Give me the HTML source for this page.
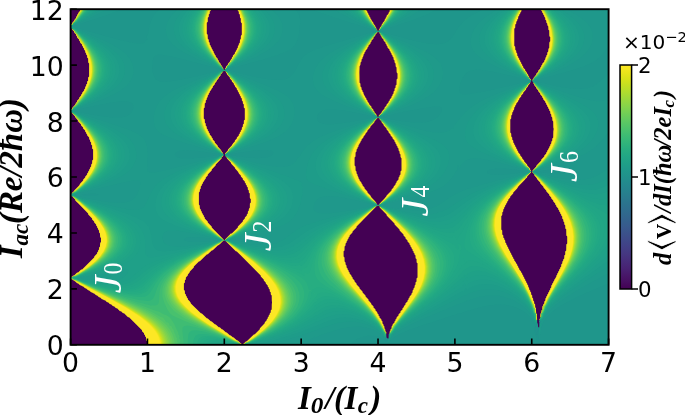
<!DOCTYPE html>
<html lang="en"><head><meta charset="utf-8"><title>Shapiro map</title>
<style>
html,body{margin:0;padding:0;background:#fff}
body{width:685px;height:415px;overflow:hidden}
svg{display:block}
.t{font-family:"DejaVu Sans","Liberation Sans",sans-serif;fill:#000}
.s{font-family:"Liberation Serif","DejaVu Serif",serif;font-weight:bold;font-style:italic;fill:#000}
.j{font-family:"DejaVu Math TeX Gyre","DejaVu Serif","Liberation Serif",serif;fill:#fff}
.m{font-family:"DejaVu Math TeX Gyre","DejaVu Sans",sans-serif;font-weight:normal;font-style:normal}
.n{font-family:"Liberation Serif","DejaVu Serif",serif;fill:#fff}
</style></head><body>
<svg width="685" height="415" viewBox="0 0 685 415">
<defs><clipPath id="c"><rect x="70.6" y="9.2" width="538.0" height="335.6"/></clipPath>
<linearGradient id="g" x1="0" y1="0" x2="0" y2="1"><stop offset="0.0000" stop-color="#fde725"/><stop offset="0.0312" stop-color="#ece51b"/><stop offset="0.0625" stop-color="#d8e219"/><stop offset="0.0938" stop-color="#c2df23"/><stop offset="0.1250" stop-color="#addc30"/><stop offset="0.1562" stop-color="#98d83e"/><stop offset="0.1875" stop-color="#84d44b"/><stop offset="0.2188" stop-color="#70cf57"/><stop offset="0.2500" stop-color="#5ec962"/><stop offset="0.2812" stop-color="#4ec36b"/><stop offset="0.3125" stop-color="#3fbc73"/><stop offset="0.3438" stop-color="#32b67a"/><stop offset="0.3750" stop-color="#28ae80"/><stop offset="0.4062" stop-color="#22a785"/><stop offset="0.4375" stop-color="#1fa088"/><stop offset="0.4688" stop-color="#1f988b"/><stop offset="0.5000" stop-color="#21918c"/><stop offset="0.5312" stop-color="#23898e"/><stop offset="0.5625" stop-color="#26828e"/><stop offset="0.5938" stop-color="#297a8e"/><stop offset="0.6250" stop-color="#2c728e"/><stop offset="0.6562" stop-color="#2f6b8e"/><stop offset="0.6875" stop-color="#33638d"/><stop offset="0.7188" stop-color="#375b8d"/><stop offset="0.7500" stop-color="#3b528b"/><stop offset="0.7812" stop-color="#3e4989"/><stop offset="0.8125" stop-color="#424086"/><stop offset="0.8438" stop-color="#453781"/><stop offset="0.8750" stop-color="#472d7b"/><stop offset="0.9062" stop-color="#482374"/><stop offset="0.9375" stop-color="#48186a"/><stop offset="0.9688" stop-color="#470d60"/><stop offset="1.0000" stop-color="#440154"/></linearGradient></defs>
<rect width="685" height="415" fill="#fff"/>
<g clip-path="url(#c)" shape-rendering="geometricPrecision">
<rect x="69.6" y="8.2" width="540.0" height="337.6" fill="#20938c"/>
<path fill="#1f948c" d="M68.6 346.8l172.8 0 0-2.5 .4 0 .5 0 0 2.5 368.3 0 0-339.6-542 0 0 187.9 2.5 0 .8 .4-.3 1-3 0zM223.8 155.6l-.7-.1 .3-1 1.4 0 .4 1zM378.5 205.5l-.4 0-.3-1 1.4 0 0 1zM385.5 340.6l-.4-1.3 .7-2 .4-3 1.3-.3 1.6 .3-.4 3-1.2 2.5-1 1.3zM531.2 81.7l-.6-.1 .3-1 .6 0 .5 1zM537.2 335.1l-1.5-3.8-.1-4 1.1-3 1.1-2 .2-2 1.6 0 .6 1zM224.8 70.7l-.5-.1 .5-.9 1.3 .9zM378.5 117.6l-.6 0-.4-1 1.7 0 .3 1zM378.5 31.7l-.5 0 .5-.8 1.2 .8z"/>
<path fill="#1f968b" d="M68.6 346.8l172.7 0 0-2.5 .5 0 .6 0 0 2.5 294.6 0-.1-8.5-.6-2-.6-1-.8-3-.3-4 .5-2 .4-1 1.7-1.9 .5-1.1 .2-2 .3 0 1.5 0 .8 1-1.8 8-.3 3-.2 3 1.2 5 .1 6.5 71.1 0 0-339.6-542 0 0 187.8 2.5 0 1 .5-.4 1-3.1 0zM223.8 155.6l-.8-.1 .2-1 1.8 0 .3 1zM378.5 205.5l-.6 0-.3-1 1.7 0 .1 1zM385.5 341.8l-.7-1.5 0-1 1-2 .3-3 1.4-.3 1.6 .3-.4 3-1.2 2.8-1 1.9zM531.2 81.7l-.8-.1 .1-1 1.3 0 .3 1zM224.8 70.7l-.7-.1 .3-1 1.4 .2 .5 .8-.5 .3zM378.5 117.6l-.8 0-.4-1 2.1 0 .4 1zM378.5 31.7l-.7 0 .5-1 1.2 .3 .5 .7-.5 .2z"/>
<path fill="#1f988b" d="M68.6 346.8l172.6 0 0-2.5 .6-.1 .8 .1 0 2.5 108.8 0 0-2.5 .4-1 1.7-2 3.2-2 5.9-2.3 5.9-1.2 6 .1 5 1.2 4 2.2 1-.2 .3-.8 .7-.4 .6-3.6 1.4-.4 1 .2 .7 .2-.2 2-1.5 5 0 .5 1 .5 1.3-1 2.7-3 4.6-3 8.9-4 13.6-5 40-13 2.8-.4 .4-.6 1.6-.4 1-.7 2-.3 11.9-3.4 9-2 10-.9 6 .2 5 .8 6 1.7 5 2.2 5 3.1 3.9 3.6 3 3.7 2 3.9 1 .7 1-.3 1-1.1 .6-2.8 2 0 1 1-.8 2-1.2 7 .4 5.3 1-1.3 2-9.6 .9-2.4 1.1-1.9 2-2.7 3-3.2 6-5 6-4 5.4-3.1 13.9-7 25.6-11 2-.5 2.5 0 0-209.5-2.5 0-1 .5-8.4 7.7-5.6 3.6-5 1.8-6.9 1-10.5-.4-13-2-17.6-4-3.1-1-1-1 5.9-2 31.3-8.6 8.9-2.9 7-2.8 6-3.3 4.5-3.4 2.8-3 4.7-6.6 1-.8 2.5 0 0-34.1-2.5 0-.5-.4 .5-.5 2.5 0 0-5-12.8 0 0 2.5-2.7 .1-2.1-.1 0-2.5-110.5 0 0 2.5-11.6 6-4.3 3-3.4 3-4.3 5-2.7 4-1.8 3.4-2.7 3.6-3.3 3.3-2.6 1.7-2.4 .9-6 .7-8-.6-15.1-3-25.8-7-5.6-2-1-1 4.6-2 26-8.4 12.9-5 8.9-4.6 1.1-1 0-2.5-121.7 0 0 2.5 1.5 1 4.7 2 15.7 5.4 34 10.6 2.8 1 1.6 1-.8 1-2.6 1-46 13.6-9 3.1-5.9 2.6-3 1.9-3.3 2.7-4.7 7.1-4.1 7.9-1.9 2.7-2 2-2 1.4-3 1.3-4 .8-4 .2-10-.8-14.3-2.6-20.7-5-3.1-1-1.1-1 2.1-1 3.3-1 27.8-7.6 16-4.9 9-3.6 3.3-1.8 2.5-2 2.5-3 2.4-5 1.6-6 1-9 .3-5-.1-1-.8-1-.2-1 .4-2-.9-.7-1-1.8-2.2-2.5 0-2.5-136.7 0 0 2.5-2.9 3-2.3 3-2.9 6-1.4 5-1.5 8-.9 1-.4 1 .8 2-.3 1-1.5 1-.5 1.5-.7 .5-2.3 .9-2 .1-8-1-13-3-32.6-9-12-4 .3-1 2.5-1 26.8-8.6 14.7-5.4 1.7-1 0-2.5-51.8 0 0 187.7 2.5 0 1.2 .6-.5 1-3.2 .1 0 81.7 2.5 .1-2.5 0zM84.1 195.5l-2.7-1 8.7-.7 5-.1 4 .8-2.5 1-1.5 .1zM114 117.6l-10.7-1-12.3-2-14-3-1.8-1 2.6-1 8.4-2 24.8-5 11-1.3 6 .3 3 1.1 1 .9 1.1 2 .2 2-.3 2-.8 2-1.2 1.6-3 2.3-3 1.2-5 .8zM160.9 81.7l-3.4-1.1-2.4-2-1.5-3-1.5-6 .6-8 .6-3 .6-1.4 1-1.2 2-1.1 3-.3 3 .3 10 1.9 38.3 9.8 6.8 2 2 1-1 1-6.8 2-16.5 4-13.8 3-13 2-4 .3zM182.9 158.5l-4-.7-2-.8-.9-.5-.8-1-.3-1 .1-1 .8-1 1.1-.6 2-.8 3-.6 6-.3 8 .6 13.1 1.7 5.7 1 3.7 1-2.1 1-12.8 2-11.6 1.1zM223.8 155.6l-.9-.1 .1-1 2.2 0 .2 1zM246.8 157.6l-14.5-2.1-2-1 3.7-1 19.8-2.9 8.9-.7 4 0 4 .6 2.1 1 .6 1 0 1-.6 1-1.1 1-1.9 1-3.4 1-8.6 .7zM322.6 123.8l-3.1-1.2-1.9-2-.6-2 .4-3 1.1-2 2.3-2 2.8-1.3 3.8-.7 7.2-.1 9.4 1.1 16.3 3 12.5 3-.3 1-3.8 1-21.4 4-7.7 1-8 .7-5 0zM378.5 205.5l-.7 0-.3-1 1.9 0 .2 1zM414.5 122.6l-10.3-1-12-2-8.7-2-.1-1 17-4 25-4.9 9-1.3 5 .2 2 1 .5 1 0 2-.8 2-1.2 2-1.8 2-2.4 2-3.8 2-4.5 1.3-6 .7zM461.4 93.9l-1.6-1.3-.6-3 1-6 2.2-5 1.7-3 2.3-2.5 3-1.9 3-1 3.9-.4 5 .1 11 1.7 21.8 5 11.1 3 2.2 1-1 1-7 2-35.1 8-15.9 2.7-4 .2zM491.3 174.6l-3.6-1.1-.8-1 .2-1 1.1-1 2.3-1 5.8-1 7.1 0 10.9 1 6.9 1 4 1-3 1-16.4 2-8.5 .4zM531.2 81.7l-.9-.1-.1-1 1.8 0 .3 1zM551.2 173.5l-9.7-1-3-1 4.3-1 15.5-2 6.9-.4 6 .3 1 .2 1 .9-.5 1-1.5 1-5 1.4-6 .7zM224.8 70.7l-.9-.1 0-1 2.2 0 .4 1-.7 .5zM377.5 117.6l-.4-1 2.8 0 .2 1-.6 .3zM378.5 31.7l-.9 0-.1-1 2.1 0 .7 1-.8 .4z"/>
<path fill="#1f9a8a" d="M68.6 346.8l172.5 0 0-2.5 .7-.1 .9 .1 0 2.5 57 0 0-2.5 .9-1 3.4-2 8.7-3.1 1.9-1.7 1 .7 1-.3 3.9-1.6 19.1-6.2 8.4-1.8 7.6-.7 4 .1 5 .6 3.9 1 4 1.3 3.7 1.7 3.3 2 2 1.6 3 3.4 1-.6 .6-3.4 1.4-.4 1.7 .4-.3 3-.9 3 .5 1 1.3-1 2.7-4.3 4-3.5 6.7-4.2 9.9-5 11.3-5 29-12 8-3.2 2-.3 1-.9 1.8-.5 .2-.7 2-.2 10.9-3.5 9-1.6 9 .2 3 .3 5.9 1.5 8.1 3.2 7 4.3 5 4.2 3.9 4.7 3 5 1.1 3.5 .9 1.5 1 .1 1-1 .5-2.6 2.2 0 1.3 1-.2 1-.9 1-.4 5-.5 2 0 1.9 1-1.3 1.4-5.6 .3-2-.4-2 .7-.2 1-1.3 2-3.6 3-4 4-4.2 4-3.6 11.1-8 16.7-10 22.1-11.8 2-.7 2.5 0 0-104.6-2.5 0-1 .3-10 5.8-6 2.5-6.3 1.6-6.6 .6-10.9-.6-11.7-2-15.9-4-2.8-1-1.6-1 5.3-2 27.6-8.6 10-3.8 6.9-3.3 6-3.5 6.1-4.8 4.9-5 5-6.3 1-.7 2.5 0 0-29.3-2.5 0-.8-.6 3.3-.3 0-2.6-3.2-.1-1.3-1.6-2 1.5-1 .3-3 .5-3-.1-5-.6-8-1.9-16.3-5.1-22.7-8-7.6-3-1.7-1-.9-1 3.9-2 18.4-7.6 10-4.7 9.6-5.7 4-3 3.4-3 2.7-3 2.8-3.9 1.8-4 .9-3 .5-4-.1-3-1.1-4-1.6-3-3.2-4-4.8-4.1-4.9-3.4-9.4-5.5 0-2.5-71.4 0 0 2.5-9.1 6-5.1 4-4.9 5-3.5 5-2.2 5-1 5 .2 5 1.3 4 2.5 3.9 2.9 3 4 3 4.8 3 13 6.4 25.6 10.6 3.7 2-.9 1-1.9 1-29.5 11.4-9 3.9-8 4.1-7.9 5.1-6.3 5.5-4.4 5-7.1 9-.2 1.5-.5 .5-.5 .2-1-.9-.9 1.7-1.1 .7-2.5 1.3-2.5 .7-4 .5-4-.2-7-.9-12.9-3.1-26.9-8-5.6-2-2-1-.5-.6-1-.2-.2 .8-.8 .4-2.3-.4-.3-1 2.6-.4 1 .3 2-.2 3.9-1.7 23.1-8.5 12.9-6.1 7.3-4.4 4.8-4 4.2-5 2.7-5 1.2-4 .4-3 0-3-.5-3-1-3-1.8-3-2.6-3-2.7-2.3-3.7-2.7-5.1-3-13.1-6.4-27-11.5-4-2.2-2 .7-1-.5-1.3 0-.2-1 4.5-.3 2.8-1.7 16.2-7.5 10.6-5.5 7.8-5 1-1 0-2.5-84.4 0 0 2.5 1.1 1 4.6 3 12.4 6.5 17.9 8.3 3.5 2.2-.3 1-4.2 2-19.9 8.5-12 5.8-9 5.3-6 4.6-3.7 3.7-2.3 3-1.8 3-1.7 4-1 4-.2 3 .2 4 .9 3 1.5 3 2.5 3 3.7 3 3.9 2.5 7.2 3.5 8.8 3.7 30.8 11.3 1.8 1 0 1-5 2-34.6 11.5-10 3.9-6 2.8-6.1 3.7-4.9 4-4.3 5-2.1 3-1.5 2.8-2 1.4-2 3.5-3 2.7-2.9 1.6-3.1 1-4 .4-4 0-10.9-1.4-13.8-3-22.1-6-2.6-1-1.5-1 5.2-2 23.8-7.4 10.9-3.9 10-4.4 7-4.5 3-2.7 2.4-3 2.3-4 1.3-4 .8-5 0-4-.8-4-1.3-3-2-3-3-3-4.3-3-5.4-3-15-6.5-30.1-11.5-2.8-1.2-2-1.3-1-.3-.1 .8-.9 .6-1-.5-1.1-.1-.2-1 4.3-.2 3.2-1.8 15.8-6.5 9-4 10.9-6 7.2-5.4 3.8-4 2.1-3 1.5-3 1.1-4 .3-4-.3-3-.9-3-2-4-3.1-4-4-4 0-2.5-95.6 0 0 2.5-3.9 4-3.2 4-2.1 4-1.3 4-.4 4 .4 4 1 3 2.2 4 2.4 3 3.3 3 4 3 4.9 2.9 12.8 6.3 20.8 8.7 3.2 2-.8 1-4.1 2-22.1 8.5-14 6-8.6 4.5-7.1 5-3.1 3-2.4 3-1.7 3-1.7 4-1.1 4-.4 4 0 4 .7 4 1.3 3 2.5 3 3.6 2.6 4.9 2.3 15.1 5.6 33.8 10.4 2.9 1 1.7 1-1 1-2.7 1-28.9 8-26.8 6.7-6 1.2-3.9 .3-1-.1-1-1-1-.1-.4-1-.1-1 .5-1-.8-1-.1-2 .6-2-.4-2 .4-7-.7-8.3-1.6-4.7-1.1-2-1.5-2-1.8-1.6-5-3-7.7-3.3-13.3-4.7-34.8-11.3-5.1-2-1.3-1 4.1-2 18.2-6.6 9.9-4 8-3.7 7-4 5.9-4.7 1.8-2 2.1-3 2.1-5 .6-3 .1-3-.3-3-.9-3-2.5-5-4.3-5-5-3.9-6.4-4-8.2-4.3-32.9-14.7 .6-1 1.8-1 18.6-8.6 10.1-5.4 1.3-1 0-2.5-36.9 0 0 187.6 2.5 0 1.4 .7-.6 1-3.3 .1 0 81.4 2.5 0 .2 .4-2.7 0zM112 202.5l-8.2-1-16-3-11.9-3-.6-1 10.4-3 37.3-9.1 10-2 5-.2 1 .4 .8 .9 .4 1 0 2-.5 3-1.3 4-1.4 3-2 3-2 1.9-3.7 2.1-4.3 1-6 .4zM187.9 241.5l-3.1-1.1-.7-1 .5-1 2.7-1 3.6-.3 9 .2 9.8 1.1 6.1 1 .3 1-7.2 1-10 .7-6 0zM223.8 155.6l-1-.1 .1-1 2.5 0 .1 1zM241.8 241.4l-9.2-1 .5-1 6.4-1 8.9-1 7.4-.4 5.2 .4 1.2 1-.8 1-2.3 1-4.3 .8-6 .4zM321.6 213.5l-4-.7-2.5-1.3-1.3-2-.2-3 1.2-4 2.3-3 2.9-2 3.6-1.1 7-.4 11 1.3 15.4 3.2 15.7 4 .1 1-3.1 1-19.7 4-17.4 2.5-6 .6zM378.5 205.5l-.9 0-.2-1 2.1 0 .3 1zM415.5 210.5l-13-1-11.8-2-7.7-2 .5-1 30-7.5 10.9-3 9-3 7-3.2 3-1.8 3.3-2.5 2.7-2.6 2.8-3.4 2.2-3 1-2.2 1.8-1.8 .1-4 1.1-1.5 1 3.5 1-1 .9-3 .9-1 3.2-2.7 3-1.5 4-.9 3.9-.1 6 .6 5 .9 11.5 2.7 14.4 4 10 3 3 1 1.7 1-1.5 1-2.9 1-39.2 10.5-16.9 5.1-7 2.7-5 2.3-5 3-10.9 7.4-6.1 3-7 2-5 .7zM530.2 81.8l-.6-1.2 2.6 0 .3 1zM607.6 97.6l.5 .7 2.5 0 0-3.2-2.5 0-.5 .5z"/>
<path fill="#1e9c89" d="M68.6 346.8l172.4 0 0-2.5 .8-.1 1 .1 0 2.5 30.9 0 0-2.5 1.8-1 2.7-1 21.5-6.5 12-4 1.9-.9 2-.3 1-.6 10.3-3.7 11.7-3.8 2 .2 3-.8 6-.5 6 .4 5 .9 5.7 1.6 4.8 2 5.4 3 3 2.3 3 3 1.4 2.7 .6 .6 1-.4 .5-3.2 1.5-.4 1.7 .4-.2 3-.8 2 .3 1.4 1-.7 1.3-1.7 1.7-3.3 5-4.8 7-4.8 9-5.1 48.9-23.8 2-1.6 2 .3 2-1.6 8.9-2.9 5-1.1 4-.4 6 .1 7 1.2 7 2.3 7 3.5 8 5.6 4 3.7 2.9 3.4 4 6 2 5.2 .4 2.1 .6 .9 1 .4 1-1 .5-2.3 2.4 0 1.1 .6 1.7-1.6 3.3-6.2 4-5.2 6-6 7-5.8 15-10.6 23.9-15.2 5-2.9 1-.3 2.5 0 0-89.1-2.5 0-2 .6-2 1.9-6 2.4-4 1.3-6 .8-6 .1-10.9-1.6-12-3-15.8-5-5.3-2-3.9-2 29-11.6 8-3.8 7.8-4.6 6.1-4.5 5.6-5.5 3.7-5 2.8-5.9 .8-3 .3-3-.1-3-.8-3-1.5-3-1.4-2-4.3-4-4.2-3-9-5-10.8-5.3-27.6-12.7-3.4-2-1-1 20-10.2 9-5.2 7.9-5.6 6.4-6 2.3-2.9 1.9-3 1.3-3 1-4 .2-6-1.6-5-1.7-3-3-4-4.1-4-12.1-9 0-2.5-59.9 0 0 2.5-10.3 8-5.9 6-2.8 4-2 4-.9 3-.6 4 .2 4 1.2 4 1.5 3 2.2 2.9 2.8 3 3.4 3 9.7 6.6 9 5 15 7.5 3.9 2.5 1 .3 1-.2 2.4 .3 0 1-2.4 .4-1-1.1-4.5 2.7-24.4 11.5-11.6 6.5-5.4 3.6-4.2 3.4-3.2 3-3.5 4-2.8 4-2.1 4-1.5 4-.8 4-.2 3.9 .5 3 1.3 3 2.5 3 3.9 3 6.1 3.5 16 6.9 29.6 11.6 3.3 1.8 3.3 .2-3.3 .3-.9 .7-4.9 2-27.1 9.4-13 5.1-7 3.1-7.9 4-7 4.3-10.7 7.1-5.4 3-6.9 2.6-7 1.3-5 .2-5-.2-12.9-1.9-16.8-4-6.5-2-2-1 .3-1 2.5-1 22.5-7.5 12-4.8 8.9-4.5 4-2.5 3.6-2.7 3.3-3 3.4-4 2.6-4 1.9-4 1.6-5 .5-4-.3-4-1.1-3-2.1-3-3.5-3-3.9-2.4-6.9-3.6-44-17.9-6-2.9-1-.1-1 .6-1-.6-1.5 0-.2-1 1.7-.1 1-.6 1 .4 2-.4 23-10.7 11.6-6.6 4.2-3 3.5-3 2.9-3 2.2-3 1.8-3 1.2-3 .7-4 .2-4-.6-3-1.7-4-2.7-4-3.9-4-4.9-4-5.5-3.7-8-4.6-22-11.6-3-1.9-1 0-1 .5-1-.6-1.7 0-.3-.9-.9 .9-2.1 .7-21.9 11.8-10.7 6.5-5.5 3.9-4.4 4-3.5 4-2.6 4-2 5-.6 4 .4 5 1.4 4 1.8 3 3.4 4 3.4 3 4.2 3 5.7 3.4 8 4.2 22.7 10.4 1.5 1 .2 1-6.5 3-20.9 8.5-11 5.1-9.5 5.3-6.8 5-3.2 3-3.3 4-2.6 4-1.9 4-1.7 5-1.1 5-.5 5 .2 3 .7 2 1.8 1.9 4.9 2.6 15 5.4 42.9 14.1 2.2 1 0 1-5.2 2-48.9 13.2-13.9 4.5-7 3.2-14.9 11-3.6 2-3.5 1.5-5 1.3-3 .5-9.9 .3-8-.6-13-2-8.2-2 .4-1 41.7-10.4 10-3.3 4-1.9 3-1.8 3-2.4 2.7-3.1 1.9-3 2-4 2.1-6 1.4-7 .7-2-.5-2 .9-1-.6-2 .1-1 1.2-1-.9-.8-1.5-2.2 1.4-1-1.9-1.4-5.2-2.6-17.8-6.5-42-14.5-5.1-2-3.6-2 27.8-11.4 7.9-3.8 6.6-3.8 6.4-4.8 4-4.1 2.5-4 1.6-4 .6-3 .1-3-.4-3-1-3-1.5-3-2.1-3-5.1-5-7.7-5.3-10.9-6-22.5-10.7-5.5-2.9-1 0-1 .6-1-.6-1.4-.1-.3-1 2.7-.3 1 .1 1-.3 2.2-1.5 16.8-8.5 7.8-4.5 5.1-3.4 4.6-3.5 4.1-4 3-4 1.6-3 1.4-4 .4-4-.4-4-1.3-4-1.6-3-2.1-3-4.5-5 0-2.5-81 0 0 2.5-4.5 5-2.1 3-2 4-1 3-.5 4 .4 4 1.2 4 1.6 3 2.2 3 2.8 3 3.4 3 4.5 3.3 9.3 5.6 17.6 9.1 4.7 2.9-.7 1-3.5 2-18.4 8.7-11 5.7-7.5 4.6-6.5 5-3 3-2.4 3-2.8 5-.9 3-.6 3 0 3 .5 3 1.4 4 2.7 4 4.1 4 5 3.5 6.1 3.4 6.9 3.3 26.4 10.7 3.7 2-.9 1-4.6 2-23.6 8.5-13 5.1-9 4.1-5.8 3.3-6.4 5-4.3 5-2.9 5-3.3 8-3.2 5.4-2.3 1.6-1.7 .8-5 .7-5-.3-7-1.1-17.8-4.1-24.9-7-5.3-2-.5-1 4.8-2 16.8-5.6 12.9-4.8 9-4.1 6.3-3.5 5.1-4 1.9-2 2.1-3 2.2-5 .7-3 .1-3-.6-5-2.1-5-3.8-5-4.9-4.1-7-4.4-8-4-33.8-14.4-3.3-2 26.1-12.4 8.3-4.6 5.9-4 5.5-5 3.7-5 1-2 1.2-4 .3-4-.3-3-.8-3-2-4-3.8-5-5.4-4.9-5.6-4-7-4.4-27.4-14.6 .5-1.1 17-9.4 8.8-5.5 1.1-1 0-2.5-31.4 0 0 187.5 2.5 0 1 .2 .5 .6-.6 1-3.4 .1 0 81.2 2.5 0 .4 .6-2.9 0zM172.9 246.5l-4-.8-2.8-1.3-2.2-2-1.3-3-.1-3 1-3 2.1-2 3.3-1 7 0 8 1.1 18.8 3.9 16.2 4 .1 1-3.5 1-15.8 3-15.8 2-6 .3zM222.8 155.5l-.4-1 3.2 0 0 1zM377.5 205.5l-.2-1 1.2-.1 1.2 .1 .3 1-.5 .2zM540.1 327.3l.1 .7 1-3.3 0-1.5-1 .4zM374 29.7l1.5 .9 3 0 3-.5 2-1.5 17-9.4 8.4-5.5 4.8-4 0-2.5-71.4 0 0 2.5 4.9 4 8.4 5.4 15.4 8.6z"/>
<path fill="#1f9e89" d="M68.6 346.8l172.3 0 0-2.5 .9-.1 1.1 .1 0 2.5 15.4 0 0-2.5 17.4-4.5 14-4.2 14-4.9 9-3.7 1.9-.2 1-.8 3-1.3 13-4.9 7-1.9 6-.4 6 .2 6 1.1 6 1.8 6.4 2.7 5.5 3.3 5 3.9 3 3.2 2 3.8 1-.2 .5-3 1.5-.4 1.8 .4-.2 3-.7 2 .1 .8 1-.6 .9-1.2 1.1-2.6 1-1.4 4-4.3 6-4.7 9.3-6 49.6-27.5 1-.5 2 .3 .4-2.2 .6-1.2 2 1.6 .8-.4 1.2-1.5 4-1.7 4.9-1.4 5-.7 7 .1 6 1.4 8 2.9 7.2 3.9 5.8 4 4 3.3 4 4 2.9 3.6 3 4.6 2 4 1 3.1 .4 2.3 .6 1.5 1 .5 1-1 .4-2 3.6 .1 1.9-2.1 2.1-4.8 5-7.1 5-5.4 6-5.5 13-10.2 31.9-23 2-1 2.5 0 0-76.4-2.5 0-1 .3-5 2.5-6 1.7-6 .3-7-.6-10.9-2.6-12.3-4-15.7-6-5-2.1-5.6-2.9 25.6-11.6 7-3.8 7.3-4.6 5.2-4 5-5 3-4 3-5.9 1-6-.2-3-.8-3-1.3-3-1.9-3-4.4-4.6-5.4-4.4-6.5-4.3-11-6.3-20-10.6-3-1.8-2.5-2 18.5-10.6 8.3-5.4 7.6-6 5.5-6 2.1-2.9 1.9-4 1-3 .4-3 .1-3-.5-3-.9-3-2-4-2.9-4-3.7-4-10.8-9 0-2.5-53.3 0 0 2.5-9.4 8-3.8 4-2.3 3-1.9 3-1.8 4-1.1 4-.2 3 .4 4 .8 3 1.9 4 2.1 2.9 2.6 3 4.3 4 5.2 4 5.5 3.7 18 10.5 2.9 2.2 1 .4 1-.3 1 .4 1.7 .1-.1 1-1.6 .1-1 .5-1-.7-1 .3-4.6 2.8-21.3 11.5-10.2 6.5-7.4 6-3.9 4-2.4 3-2.4 4-1.3 3-1.2 4-.4 3 .1 3 .7 2.9 1.8 4 3 4 4.6 4 5.8 4 12.2 6.6 22.3 10.4 4.6 2.5 3.9 .5-2.9 .3-1 .4-4.6 2.3-23.3 9.4-14 6.2-9 4.7-6.9 4.2-6.5 4.5-11.5 8.6-2 .8-2 1.5-6 2.4-6 1.3-5 .2-5-.3-6-.8-7.9-1.7-11.3-3-9.6-3-8.2-3-1.7-1 .4-1 2.1-1 19.3-7.6 9-4 6-3.1 5.4-3.3 5.4-4 5.1-5 3.5-5 2.1-5 .7-3 .2-3-.3-3-.9-3-1.5-3-2.2-3-1.9-2-3.7-3.1-7-4.5-6.9-3.9-30-14.3-5-2.9-1-.1-1 .6-1-.6-1.8-.1-.1-1 1.9-.1 1-.8 2 .3 1-.5 22-11.6 9.5-6.3 6.7-6 2.6-3 2-3 1.4-3 1.2-4 .4-4-.4-3-.8-3-1.3-3-1.9-3-3.3-4-3.1-3-5-4-8.7-5.9-18.3-10.9-4-2.8-1-.1-1 .6-1-.8-2 .1-2 .4-19.9 11.9-9.7 6.6-4.9 3.9-4.2 4-3.2 4-2.4 4-1.8 5-.5 4 .4 4 1.2 4 1.6 3 3 4 3 3 4.9 4 11.6 7.3 19.9 10.6 1.7 1.1 .5 1-1.2 .3-5 2.7-15.9 7.5-10 5.1-9 5.3-6.8 5-3.2 3-3.5 4-3.5 6-1.4 4-.6 3-.1 3 .4 3 1.3 4 1.9 3 2.8 3 5.1 4 7.1 4 9.5 4.4 28.6 11.6 1.9 1 0 1-4.3 2-34.2 11.3-16 6.1-6 2.7-5.9 3.2-5 3.2-10.7 7.4-4.3 2.5-6 2.5-6 1.2-5 .3-5-.1-11.9-1.3-15-3.1-7.5-2-2.6-1 .4-1 2.7-1 19-5.6 13.9-4.9 9-4 6-3.5 6-4.9 3.8-5 1.6-3 1.1-3 .7-4 .2-3-.4-3-.8-3-1.5-3-1.5-2-4.1-4-7.1-4.7-12-6-33.8-14.3-5.1-2.8-1-.2-.1 1-3.3 0-.4-1 .8-.2 3 .2 2-.6 21-9.7 8.7-4.7 7.7-4.9 5.8-5 4.1-5 2.4-5 .9-5-.5-5-1-3-1.5-3-3.9-5-5.4-5-5.5-4-6.4-4-21.9-12-4.5-2.8-1 0-1 .7-1-.8-1.7-.1-.3-.7-1 0-.6 .7-3.4 2.1-23.9 13.2-7.1 4.7-5.2 4-5 5-3.5 5-2.1 5-.7 5 .4 4 1 3 1.5 3 3.1 4 4.6 4.2 5.3 3.7 7.7 4.5 10 5 14.2 6.5 3.5 2-2.8 2-24.9 10.6-10 4.6-8 4.3-6.8 4.5-5.5 5-2.5 3-2 3-1.5 3-1.3 4-.8 4-.1 3 .5 5 1.5 4 2.5 3.1 2.4 1.8 2.6 1.6 9 3.9 9 3.1 34.2 10.4 2.6 1 .2 1-10.3 3-22.6 5-15.1 2.4-9 .5-5-.9-2-1.1-1.7-1.9-1.5-3-.9-5-.2-3-.4-2-.6-1-.4-3-1.1-2 .1-1-4.2-4.9-2.8-2.1-6-2.9-9.2-3.7-48-16.3-4.5-2-.6-1 30.1-12.7 8.3-4.3 5.7-3.7 5.1-4.3 3.8-5 1.1-2 1.1-3 .7-5-.8-5-2.2-5-4-5-5.7-4.9-5.9-4-8.2-4.6-29.9-14.9-1-.1-.2-.4 1.2-.2 21-11.3 7.4-4.5 6.8-5 5.2-5 3.5-5 2-5 .6-5-.8-5-2.2-5-2.8-4-4.7-4.9-6.1-5-7.3-5-23.6-14 1-1.3 15-9.3 7.8-5.4 1-1 0-2.5-28.3 0 0 187.4 3.5 .1 .7 .8-.8 1-3.4 .1 0 80.9 2.5 0 .6 .9-3.1 0zM86.1 279.4l-7.7-1 .8-1 13-2 9.8-1 5-.1 2 .3 2 .7 .4 1.1-1 1-2 1-4.4 1-7.9 .4zM224.8 240.5l-.9-.1 1.9-.3 .3 .3-.3 .3zM377.5 205.5l-.2 0-.1-1 1.3-.2 1.3 .2 .3 1-.6 .4zM220.4 68.6l1.4 .9 3 .1 1-.5 1 .2 19-11.1 6.8-4.6 6.3-4.9 4-4 3.1-4 2.2-4 1.1-3 .6-4-.2-4-.7-3-1.7-4-2.6-4-4.1-5 0-2.5-72.6 0 0 2.5-4 5-2 3-1.5 3-1.3 4-.5 4 .2 3 .7 3 1.7 4 1.9 3 3.4 4 6.8 5.9 9.5 6.5 14.9 8.7zM374.4 29.7l1.1 .7 2 .2 3-.3 1-.6 15.7-10 8.4-6 4.4-4 0-2.5-63.8 0 0 2.5 3.1 3 7.3 5.3 14.9 9.5z"/>
<path fill="#1fa088" d="M68.6 346.8l172.2 0 0-2.5 1-.1 1.2 .1 0 2.5 8.1 0 0-2.5 14.6-3.5 17-5.1 10-3.5 8-3.2 14.9-6.6 .5-1.1 .5-.1 1 .3 .7-.2 2.3-1.4 7-2.9 7-2.1 7-.9 6 .3 6 1.2 6 1.9 6.9 3.1 7 4.1 5 4 4 4.4 2 4.2 1-.1 .5-2.8 1.5-.4 1.8 .4-.3 4 .5 .8 1.2-1.8 .7-2 3.1-4 3-3 5-4.1 10-6.7 29.9-18.1 19-12.2 1-.8 2-3.3 1 1.9 1 1.1 2-2.7 2-1.2 5.9-2 5-.7 4 0 5 .8 8 2.6 9 4.5 9 6.2 7 6.4 3 3.4 2.9 4 4 7.4 1.6 6.5 .4 1.1 1 .7 1-1.2 .3-1.6 3.7-.2 1-.9 .7-.9 1.3-3.7 1-1.9 4-6.2 5-5.9 7-6.8 9-7.7 21.1-16.7 14.8-12.3 2-1.1 2.5 0 0-64.5-4.5 .1-.3 .9-.7 .4-1-.2-3 1.1-5 .5-6-.5-8-1.7-11.9-4.1-13.7-5.5-15.7-7-6.6-3.6-3-.4-1 .7-1-.2-1.9 .8-5.1 2.7-22.9 10.3-16 8.3-6 3.7-5.9 4.2-15 12.4-7 4.9-8 2.2-4 .3-4-.2-4-.4-6-1.1-13.3-3.6-17.4-6-9.9-4-1.6-1 .5-1 1.9-1 16.9-7.4 12-6 7.3-4.6 6.3-5 2.9-3 3.1-4 1.1-2 1.7-4 .9-4-.3-4-1-4-2.6-5-3.6-4-4.6-4-7.1-5-11.1-6.4-20-10.5-4-2.6-1-.1-1 .5-1-.7-3 .1-1 .3-25.9 14-8.8 5.4-6.6 5-5.1 5-4.4 6-2.1 5-.8 5 .2 4 1.6 5 3 4.6 5 4.6 5.3 3.8 6.9 4 10.8 5.4 19.1 8.6 1.8 1 0 1-6.4 3-30.5 11.4-14 6.1-7 3.7-6.9 4.3-12 8.9-1.3 .5-1.7 2-6 2.7-4 1.4-4 .7-4 .4-5-.1-7-.7-12.6-2.4-18.7-5-5-2 .2-1 21.2-7.5 11.9-4.8 9-4.7 7.2-4.9 4.8-5.1 3-4.9 1.5-5 .3-3-.2-3-1.6-5-3.3-5-4.7-4.6-6.3-4.4-11.7-6.5-26.4-12.5-6.5-3.5-1 .2 0 .3-2 .2-1.6-.2-.4-.7-4.6 2.7-28.3 13.6-7.7 4.4-6.3 4.3-5.4 4.7-2.6 3-2.1 3-2.3 5-.8 3-.4 3 .5 5 .9 3 1.1 2 3.1 4 4.8 3.9 6.2 3.6 8 3.7 11 4.3 21 7.4 2.2 1 .1 1-5.3 2-10.4 3-31.6 8.1-15 3.1-5 .7-3.9 .1-1-.4-1-1.4-1-.4-.6-.8-.3-2 .2-11-.6-4-1.2-4-2.7-5-2.5-3-2.1-2-6.2-4.2-9-4.6-13-5.5-29.8-11.6-4.2-2-.6-1 26.6-12.3 8.3-4.7 6.9-5 5-5 3.1-5 1.4-4 .2-7-1.7-5-3.2-5-3.7-4-6.1-4.9-12.2-7.7-23.9-13-1-.3-1 .2-.6-.2-.4-.5-2.5 0 0 83.4 3.5 0 .9 1-.9 1-3.5 .1 0 80.8 2.6 0 .7 1-3.3 0zM96.1 281.4l-15.4-2-4.1-1 .5-1 23.6-5 16.3-3 8-.7 2.5 .7 .7 1-.3 2-2.1 3-3.9 3-3.9 1.6-4 1-5 .6-6 .1zM223.8 240.4l2-.5 .5 .5-.5 .5zM377.5 205.5l-.4 0 0-1 1.4-.2 1.5 .2 .3 1-.8 .5zM528 170.5l1.2 .6 3 .4 4-1.2 22-11.3 7-4.2 4.7-3.3 6.9-6 4.9-6 2.6-4.9 1.5-7-.1-2-.8-4-1.8-4-3.5-5-3.9-4-4.8-4-7-5-24.7-14.8-6-4.1-.3 .9-1.7 .1-1 .7-1-.7-1 .3-3.9 2.7-15 8.6-9.8 6.3-7.8 6-6 6-3.7 5-2.8 6-.8 3-.3 3 .2 3 .6 3 1.7 3.9 2.8 4 5.1 5 5.8 4.4 7.4 4.6zM220.3 153.5l1.5 .9 1-.3 2 .4 4-1.2 20-10.4 10.1-6.4 6.2-4.9 2.9-3 2.3-3 1.7-3 1.3-3 .8-5-.1-3-.6-3-2.2-5-3.7-5-5.1-5-5.1-4-5.8-4-19.7-11.9-4-2.7-1-.1-1 .7-1-.9-3-.2-23.9 14.6-6.6 4.5-6.1 5-3.9 4-3.6 5-2.3 5-.8 5 .5 5 1.9 5 3.6 5 4 4 5.2 3.9 7.1 4.6zM374 115.6l1.5 .9 2 0 1 0 1-.9 2 .1 1-.3 18-10.5 9.2-6.3 6.6-6 4-5 2.7-5 .9-3 .4-3-.3-5-.8-3-1.3-3-3.3-5-4.5-5-7.1-5.9-7.5-5.4-13-8.5-5-3.6-1-.2-1 .6-1-.8-3 .4-2 .7-19.9 13.3-9.5 7.4-4.9 5-4.3 6-2.2 5-.9 5 .4 5 1.8 5 3.1 5 3.7 4 4.5 4 6.9 5zM68.6 109.6l0 .7 4.5-.1 19-11.1 8-5.5 6.1-5 4.5-5 2.6-4 1.9-5 .6-5-.3-3-.7-3-2.4-5-4.6-6-5.2-4.9-7.7-6-20.8-13.8-2.4-1.2 1.4-1.6 12-7.9 8.7-6.5 .9-1 0-2.5-26.1 0zM528.2 79.6l1 .6 1-.2 1 .5 2 .1 1-.5 13-8 9-6 5.6-4.5 5.3-5 3.9-5 2.7-4.9 1.3-4 .5-4-.4-4-1.5-5-2.7-5-3.1-4-4.9-5-6.9-6 0-2.5-48.8 0 0 2.5-6.7 6-4.8 5-3.6 5-2.5 5-.9 3-.5 3 0 3 .4 3 .8 3 1.3 3 3.3 4.9 4.6 5 7.2 6 7.1 5zM220.8 68.6l1 .8 2 .2 1 0 1-.6 1 .1 17-10.8 6.4-4.7 5.9-4.9 4.5-5 2.8-4 1.8-4 1-4 .3-3-.4-4-.9-3-1.8-4-1.9-3-3.8-5 0-2.5-66.8 0 0 2.5-3.8 5-1.9 3-1.8 4-.8 3-.4 3 .2 4 .7 3 1.2 3 2.2 4 2.3 3 2.8 3 4.4 3.9 8 6zM374.7 29.7l.8 .5 1-.1 1 .5 1 0 3-1 15.5-10.9 6.4-5 4-4 0-2.5-58.6 0 0 2.5 4.1 4 6.4 5z"/>
<path fill="#1fa187" d="M68.6 346.8l172.1 0 0-2.5 1.1-.1 1.3 .1 0 2.5 5.6 0 0-2.5 17-4.6 17-5.6 10-3.9 8-3.6 11-5.5 2.5-1.8 2.1 0 1.3-2.1 2-.3 6-2.9 5-1.8 4-.9 5-.4 6 .5 7 1.6 6.4 2.3 6.6 3.2 6.9 4.4 6 5 4 4.6 2 4.4 1 0 .4-2.6 1.6-.4 1.8 .4 0 4 .2 .4 1-1.5 .6-1.9 3.4-4.5 3-3.2 5-4.3 10-7.1 21.9-14.2 12.6-8.6 14.4-10.7 3-2.8 2-2.6 .8 .1-.5 3 .7 .9 1.2-2.9 .8-.7 4.9-1.9 5-.7 4 .2 4 .6 9 3.2 10 5.4 5 3.4 5 4 7 6.7 3 3.6 2.9 4.2 4 7.7 1.8 7.2 .5 1 .7 .6 1-1.4 .3-1.2 3.7-.6 1-.8 .5-.6 1.5-4.3 4-6.9 5-6.4 7-7.4 8-7.2 25.1-21.7 13.8-13.3 1-.5 2.5 0 0-52.8-3.5 .1-1 .8-4 .5-4-.1-6-1.1-8-2.7-2-.4-14.9-6.5-15-6.9-12-5.9-6-3.5-2-.6-1 0-1 1-1-.2-1.9 .7-4.5 2.5-21.5 10.5-9 4.8-7 4.2-6.6 4.5-6.4 5-15.9 15-5 3.4-2 .9-3 .9-3 .4-7-.2-9-1.7-11.9-3.6-21.7-8.1-13.2-6 .7-1 18.2-8.7 9-4.8 8.4-5.5 6-5 2.8-3 2.2-3 1.8-3 1.2-3 .7-3 .3-4-1-5-1.8-4-3.7-5-4.1-4-5.8-4.6-9-5.9-20-11.6-5-3.2-1-.2-1 .6-1-.9-1-.1-1 .7-1-.2-2 .7-20.9 12.2-8.6 5.5-6.6 5-5.2 5-4.4 6-1.5 3-1.1 3-.7 5 .7 5 1.5 4 3.5 5 4 4 4.4 3.4 7.2 4.6 9.8 5.3 17.5 8.7 1.7 1 0 1-8.3 4-27.9 11.5-13 6.2-6 3.5-6 3.9-14.9 11.9-2 .9-1 1-3 1.9-5 1.8-4 .8-4 .2-5-.2-6-.8-8.6-1.7-8-2-16.7-5-7.4-3 .2-1 19.6-7.6 11-4.8 9.7-5.6 4.2-2.9 3.3-3 2.8-3 1.9-3 1.5-3 1-3 .3-2-.3-5-1.7-5-3.4-5-5.2-5-6.2-4.6-11.9-7-22-11.3-5-2.9-1-.5-1 .5-2 0-1.8-.2-.2-.4-6 3.4-23.9 12.4-7.6 4.6-6.8 5-5.2 5-3.7 5-2.2 5-.7 3-.3 3 .8 5 2.4 5 3.4 4 4.8 3.9 6.1 3.8 7 3.6 12 5.2 16.5 6.4 2 1 .2 1-7.8 3-41.9 12.7-16 5.5-8.8 3.8-1.1 1.2-2 .7-1 1.5-3 2.2-6.1 5.4-2.6 2-3.4 2-2.9 1.2-4 1-5 .7-5 .2-9-.6-11.7-1.5-10.3-2-3.2-1 .3-.7 .2-.3 3.4-1 21.3-5.4 14-4.1 10-3.8 3.5-1.7 3-2 2.5-2.1 2.4-2.9 1.7-3 1.4-4 .7-4-.2-4-.8-4-1.2-3-3.4-5-4-4-4.6-3.4-9-5.1-13-6.1-24.1-10.3-5.8-2.9-1-.1-.9 1-3.6 .1 0 80.8 2.8 0 .6 1-3.4 0zM223.8 240.4l1-.1 1-.6 .7 .7-.7 .7-1-.6zM377.5 205.5l-.6 0 .1-1 1.5-.2 1.7 .2 .3 1-1 .6-1-.5zM68.6 193.5l0 .8 4.5 .1 1-.4 22-10.9 10.8-6.6 6.2-5 4.4-5 2.8-5 1-3 .4-3-.5-5-2-5-3.4-5-4.9-5-6.3-4.9-6.6-4.5-23.9-14.1-1-.3-1.9 .9-2.6 0zM528.3 170.5l.9 .5 1-.1 1 .6 1 0 1-1 3-.3 20-11.1 5.6-3.6 5.4-4 5.7-5 4.9-6 1.8-3 1.3-2.9 .8-3 .4-3-.4-5-1.8-5-3.1-5-4.4-5-5.7-5-6.7-5-21.8-14.1-3-2.3-2-1.1-.1 .5-1.9 .1-1 .9-1-.7-1 .3-22.9 14.9-6.1 4.5-4.8 4-5.7 6-3.5 5-2.3 5-.8 3-.3 3 .4 5 1.8 4.9 3.2 5 3.7 4 6 5 6.4 4.5 8 4.9zM220.6 153.5l1.2 .8 1-.4 1 .5 1 .1 1-.7 1 0 2-.6 18-10.2 9.6-6.5 6.8-5.9 4.1-5 1.6-3 1.2-3 .9-5-.6-5-1.8-5-3.3-5-5.6-6-4.8-4-5.3-4-21.8-14.5-1-.1-1 .6-1-.9-1 0-2 0-1 .4-5 3.5-15.9 10.4-6.3 4.6-4.7 4-4.7 5-3.5 5-2.1 5-.8 5 .5 5 1.9 5 3.5 5 3.8 4 4.9 3.9 6.5 4.5zM374.3 115.6l1.2 .8 3 .1 1-.9 3-.4 16-10 9-6.6 5.4-5 4.7-6 2.5-5 .9-3 .4-3-.3-5-1.6-5-3.6-6-4.3-5-4.3-4-6.1-4.9-19.7-14.3-1-.2-1 .5-1-.9-1-.1-1 .9-1-.2-2 .7-13.4 9.6-8 6-6.7 5.9-4.5 5-3.2 5-2.1 5-.8 5 .4 5 1.7 5 3.1 5 3.4 4 5.5 5 5.2 4zM71.1 109.6l1 .5 1-.1 1-.6 18-11.4 8.4-6.4 5.1-5 3.2-4 2.6-5 1.2-4 .4-3-.2-3-1.2-5-2.5-5-3.7-5-4.9-4.9-7.2-6-19.2-13.7-2.7-1.3 .7-1.1 4-2.5 7.3-5.4 8.8-7 .9-1 0-2.5-24.5 0 0 102.4zM528.5 79.6l.7 .4 1-.2 1 .7 1 .1 3-1.2 11.7-7.8 8.2-6 5.8-5 4.7-5 3.5-4.9 2.3-5 1-4 .3-4-.8-5-1.4-4-2.9-5-3.1-4-3.8-4-6.3-6 0-2.5-45.6 0 0 2.5-6.3 6-4.5 5-3.4 5-2.3 5-.9 3-.4 3-.1 3 .5 3 1.6 5 3.6 5.9 4.3 5 6.7 6 5.2 4zM221 68.6l.8 .6 1-.1 1 .5 1 0 1-.8 1 .1 16.5-11.3 5.2-4 5.5-4.9 4.3-5 2.6-4 1.4-3 1.2-4 .3-4-.3-4-1.2-4-1.4-3-1.8-3-3.6-5 0-2.5-62.4 0 0 2.5-3.6 5-1.8 3-1.4 3-1.1 4-.4 4 .2 3 .7 3 1.1 3 1.6 3 2.8 4 6.8 6.9 7.4 6zM375 29.7l.5 .3 1-.1 1 .7 1 0 1-.7 1 0 1-.5 14.2-10.7 7.1-6 2.7-3 0-2.5-54.7 0 0 2.5 2.7 3 5.8 5z"/>
<path fill="#20a386" d="M68.6 346.8l159.3 0 0-2.5 2.9-.3 4.8 .3 0 2.5 4.9 0 0-2.5 1.3-.1 1.4 .1 0 2.5 4.5 0 0-2.5 24-7.4 11-4.2 11-4.8 10-5.1 9.9-5.7 1-.8 1-1.4 2 .4 2-1.9 6-3.1 6-1.8 6-.7 6 .8 7 1.8 7.4 2.9 7.6 4 6.9 4.7 6 5.2 4.2 5.1 1.8 4.2 1 .2 .4-2.4 1.6-.4 1.9 .4 .1 4 2-3.9 4-5.3 5-4.8 5-4.1 35.9-25.3 8.2-6.5 12.8-11.1 2 .8 .3-.7-.3-.9-.9-.1 .2-1 .7-.7 1 .7 1 .2 1-1.7 2-1.3 3-1.2 3.9-.7 4 .2 6 1.1 2 1.1 6 2.4 7 3.8 4 2.6 10 7.6 8 8 3 3.7 2.9 4.3 2 3.6 2 4.5 1.9 7.7 1.1 1.4 .9-1.4 .3-1 1.8-.1 2-.8 1.3-1.1 1.7-4.9 4-7.1 4-5.4 5-5.6 8-8 18.6-16.9 7.3-7 7.5-8 8.5-10.1 1-.7 2.5 0 0-38-3.3-.1-2.2-1.4-3-.2-4-1-12-4.7-37.2-18.7-7.7-4.1-6-3.7-3-1.2-1 .1-1 .9-2 .2-.9 .5-4 2.3-22 11.5-9 5.2-7 4.6-6.3 4.7-5.7 5-4.8 5-10.1 11.5-3 2.6-3 1.8-1 0-2.3 1-2.7 .4-7-.4-9-2.1-13.9-5-23.8-9.8-10.2-4.9-1-.7-1-.3-1 .6-1-.6-1.8-.1 .1-1 3.5 0 .2 .5 .4-.5 18.6-9.4 12-7.3 4.5-3.3 3.4-3 2.9-3 2.3-3 1.8-3 1.4-3 1-4 .2-3-.3-3-.8-3-1.9-4-2.7-4-3.7-4-5.8-5-9.8-6.9-22.5-14.2-1-.3-1 .5-1-.9-1-.1-1 1-1-.3-2 .6-17.9 11.1-9 6.1-6.8 5.4-5 5-3.7 5-1.6 3-1.2 3-.8 5 .4 5 1.9 5 3.4 5 3.9 4 4.9 4 5.9 4 9.7 5.6 15.8 8.4 1.6 1 .1 1-5.7 3-29.8 13.2-14 7.4-6 3.9-4.6 3.4-14.7 13-5.6 3.7-4 1.5-4 .7-5 .2-6-.5-12-2.5-11.1-3.1-15.2-5-10-4 .5-1 17.9-7.5 9-4.1 6.9-3.8 6.8-4.6 5.5-4.9 3.7-5 2-5 .6-6-1.2-5-2.7-5-4.3-5-7.3-6-10-6.5-27-15.2-1-.3-1 .4-4-.4-1 .3-26.9 15.1-8 5.2-5.7 4.4-5.1 5-3.5 5-1.5 3-1 3-.5 5 .6 4 1.1 3 1.1 2 4.1 5 4.7 3.9 5.7 3.8 5 2.8 10 4.8 17.9 7.6 2 1 .2 1-10.1 4-37 12.5-15 6-6 3-4.9 3.2-5 3.6-5.3 4.7-4.1 3-3.6 2-4 1.4-4 .8-5 .4-12-.6-7.5-1-10.9-2-8.5-2-2.9-1 .4-1 22.4-6.6 12-4 9-3.8 6-3.3 5.2-4.3 2.5-3 1.2-2 1.9-5 .5-3-.1-3-.5-3-1.1-3-3.1-5-4.8-5-6.9-4.9-5.8-3.5-8-4.1-26.7-12.4-5.2-2.8-1-.1-.8 .9-3.7 .1 0 80.8 3 0 .7 1-3.7 0zM223.8 240.5l1-.2 1-.8 .9 .9-.9 .9-1-.8zM606.1 204.5l1 .4 3.5 0 0-1.7-3.5 .1-.5 .2zM68.6 193.5l0 .6 4.5 .1 3-1.2 19-10.2 9.6-6.3 5.9-5 4.3-5 2.7-5 .9-3 .4-3-.5-5-1.8-5-3.3-5-4.7-5-6-4.9-6.5-4.7-19-11.8-4-2.3-1.5 .8-3 0zM528.7 170.5l.5 .3 1-.1 1 .8 1 0 1-1 3-.4 19-11.3 10-7.3 5.4-5 4.7-6 1.7-3 1.5-3.9 .8-5-.5-5-1.8-5-2.2-4-5-6-5.3-5-7.6-6-18.7-12.9-3-2.4-2-.8-2 .2-1 .9-1-.6-1.9 1-19.8 13.6-9.9 8-5.7 6-3.6 5-2.4 5-.8 3-.5 3 .3 5 1.5 4.9 2.9 5 4.3 5 5.6 5 6.8 5 8.3 5.4zM220.9 153.5l.9 .6 1-.3 1 .6 1 0 1-.9 3-.5 17.3-10.5 8.4-6 6.5-5.9 3.9-5 2.4-5 .8-3 .3-3-.5-5-.9-3-1.4-3-3.4-5-4.6-5-9.6-8-20.2-14.3-1-.2-1 .5-1-.9-1 0-1 .4-1-.2-1 .4-14 9.7-9 6.6-6.9 6-4.5 5-3.3 5-2.1 5-.7 5 .3 4 1.6 5 3.1 5 4.5 5 4.6 3.9 6.9 5zM374.6 115.6l.9 .6 1-.2 1 .5 1 0 1-1 3-.4 15-10 8.3-6.5 6-6 3.7-5 2.4-5 .8-3 .4-3-.4-5-1.5-5-3.4-6-4.2-5-8.5-7.9-18.6-14.4-1-.7-1-.3-1 .4-1-.9-1-.1-1 1-2 .1-1 .5-12.4 9.4-8.7 7-5.2 4.9-4.3 5-3.1 5-1.9 5-.8 5 .4 5 1.7 5 3 5 3.2 4 5.3 5 6.2 5zM71.6 109.6l.5 .3 1-.1 1-.6 14.5-9.6 7.9-6 5.3-5 3.4-4 3.2-5 1.8-5 .5-5-.2-3-.7-3-2.2-5-3.3-5-4.5-4.9-9.1-8-16.6-12.5-1.6-.5-1.4-1-2.5 0 0 82.9zM528.8 79.6l.4 .3 1-.3 1 .9 1 .1 1-.9 2-.5 10.8-7.6 7.8-6 5.5-5 4.5-5 3.3-4.9 2.2-5 1-4 .2-4-.5-4-1.2-4-2-4-3.4-5-3.4-4-6.9-7 0-2.5-43 0 0 2.5-6 6-4.3 5-3.2 5-2.2 5-.9 3-.4 3 0 3 .4 3 2.1 6 3 4.9 4.1 5 6.4 6 7.5 6zM221.3 68.6l.5 .4 1-.1 1 .7 1-.1 1-.8 1 0 15.4-11.1 6-5 4.1-3.9 4.1-5 2.5-4 1.4-3 1.1-4 .4-4-.4-4-1.1-4-1.4-3-1.7-3-3.5-5 0-2.5-58.9 0 0 2.5-3.4 5-1.7 3-1.3 3-1.1 4-.4 3 .2 4 .7 3 1.1 3 3.4 6 6.1 7 8.1 6.9zM375.3 29.7l1.2 0 1 .9 1 0 1-.9 1 .1 1-.5 13.3-10.6 6.6-6 2.6-3 0-2.5-51.7 0 0 2.5 2.6 3 7.8 7zM68.6 25.7l0 .7 2.5 0 1-1.2 4-2.4 6.6-5.1 8.3-7 .8-1 0-2.5-23.2 0z"/>
<path fill="#21a585" d="M68.6 346.8l152 0 0-2.5 .2-.1 1.6-.9 4.4-.4 5.7 .4 4.6 1 0 2.5 3.3 0 0-2.5 1.4-.1 1.5 .1 0 2.5 4 0 0-2.5 22.4-7.6 15-6.1 8-3.8 8.1-4.5 12.8-8.4 2-2 2-.2 3-2.4 2-1.2 5-2.1 6-.9 3 .3 2-.2 8 2 8 3.1 8 4.1 8.9 6 6 5.2 3 3.4 3 4.3 1 2.9 1 .3 .4-2.2 1.6-.4 1.9 .4 .1 3.6 1-1.6 .2-1 3.8-5.3 3-3.4 5-4.6 7-5.6 22.1-16 10.1-8 11.8-11 8.6-9 1.2-2 2.1-1.4 4-2 4-.9 2.9 0 5 1.1 5 1.7 2 1.3 3 1.2 6 3.4 6 3.9 5 3.7 6 4.9 8 8 5.9 7.9 4 7.4 1.9 4.7 1.2 6 .9 1.2 1.1-2.2 1.9-.1 2-1 1.1-.9 1.9-5.3 3-5.7 4-5.8 4-4.9 8-8.5 17.5-16.7 8.8-9 7-8 6.1-9 4.5-7.8 1-1 2.5 0 0-22.1-2.5 0-1-.4-23-13.7-39.9-22-9-5.6-2-.4-1-.9-1 .1-1 .9-2 .3-1.9 1.1-25 14-10 6.2-7.4 5.4-5.8 5-5.8 6-4.7 6-6.2 9-3 3.5-2 1.6-2.1-.2 .1 2.3-2-.5-2 .6-3 .1-6-1.1-11-3.5-9.5-3.9-24.8-10.9-8.4-4-6.2-3.5-1-.3-1 .6-1-.7-2-.1 .2-1 3.8 0 1-.3 15-8.1 10-6 7.6-5.6 5.3-5 3.7-5 1.6-3 1.1-3 .8-5-.5-5-1.9-5-4.1-6-4.8-5-4.6-4-6.7-4.9-21.5-14.4-2-1-1 .4-1-.9-1 0-1 .9-2 0-1 .5-16.9 11.1-7.7 5.3-7.3 6-4.8 5-3.5 5-2.4 5-.7 3-.4 3 .5 5 1.9 5 3.4 5 3.7 4 4.7 4 6.6 4.6 8 4.9 16.7 9.5 .2 1-7.8 4-26.1 12.3-8 4.2-7.3 4.4-5.7 4-5 4-4.3 4-8.6 9-6.3 5-7.7 1.5-4 0-5-.5-10-2.1-13.2-3.9-20-7-8.7-3.8-1-.2-1 1-1-.9-1.6-.1 1.6-.1 1-.9 1 .9 .7-.9 19.3-8.5 10-5.2 8.1-5.3 5.8-4.9 3.9-5 2.4-5 .6-3 .2-3-.9-5-2.4-5-2.2-3-2.7-3-5.7-5-11.6-8-24.5-14.5-1-.4-1 .5-1-.4-3-.1-1 .3-23.9 14.1-8.3 5.5-6.3 5-4.9 5-3.5 5-2.1 5-.7 5 .5 4 2 5 3.6 5 4.3 4 5.5 3.9 5.9 3.5 10 5.1 18.1 8.4 .2 1-9.5 4-33.8 12.3-14 6-6 3.1-6 3.8-5 3.8-6.9 6-4 2.9-4 2.1-3 1-4 .8-5 .4-6-.2-7-.8-17.7-3.2-8.3-2-6.2-2 .1-1 20.2-6.4 11.9-4.4 8-3.5 6.4-3.7 2.6-1.8 3-2.7 3.5-4.5 2.1-5 .6-3-.1-3-.5-3-1.1-3-1-2-2.5-3.5-5.6-5.5-6.4-4.6-12-6.9-23.1-11.4-6.8-3.8-1 0-.7 .8-3.8 .1 0 80.7 3.2 .1 .7 1-3.9 .1zM68.6 193.5l0 .4 4.5 .2 3-1.3 17-9.6 9.9-6.7 5.7-5 4.1-5 2.7-5 .8-3 .4-3-.5-5-1.8-5-2.5-4-4.2-5-5.5-4.9-6.6-5-18.5-12.3-4-2.3-1.1 .6-3.4 0zM529 170.5l1.2 0 1 .9 1 .1 1-1 3-.6 16.7-10.4 5.7-4 5-4 6-6 3.6-5 2.5-5 .9-2.9 .4-3-.3-5-.7-3-1.2-3-2.9-5-4.1-5-6.2-6-8.7-7-17.7-13.1-1-.6-2-.2-1 .1-1 .8-1-.4-1.9 .9-18.6 13.5-6.2 5-4.3 4-4.5 5-3.9 6-2 5-.9 5 .3 5 1.5 4.9 2.8 5 4.1 5 5.4 5 7.8 6zM221.1 153.5l.7 .5 1-.4 1 .8 1 0 1-.9 2-.2 1-.4 16.2-10.4 9.2-7 5.9-5.9 3.4-5 2.1-5 .8-5-.5-5-1.8-5-3-5-5.2-6-5.4-5-4.9-4-17.8-13.1-1-.3-1 .5-1-.9-1-.1-1 .7-1-.4-2 1.1-18.2 13.5-9 8-4.4 5-3.2 5-2 5-.7 5 .4 4 1.6 5 2.9 5 4.3 5 5.6 4.9 5.4 4zM374.8 115.6l.7 .4 1-.2 1 .7 1-.1 1-.9 3-.6 14.7-10.3 7.3-6 5.7-6 3.5-5 2.3-5 .8-3 .4-3-.4-5-1.5-5-2.6-5-4.6-6-8.2-7.9-17.4-14.2-1-.8-1-.3-1 .3-1-.9-1-.1-1 1-2 .2-1 .6-11.6 9.2-7.2 6-6.1 5.9-4 5-3 5-1.9 5-.7 5 .4 5 1.7 5 2.2 4 3.8 5 4.9 5 6 5zM72 109.6l1.1 0 1-.5 13.6-9.5 7.5-6 5.1-5 4-5 2.7-5 1.6-5 .2-5-.9-5-2-5-3.2-5-4.3-4.9-8.6-8-13.7-10.9-2-1.4-2-.6-1-.9-2.5 0 0 82.7zM529.1 79.6l1.1 0 1 .9 1 0 1-.9 2-.5 11.4-8.5 6.1-5 5.3-5 4.3-5 3.2-4.9 2.1-5 1-5 .1-4-.7-4-1.4-4-2-4-2.7-4-3.3-4-6.6-7 0-2.5-40.9 0 0 2.5-6.6 7-3.9 5-2.9 5-1.6 4-1.2 6 .3 5 1.7 6 2.7 4.9 3.7 5 5.8 6 7 6 12.1 9.7zM221.5 68.6l1.3 .1 1 .9 1-.1 1-.9 1 0 14.6-11 5.7-5 3.9-3.9 3.2-4 3.1-5 1.6-4 .8-3 .4-4-.3-3-.9-4-1.6-4-5-8 0-2.5-56.1 0 0 2.5-4.9 8-1.6 4-.7 3-.4 3 .1 3 .8 4 1 3 2 4 2 3 5.2 6 7.7 6.9zM376.5 29.7l1 .9 1 0 1-.9 1-.1 1-.5 11.3-9.4 5.5-5 3.8-4 .7-1 0-2.5-49.2 0 0 2.5 4.4 5 16.5 14.4 1 .6 1-.3zM68.6 25.7l2.5 0 1.1-1 1.9-.7 9.2-7.3 6.7-6 .8-1 0-2.5-22.2 0z"/>
<path fill="#21a685" d="M68.6 346.8l146.5 0 0-2.5 .7-1 2.1-1 4.9-.5 6.4 .5 8.6 2 0 2.5 2.5 0 0-2.5 1.5-.1 1.5 .1 0 2.5 3.5 0 0-2.5 25.9-9.5 9-3.9 10-5 7.6-4.6 5.9-4 8.4-6.5 1.5-1.5 1.4-1 1.1-1.4 1.9-.6 3.1-1.8 3-1.3 3-.8 3-.2 7 .6 7 2.2 8 3.4 9 5 7.9 5.5 7 6.2 3 3.4 3 4.4 1 3 1 .5 .3-2.1 1.7-.4 1.9 .4 .1 3.1 .9-2.1 1.7-2 2.4-3.7 5-5.4 8-7 23.5-17.8 8.3-7 5.4-5 5.5-6 5.6-7 6.2-9 3.2-2 1.4-2 1.8-.7 2-.3 3 .3 2.9 .8 8 3.2 12.5 7.7 4.5 3.2 7 5.3 6 5.2 8 8.3 5.9 8.1 4 7.5 2 5.2 1.3 6.1 .7 .9 1-1.9 2-.1 1-.9 1-.2 1-1 1-3.2 4-8.1 3-4.6 5-6.4 7-7.7 22.4-22.7 6-7 4.5-6 1-2.3 2-2.5 1.8-3.2 3.3-8 .8-3 .6-4-.1-3-.5-3-1.5-4-2.8-3.9-5.2-5-6.4-5-16.9-10.9-29-17-7-4.7-2-.3-1-1-1 0-1 .9-2 .4-1.9 1.1-27 15.9-9.6 6.6-8.4 7-5.7 6-4.6 6-3 4.9-6.3 12-3.3 4.3-.5 1.7 .1 1-.6 1-1-.6-2-3.7-1-.8-.8 1.1-.2 1.1-1 .3-4-.9-6-2.1-11-4.5-22.9-10.9-16.3-7.9-9.7-5.3-1-.4-1 .7-1-.9-1-.1-1 .4-1-.4-32.9 16.6-9 5.1-6.5 4.2-5.4 4-4.6 4-4.8 5-8.6 10.1-5 4.6-2-.2-2 1.1-4 .5-8-.8-8-1.7-17.6-5.6-21.3-8-8-3.8-1-.1-1 .9-1-.9-1.7-.1 1.7-.1 1-.9 .7 0 .3 .4 .3-.4 3.7-1.4 15-7.1 9-4.9 8.3-5.6 5.6-4.9 3.9-5 1.6-3 1-3 .5-5-.9-5-2.4-5-3.8-5-6.4-6-10.4-7.5-24-14.9-1-.4-1 .7-1-.7-3 0-1 .3-23.5 14.5-7.2 5-6 5-4.8 5-3.4 5-2 5-.7 5 .8 5 1.7 4 2.8 4 5.1 5 5.3 3.9 6 3.8 9 4.8 17.4 8.4 .2 1-11.7 5-29.9 11.6-13 5.9-7 3.8-5.5 3.7-5.1 4-8.3 7.6-3 2.1-3 1.6-4 1.4-4 .7-5 .2-6-.4-7-.8-17.1-3.4-11.6-3-6-2-.2-1 2-.3 15-5.2 14.9-5.9 7.5-3.6 5.5-3.4 3.4-2.6 3.1-3 2.9-4 1.9-5 .4-5-.9-4-3-6-5.6-6-6.4-4.9-11.8-7.3-22.6-11.7-6.3-3.7-1 0-.6 .7-3.9 .1 0 80.7 3.3 .1 .9 1-4.2 .1zM464.4 261.6l-.4-1.2 .4-.1 .3 .1 .4 1zM375.8 204.5l.7 .4 .1-.4 4.9-.4 19-10.9 5.7-3.7 5.3-4 5.3-5 4.6-6 1.5-3 1-3 .8-5-.6-5-1.9-5-3.2-5-5.4-6-9.5-7.9-21.6-15.3-1-.6-1-.3-1 .2-1-.9-1 0-1 .9-2 .1-1 .5-15.9 10.9-8.7 6.4-5.7 5-4.6 5-3.5 5-2.6 6-.7 5 .5 5 1.9 5 2.5 4 4.4 5 5.8 5 7 5 20.6 12.5zM68.6 193.5l4.5 .4 3-1.3 16-9.4 9.5-6.7 6.4-6 3.7-5 2.3-5 .9-5-.5-5-1.8-5-3.1-5-3.5-4-5.2-4.9-6.3-5-18.4-12.8-3-1.7-.9 .5-3.6 0zM530.3 170.5l.9 .9 1 .1 1-1 3-.7 17.2-11.3 5.3-4 4.6-4 5.5-6 3.8-6 1.8-4.9 .7-6-.8-5-1.9-5-3.7-6-4.4-5-6.3-6-7.3-6-15.5-11.9-1-.7-2-.3-1 .1-1 .8-1-.2-1 .3-.9 .6-17.7 13.3-5.9 5-4.1 4-5 6-3.1 5-1.9 5-.6 3-.3 3 .6 5 1.8 4.9 3 5 4.2 5 6.5 6 7.8 6 12.7 8.6 3.9 2.4zM221.4 153.5l.4 .3 1-.3 1 .9 1 0 1-.9 2-.3 1-.5 15.3-10.2 8.8-7 4.8-4.9 3.6-5 1.5-3 1.1-3 .8-5-.5-5-1.8-5-2.9-5-4-5-8.5-8-19.2-15-1-.3-1 .4-1-.9-1-.1-1 .9-1-.4-2 1.1-17.2 13.3-8.7 8-4.2 5-3.1 5-1.9 5-.7 5 .4 4 1.6 5 2.1 4 4 5 4 3.9 6 5 7.7 5.5zM375.1 115.6l.4 .3 1-.3 1 .9 1-.1 1-.9 2-.3 1-.4 13.8-10.2 8.1-7 4.5-5 3.9-6 2.2-6 .6-5-.5-5-1.7-5-3.5-6-4-5-8.1-7.9-16.3-13.9-1-.3-1 .2-1-.9-1 0-1 .9-2 .3-1 .6-9.7 8.1-8.1 7-5.8 5.9-3.9 5-2.9 5-1.8 5-.7 5 .4 5 1.2 4 2.6 5 3.6 5 4.8 5 5.7 5zM68.6 108.6l0 .9 4.5 0 1-.6 14.1-10.3 8-7 5.3-6 3.1-5 2-5 .7-5-.4-5-1.5-5-2.7-5-3.7-4.9-5.7-6-6.7-6-10.5-8.7-3-1.9-1 .1-1-1.2-2.5 0zM530.3 79.6l.9 .9 1 0 1-.9 2-.7 10.8-8.3 8-7 4.7-5 3-4 2.9-4.9 1.9-5 .6-4 .1-4-.7-4-1.3-4-2.6-5-2.7-4-8.8-10 0-2.5-39.1 0 0 2.5-6.4 7-3 4-3.1 5-2 5-1.1 6 .4 6 2 6 2.8 4.9 4.7 6 7 7 14.9 12.5zM221.8 68.6l1 0 1 .9 1 0 1-.9 1-.1 12.7-9.9 5.6-5 4.8-4.9 3.1-4 3-5 1.2-3 1.1-4 .3-3-.2-4-.9-4-1.1-3-2-4-3.2-5 0-2.5-53.9 0 0 2.5-4.7 8-1.2 3-1 4-.4 4 .3 3 1.6 6 1.4 3 2.5 4 5.9 6.9 7.6 7zM376.6 29.7l.9 .9 1 0 1-.9 1-.2 1-.5 10.7-9.3 5.3-5 3.6-4 .7-1 0-2.5-47.2 0 0 2.5 4.3 5 15.6 14.2 1 .6 1-.3zM68.6 24.7l0 .5 2.5 0 .6-.5 1.4-.3 3-1.9 13.1-11.8 .7-1 0-2.5-21.3 0z"/>
<path fill="#22a884" d="M68.6 346.8l141.8 0 0-2.5 .4-1 1-1 3-1.2 4-.4 7.4 .6 9 2 3 1 0 2.5 2 0 0-2.5 1.6-.2 1.6 .2 0 2.5 3.1 0 0-2.5 17.2-6.5 10-4.1 8-3.8 10-5.3 6.5-4.3 6.7-5 9.1-8 .2-1 2.4-2.1 6.6-3.8 2.4-.8 3-.4 4 .2 5 .9 5 1.8 9 4 9 5.1 8.9 6.2 7 6.1 4 4.7 3 4.4 1 3 1 .5 .3-1.8 1.7-.4 1 .1 1 .3 0 2.3 .4-1.3 2.1-2 3.5-5.2 5-5.3 7-6.2 25.3-20.2 7.6-7 5.5-6 5.9-8 4.4-8 2.7-7 .2-6 1.3-.4 .4-.6 .2-2-.8-1 1.8-2-.7-1-.4-2-1.5-1.7-1 0-.4 .7 .9 4-.5 .9-1 0-1-.9-1-2.1-2-1.9-8.8-5-9.2-4.9-2-.7-1.8-1.4-39.1-19.9-11-6.1-1-.5-1 .6-1-.9-1-.1-1 1-1-.8-1 .2-6 3.6-20.9 10.7-10 5.6-8.6 5.6-6.4 5-5.2 5-4.3 5-8.4 11.6-2.6 2.4-2.4 1.3-1 1.3-6 .1-4-.4-11-2.4-12-4-15.7-5.9-14.7-6-7.5-3.7-1-.1-1 .9-1-1-1.9-.1 1.9-.1 1-.9 2-.2 17-8.3 9-5 7.8-5.5 5.5-4.9 3.8-5 2.3-5 .7-5-.6-5-1.1-3-1.6-3-2.1-3-2.5-3-5.3-5-9.9-7.4-23-14.9-1-.3-1 .6-1-.8-3 .1-1 .3-22.5 14.4-6.9 5-5.8 5-4.7 5-3.3 5-2 5-.6 5 .5 4 2.1 5 3.6 5 4.1 4 5.1 3.9 5.5 3.6 9 5 16.7 8.4 .2 1-9 4-30.9 12.7-14 6.7-7 4.1-6 4.3-12.1 11.2-2.8 2.1-3 1.8-3 1.1-4 .7-5 .3-6-.4-6-.8-10-1.8-8.6-2-11.3-3-8-2.8-1.5-.2-.1-1 2.6-.4 25.9-10 8-3.9 7-4.3 5.2-4.4 3.3-4 2.3-5 .6-3 0-3-.2-2-.9-3-2.7-5-4.3-5-7.3-5.9-12-7.7-20.9-11.3-6-3.6-1 0-1 .6-3.5 .2 0 80.6 3.7 .1 .7 1-4.4 .1zM535.7 321.3l.5 .7 .9-1.7 2.1-.1 1-.9 0-.4 1 0 .7-.6 .6-1 .7-2.9 3-6.3 3-5 4-5.5 8-9.3 22.6-23.9 4.8-6 5.5-7.5 2-5 1.6-2.5 1.7-5 1-5 .2-4-.7-5-2.1-5-3.5-4.9-5.7-6-7.9-6-10.2-7-27.3-17-8-5.5-2-.2-1-1.2-1 0-1 1-2 .4-1.9 1.1-21 12.8-8 5.2-9.8 7.4-7.3 7-4.2 5-3.4 5-3.3 6.9-1.8 5-1.7 6-1.1 6-.4 5 .7 3 1.8 2 16.5 11.2 3 1.5 11 7.8 12 9.6 9 8.6 7 8.3 4.9 7.9 4 9zM462.3 257.4l1.1 .8 .5-.8-1.5-2.3-.3 1.3zM373.9 203.5l1.6 .8 4 .1 2-.4 17-10 9.3-6.5 6.7-6 4.7-6 1.7-3 1.1-3 .9-5-.3-5-1.6-5-2.9-5-4.9-6-5.3-5-8.8-6.9-17.6-12.8-1-.3-1 .1-1-.9-1 0-1 .9-2 .2-1 .6-18.4 13.2-6.3 4.9-4.3 4-4.5 5-3.4 5-2.2 5-.9 5 .3 5 1.6 5 2.9 5 4.3 5 5.5 5 6.8 5zM72.2 193.5l.9 .2 2-.7 12-7.1 9.5-6.4 6.1-5 4.7-5 3.4-5 1.9-5 .6-4-.5-5-1.3-4-2.8-5-4-5-5.1-4.9-6.1-5-17.4-12.7-3-1.7-.6 .4-3.9 0 0 80.9zM530.3 170.5l.9 .9 1 0 1-.9 2-.4 2-1.1 15.4-10.5 5.1-4 4.5-4 4.5-5 3.9-6 2-4.9 .9-6-.5-5-1.7-5-2.7-5-4.7-6-5.9-6-8.1-7-14.7-11.8-1-.7-1 .1-1-.5-1 .1-1 .9-1-.2-1 .3-1.9 1.4-15.8 12.4-5.7 5-4 4-4.9 6-2.9 5-1.9 5-.7 5 .3 5 2 5.9 2.9 5 4 5 5.1 5 7.4 6 13.2 9.5 3.9 2.4zM221.6 153.5l1.2 0 1 .9 1 0 1-.9 2-.4 2-1.1 13.5-9.5 8.5-7 5.5-5.9 3.2-5 2-5 .7-5-.5-5-1.7-5-2.8-5-3.9-5-8.1-8-18.4-14.8-1-.4-1 .3-1-.9-1-.1-1 .9-1-.3-1 .4-12.5 9.9-8.3 7-5.8 6-3.9 5-2.8 5-1.3 4-.7 5 .6 5 1.3 4 2.8 5 4 5 4.1 3.9 6 5zM375.3 115.6l1.2 0 1 .8 1 0 1-.9 2-.4 1-.5 13.1-10 6.8-6 4.5-5 4.1-6 2.2-5 .7-3 .3-3-.3-5-1.8-6-2.7-5-3.7-5-7.5-7.9-15.7-13.9-1-.8-1-.4-1 .1-1-.9-1 0-1 .9-2 .4-1 .7-10.4 8.9-6.5 6-5.7 5.9-3.8 5-2.8 5-1.7 5-.7 5 .5 5 1.5 5 2.1 4 3.6 5 4.6 5 5.5 5 12.6 10zM68.6 108.6l0 .9 3.5 .1 2-.8 13.4-10.2 7.7-7 4.4-5 3.8-6 1.9-5 .7-5-.4-5-1.5-5-2.6-5-3.6-4.9-5.4-6-7.6-7-8.8-7.6-3-1.8-1 .4-.4-1-.6-.5-2.5 0zM530.3 79.6l.9 .9 1 0 1-.9 3-1.5 10.4-8.5 5.5-5 4.7-5 3.8-5 2.8-4.9 1.5-4 .9-4 .1-4-.4-4-1.2-4-1.7-4-3.1-5-3.8-5-5.3-6 0-2.5-37.7 0 0 2.5-6.1 7-3 4-2.9 5-2 5-1 5 .2 6 1.7 6 3.1 5.9 4.6 6 5.7 6 15.2 13.4zM222.8 68.6l1 .9 1 0 1-.9 1-.3 3.7-2.7 11.7-10 5-4.9 3.3-4 2.7-4 2.1-4 1.1-3 .8-4 .2-4-.4-3-.7-3-1.5-4-4.6-8 0-2.5-51.9 0 0 2.5-4.6 8-1.4 4-.7 3-.2 6 .7 4 1 3 1.9 4 2.5 4 6 6.9 6.4 6 10.9 9.3 1 .6zM376.6 29.7l.9 .9 1 0 1-1 2-.8 10.2-9.1 5.1-5 3.5-4 .6-1 0-2.5-45.4 0 0 2.5 3.2 4 5.9 6 9.9 9.1 1 .6 1-.4zM68.6 24.7l3.5 0 2-1 2.8-2 11.6-11 .7-1 0-2.5-20.6 0z"/>
<path fill="#24aa83" d="M68.6 346.8l137.8 0 0-2.5 .3-1 1.6-2 2.5-1.1 5-.6 8 .8 4.7 .9 7.3 2 2.7 1 0 2.5 1.6 0 0-2.5 3.4 0 0 2.5 2.7 0 0-2.5 16.5-6.5 11-4.8 10-5 9-5.3 7.2-5.4 6.7-6 6.7-7 .3-1 3.8-2.9-1-1 1.2-.2 4-2.3 4-.9 5 .4 7 1.9 11 5 9 5 9.9 6.9 8 6.9 5 5.8 3 4.4 1.1 3 .9 .6 .3-1.6 1.7-.4 2 .4 0 .8 2-1.4 4-5.9 6-6.4 7-6.2 22.8-18.8 6.2-6 6.3-7 5.4-8 3.3-7 1.1-4 .6-3 .1-3-.4-3-.9-3-1.1-2-2.3-3-1.9-2-6.4-5-7.9-5-2-1.5-50.9-27.9-1 .5-1-.9-1 0-1 .9-1-.7-1 .2-5.7 3.5-21.2 11.3-11.2 6.6-8.4 6-5.8 5-5.4 6-3.6 5-6.5 11.1-4.1 4.9-.9 .5-1-.1-1-1-1 .1-1 .9-1 .2-4-.3-5-1.1-8-2.3-16-5.9-14.9-6-14-6-7-3.6-1-.1-1 .8-1-.9-3-.1-37.9 16.4-8 3.8-8 4.3-6 3.8-5.9 4.6-4.4 4-9.6 9.8-2 .6-2 1.3-3 1-4 .5-4 .1-7-.6-5.1-.7-9.9-2-12.1-3-10.4-3-7.4-2.7-2-.3-4.5 .1zM535.9 321.3l.3 .5 .8-1.5 2.2-.1 1-.9 0-.8 1 .2 .5-.4 .7-1 .7-3 3.1-6.6 3-5.1 3-4.3 8-9.6 19.6-21.3 4.1-5 4.5-6 5.7-9.1 2.8-8.9 .7-4 .1-4-1-6-1.1-3-1.6-2.9-3.9-5.7-6.8-6.3-7.5-6-9.9-7-24.7-16.1-6-4.3-1-.3-1 .2 0-.5-1-.9-1 0-1 1-2 .5-1.9 1.1-26 16.6-9 6.7-7.7 7-5.8 7-4.6 7.9-1.6 4-1.3 5-.7 4-.1 4 .4 4 1.1 4 2.2 4 2.5 3 6.6 6.4 3 1.9 23 18.7 8 7.7 7 8 4.9 7.1 3 5.6 2.4 6.5 .7 1zM68.6 276.4l0 .9 4.5 .1 3-.5 21.9-8.8 12-6 6.9-4.7 5.2-5 3.1-5 1-3 .5-3-.6-5-2-5-3.6-5-5.2-5-6.5-4.9-6.8-4.4-27.9-16.1-1 0-.5 .5-.5 .1-3.5 .1zM221.9 239.4l.9 .7 2 .2 1-.9 2-.3 3-1.4 17-8.9 6-3.6 5.3-3.8 5.7-4.9 4-5 2.5-5 .9-3 .2-3-.2-3-.7-3-2.4-5-3.7-5-4.9-5-10.7-8.5-22-14.7-1-.3-1 .5-1-.8-2-.1-2 .6-18.7 12.3-8.3 6-5.9 5-4.8 5-3.5 5-2.2 5-.9 5 .6 5 2 5 3.6 5 4 4 6.4 4.9 6.8 4.4 18.9 10.3zM374.1 203.5l1.4 .7 4 .2 2-.5 16-9.7 9.3-6.7 6.5-6 4.6-6 1.6-3 1.2-3 .8-5-.3-5-1.7-5-2.8-5-4.8-6-6.2-6-8.7-6.9-15.5-11.7-2-.3-1-.9-1 0-1 .9-2 .3-2 1.3-16.6 12.4-6.1 4.9-4.2 4-4.4 5-3.2 5-2.2 5-.9 5 .3 5 1.6 5 2.2 4 3.9 5 5.1 5 6.3 5zM72.7 193.5l.4 .1 3-1.2 13-8.2 7.8-5.7 5.7-5 3.6-4 3.3-5 1.9-5 .5-5-.4-4-1.8-5-3-5-4.1-5-5.1-4.9-6-5-15.4-11.6-3-1.6-.4 .2-4.1 0 0 80.9zM530.3 170.5l.9 .9 1 0 1-1 2-.4 2-1.1 14.7-10.4 5-4 4.3-4 4.4-5 3.8-6 2.2-5.9 .5-5-.5-5-1.6-5-3.4-6-3.8-5-5.7-6-6.7-6-15.2-12.7-1-.6-1 .1-1-.7-1 .1-1 .9-2 .2-1.9 1.4-16.2 13.3-8.3 8-4 5-3 5-2.1 5-1 6 .4 5 1.5 4.9 3.3 6 3.9 5 4.9 5 7.1 6 12.5 9.3 3.9 2.5zM222.8 153.5l1 .9 1 0 1-.9 2-.5 2-1.2 14.1-10.3 7.9-6.9 4.4-5 3.1-5 1.9-5 .7-5-.4-5-1.7-5-2.7-5-3.8-5-3.7-4-5.3-5-16.5-13.7-1-.4-1 .2-1-.9-1-.1-1 1-1-.2-1 .3-13.2 10.8-6.7 6-5.7 6-3.8 5-2.6 5-1.4 4-.6 5 .5 5 1.3 4 2.7 5 4 5 5 4.9 7.3 6 13.2 9.6 1 .4zM376.6 115.6l.9 .8 1 0 1-.9 1-.5 1 0 2-1.2 12.7-10.2 7.2-7 4.7-6 2.8-5 1.6-5 .6-5-.6-5-1.6-5-2.6-5-4.3-6-7.6-7.9-13.9-12.8-1-.8-2-.4-1-.9-1 0-1 .9-2 .5-1 .7-8.7 7.8-7.5 7-6.3 6.9-3.5 5-2.5 5-1.3 4-.6 5 .4 5 1.6 5 2.6 5 3.7 5 5.6 6 6.9 6 9.6 7.8 2 1.2zM68.6 108.6l0 .9 3.5 0 2-.8 11.7-9.1 8.6-8 4.2-5 3.7-6 1.8-5 .8-5-.3-4-1.2-5-2.3-5-3.3-5-5.1-5.9-7.2-7-9.4-8.4-3-1.9-1.3 .3-.7-1.4-2.5 0zM530.3 79.6l.9 .9 1 0 1-.9 3-1.6 8.8-7.4 6.5-6 4.5-5 3.7-5 2.3-3.9 1.9-5 .8-4 .1-4-.4-4-1.5-5-2.4-5-2.6-4-8.1-10 0-2.5-36.5 0 0 2.5-5.9 7-2.9 4-2.8 5-1.9 5-1 6 .2 5 1.6 6 3.1 5.9 4.4 6 6.6 7 13.2 12zM222.8 68.6l1 .9 1 0 1-.9 1-.4 3.6-2.6 10.2-9 4.9-5 3.4-3.9 3.4-5 2-4 1-3 .9-4 .1-4-.3-3-.7-3-1.5-4-4.5-8 0-2.5-50.1 0 0 2.5-4.5 8-1.4 4-.7 3-.2 6 .7 4 1 3 1.3 3 2.4 4 5.5 6.9 6 6 9 8 2.5 2.2 1 .6zM376.6 29.7l.9 .9 1-.1 1-.9 2-.9 8.7-8 5-5 4.4-5 .6-1 0-2.5-44 0 0 2.5 4 5 14.3 13.9 1 .7 1-.5zM68.6 23.7l0 1 3.5-.1 4-2.4 11.8-11.5 .7-1 0-2.5-20 0z"/>
<path fill="#25ac82" d="M68.6 346.8l134.3 0 .2-3.5 1-2 1-1 2.7-1.3 5-.6 8.3 .9 12.1 3 5.8 2 0 2.5 .9 0 0-2.5 3.7 0 0 2.5 2.3 0 0-2.5 15.8-6.5 11-4.9 11-5.8 9-5.7 7.4-6.1 5-5 4-5 3.4-4.9 1.7-1 .9-2 1.4-1 1.1-2.3 2-1.2 3-.7 3 .2 8 2 2 1.5 4 1.5 9 4.7 13 8 7.9 6 7 6.6 4 4.8 2.3 3.8 .9 1 .8 2.6 1 .7 .2-1.3 1.8-.4 3 .4 1-.7 4-6.1 5-5.5 6-5.6 22.3-19 7.2-7 5.2-6 2.9-4 2.9-5 2.6-6 .9-4 .4-3 0-3-.6-3-1.4-4-3.4-5-5.1-5-7-5.3-14.9-9.4-27-15.2-8-4.8-3-1.6-1 .4-1-.9-1 0-1 .9-1-.6-1 .2-7.2 4.4-18.7 10.2-12 7.4-8.4 6.3-5.3 5-5 6-4.3 7-5.9 13.1-2 2.3-1 .5-2.1 .1-.6 1-.3 2.1-1-1-2-1.1-5-1-6-1.9-21-8.1-27.9-12-11-5.5-1-.1-1 .7-1-.9-3 0-35.9 16.1-9 4.4-7.7 4.3-6.3 4.2-5.9 4.8-4.1 4-9.9 11.2-1 .3-1-.2-2 1.2-1.4 .5-3.6 .6-5 0-5-.4-7.9-1.2-9.2-2-11.6-3-13.4-4-6.8-2.6-3-.4-3.5 .1zM536 321.3l.2 .3 .6-1.3 2.4-.1 1-.9 0-1.1 1 .4 .3-.3 .8-1 .7-3 3.2-7 3-5.1 3-4.3 7-8.8 19.4-21.7 8.2-11 4.6-8 2.7-7 1.1-5 .3-6-.8-4-1.3-4-2.6-4.9-2.1-3-3.4-4-4.1-4-7.1-6-12.3-9-20.6-13.9-6-4.4-1-.3-1 .3 0-.7-1-.9-1 0-1 1-2 .6-1.9 1.1-24.7 16.2-9.2 7-7.4 7-3.5 4-2.8 4-2.3 4-1.8 3.9-1.9 7-.4 7 .7 5 1.8 5 1.7 3 4.6 6 29.2 25.8 8 8.2 6 7.3 3.9 6 3 5.7 2.6 6.9 .7 1 .2 2zM68.6 276.4l0 .9 3.5 .1 4-.6 21-8.7 6.9-3.4 5-2.9 6.3-4.4 5.1-5 3.2-5 1-3 .5-3-.5-5-2.1-5-3.5-5-5.1-5-5.9-4.6-7-4.7-26.9-16-1 0-.4 .4-1.6 .2-2.5 0zM222.7 239.4l1.1 .9 1 0 1-.9 2-.4 4-1.9 17-9.3 9.3-6.4 5.5-4.9 4-5 2.4-5 .8-3 .3-3-.7-5-2-5-3.4-5-5.6-6-10.6-8.6-20-13.9-2-.9-1 .5-1-.9-2-.1-2 .7-19.4 13.2-7.9 6-5.6 5-4.4 5-3.2 5-1.9 5-.5 4 .5 5 2 5 2.7 4 4.8 5 6.3 4.9 6.7 4.5 17.9 10.1 2 1zM374.3 203.5l1.2 .6 1-.2 1 .4 2 .1 2-.5 16-10.1 8.5-6.3 6.3-6 3.9-5 1.7-3 1.3-3 .7-3 .4-3-.4-5-1.6-5-3.4-6-4.1-5-6-6-7.1-5.9-15.2-11.9-1-.7-2-.4-1-.9-1 0-1 .9-2 .4-2 1.4-17.2 13.2-8.7 7.9-4.3 5-3.2 5-2.1 5-.8 5 .3 5 1.5 5 2.2 4 3.8 5 5 5 6.1 5 6.5 4.6zM68.6 192.5l0 1 3.5 0 1-.1 3-1.1 14-9.2 8.4-6.6 5.9-6 3.4-5 2.1-5 .8-5-.4-5-1.7-5-2.9-5-3.2-4-4.8-4.9-6.9-6-14.7-11.4-3-1.7-4.5 .2zM530.3 170.5l.9 .9 1 0 1-1 2-.5 2-1.1 14.1-10.3 8-7 4.5-5 4-6 2.1-5 1-5.9-.3-5-1.8-6-2.6-5-3.6-5-5.4-6-7.4-7-14.6-12.6-1-.6-1 .2-1-.9-1 .1-1 .9-2 .3-2.1 1.6-15.4 13-8 8-3.9 5-2.9 5-2 5-1 6 .4 5 1.5 4.9 3.2 6 3.8 5 5.8 6 7 6 11.7 8.8zM222.9 153.5l.9 .9 1 0 1-.9 3-1.1 13.3-9.9 7.9-7 5.2-5.9 3.1-5 1.8-5 .7-5-.4-5-1.2-4-3.1-6-3.7-5-3.6-4-5.1-5-14.9-12.8-1-.8-1-.4-1 .1-1-.9-1-.1-1 1-2 .2-11.5 9.7-7.7 7-5.5 6-3.7 5-2.2 4-1.7 5-.6 5 .5 5 1.7 5 2.3 4 3.8 5 4.9 4.9 7 6 12.7 9.4zM376.6 115.6l.9 .8 1 0 2-1.5 1 0 1-.5 13.1-10.8 7.1-7 4.5-6 2.7-5 1.6-5 .6-5-.6-5-1.5-5-2.6-5-3.4-5-7.1-7.9-14.4-13.7-1-.8-2-.4-1-1-1 0-1 .9-2 .6-1 .7-9.4 8.7-7.2 7-5.1 5.9-3.4 5-2.4 5-1.3 4-.6 5 .5 5 1.5 5 2.5 5 3.6 5 4.5 5 6.4 6 10.4 8.7 2 1.2zM68.6 108.6l0 .9 3.5 0 3-1.6 11.3-9.3 7.3-7 4.8-6 2.8-5 1.8-5 .8-5-.2-4-1.3-5-2.8-6-3.4-4.9-7.1-8-11.6-11-4.1-3-1.8 0-.5-1.2-2.5 0zM530.3 79.6l.9 .9 1 0 1-.9 4-2.5 8.5-7.5 5.2-5 4.4-5 3.6-5 2.6-4.9 1.4-4 .8-4 .2-4-.5-4-1.1-4-1.6-4-2.9-5-2.9-4-5.7-7 0-2.5-35.3 0 0 2.5-5.8 7-3.4 5-2.1 4-1.9 5-1 6 .3 5 1.6 6 3 5.9 4.2 6 5.4 6 13.1 12.3 .9 .9zM222.9 68.6l.9 .9 1 0 2-1.4 3.4-2.5 9.9-9 3.9-4 4.2-4.9 3.3-5 1.9-4 1-3 .8-4 .2-4-.3-3-.7-3-1.4-4-4.4-8 0-2.5-48.7 0 0 2.5-4.3 8-1.1 3-.9 4-.2 6 .6 4 1 3 1.3 3 2.2 4 5.4 6.9 4.8 5 9.7 9 2.4 2.1zM376.6 29.7l.9 .9 1-.1 1-.9 1.8-.9 8.5-8 4.9-5 4.2-5 .6-1 0-2.5-42.6 0 0 2.5 3 4 5.6 6 9 8.8 1 .6 1-.4zM68.6 23.7l0 1 3.5-.1 4.4-2.9 10.9-11 .7-1 0-2.5-19.5 0z"/>
<path fill="#27ad81" d="M68.6 346.8l131 0 0-2.5 .6-2 1-2 1-1 2.7-1.4 4.9-.6 9.1 1 11.8 3 9 3 0 2.5 .1-2.5 3.9 0 0 2.5 1.9 0 0-2.5 17.1-7.3 13-6.2 9.4-5.5 10.6-7.5 6.4-6.5 5.2-7 3.5-6.9 .4-3-.2-1 .3-1 1.2-1-.1-1 .3-.7 1.9-.9 2-1.4 2-.2 5 1.1 10 4.3 16 8.9 12 7.9 8.9 7.1 6 5.8 4 5 2.4 4 .9 1 .7 2.2 1 .9 .2-1.1 1.8-.4 3 .3 1-.8 4-6.2 5-5.6 7-6.5 20.2-17.7 5-5 5.4-6 5.3-7.5 3.4-7.5 1.1-4 .4-3 0-4-.5-3-1.9-5-2.5-4-5-5.5-5.3-4.5-10.2-7-10.4-6.4-29-17.3-3-1.5-1 .3-1-.9-1 0-1 .9-1-.5-1 .2-26.9 15.6-11.7 7.6-8.6 7-3.9 4-3.2 4-2.1 3-2.6 5-2.2 6-2.6 10.8-1 2.6-1 1.4-1 .6-1-.4-2-1.7-.5 1.7 .2 2-.7 .6-3-2.6-20-8.1-24.8-10.9-17.6-8-10.5-5.4-1-.1-1 .6-1-.9-2-.1-4 1.4-31.9 14.9-10 5.1-7.6 4.5-5.7 4-4.7 4-4.9 5-7.3 9-2.1 2-3.6 2.2-5 .7-4 .1-5-.4-7-1.1-11.2-2.5-14.7-4-12.5-4-6.5-2.5-3-.4-3.5 0zM536.2 321.3l.5-1 2.5-.1 1-.9 0-1.3 1 .4 .9-1.1 .8-3 3.3-7.3 6-9.6 7-8.9 18.3-21.1 8-11 3.9-7 2.4-6 1.4-6 .3-3-.1-4-1.6-7-2.3-4.9-4.4-6-5.6-6-8.1-7-10.6-8-18.6-13-7-5.2-1-.3-1 .4 0-.9-1-.9-1 0-1 1-2.9 1.2-2 1.3-24.3 16.4-7.6 6-7.2 7-5.5 7-3.7 7-1.4 3.9-.9 4-.4 8 2.2 8 1.8 4 1 .9 3 4.3 7.6 7.8 22.4 20.8 7 7.6 5 6.3 3.9 6.1 3 5.8 2.7 7.3 .7 1 .9 5zM313.4 293.4l1.2 1 .5-1-.3-1-1.2-.3-.5 .3zM68.6 276.4l0 .9 3.5 0 4-.6 20-8.6 6.9-3.5 5.4-3.2 6.7-5 4.7-5 2.8-5 1.1-5-.3-4-1.7-5-3.2-5-4.7-5-6-4.9-7.1-5-26.6-16.3-3 .5-2.5 0zM222.8 239.4l1 .9 1 0 1-.9 2-.5 4-1.9 16-9 6-4 4.6-3.6 5.1-4.9 3.6-5 2.1-5 .7-5-.6-5-2-5-3.4-5-5.5-6-4.5-4-6.3-5-18.8-13.3-2-1-1 .4-1-.9-2-.1-2 .8-17.9 12.5-8.6 6.6-5.4 5-4.4 5-3.1 5-1.9 5-.5 4 .6 5 2 5 2.7 4 4.6 5 6.2 4.9 6.8 4.6 16.9 9.9 2 1zM374.4 203.5l1.1 .5 1-.3 1 .6 2 0 2-.5 15-9.7 8.8-6.6 6.1-6 4.4-6 2.3-5 .8-3 .3-3-.4-5-1.6-5-3.4-6-3.9-5-3.8-4-5.5-4.9-18.1-14.8-1-.6-2-.5-1-1-1 0-1 .9-2 .5-1 .6-12.6 9.9-7.2 5.9-6.2 6-4.2 5-3.2 5-2 5-.9 5 .4 5 1.5 5 2.1 4 3.7 5 4.9 5 6 5 7.8 5.7zM68.6 192.5l0 .9 3.5 0 4-1.2 12-8.1 8.5-6.6 5.2-5 3.8-5 1.8-3 1.2-3 1-5-.2-5-1.4-5-2.7-5-3.7-5-4.7-4.9-5.5-5-14.3-11.6-4-2.4-4.5 .1zM530.3 170.5l.9 .9 1 0 1-1 1-.5 1-.1 3-1.8 12.6-9.5 7.8-7 5.1-6 3.1-5 2-5 1-5.9-.3-5-1.8-6-2.5-5-3.5-5-5.2-6-7.2-7-14.1-12.5-1-.6-1 .1-1-.8-1 0-1 .9-2 .4-1.9 1.5-13.9 12-8.9 9-3.8 5-2.9 5-2.1 6-.7 5 .4 5 1.4 4.9 3.2 6 3.7 5 4.6 5 6.7 6 12.3 9.7zM222.9 153.5l.9 .9 1 0 1-.9 3-1.2 12.8-9.8 7.7-7 5-5.9 3-5 1.9-5 .6-5-.4-5-1.2-4-3-6-3.6-5-3.5-4-5-5-14.3-12.7-1-.8-2-.4-1-.9-1 0-1 .9-2 .3-2 1.6-13.5 12-7.6 8-3.8 5-2.7 5-1.7 5-.6 5 .3 4 1.5 5 2.6 5 3.7 5 4.7 4.9 6.9 6 11.2 8.7 2 1.1zM376.6 115.6l.9 .8 1 0 2-1.5 1-.1 1-.5 11.6-9.7 7.9-8 3.8-5 3.3-6 1.5-5 .5-5-.5-5-1.5-5-2.5-5-3.4-5-6.9-7.9-13.8-13.6-1-.8-2-.5-1-1-1 0-1 1-2.4 .9-3.3 3-10.4 10-7.1 7.9-3.5 5-2.6 5-1.6 5-.6 5 .5 5 1.4 5 2 4 3.3 5 5.1 6 7.4 7 8.8 7.6 2 1.1zM68.6 108.6l0 .9 3.5 0 4-2.4 9.9-8.5 7-7 4.7-6 2.8-5 1.8-5 .7-5-.4-5-1.4-5-2.4-5-3.3-4.9-6.9-8-11.3-11-1.2-1.1-3-1.9-1.8 0-.2-1.1-2.5 0zM530.3 79.6l.9 .9 1 0 5-3.5 13.1-12.4 4.4-5 2.8-4 2.8-4.9 1.8-5 .8-4 .1-4-.4-4-1.1-4-1.6-4-2.8-5-3.6-5-4.8-6 0-2.5-34.3 0 0 2.5-5.6 7-2.8 4-2.6 5-1.9 5-.8 5 .1 6 1.3 5 2.6 5.9 4 6 6 7 12.6 12.2 .9 .8zM222.9 68.6l.9 .9 1 0 5.2-3.9 8.6-8 4.9-5 4-4.9 2.7-4 2-4 1.1-3 1-4 .3-3-.2-4-.8-4-1.4-4-4.3-8 0-2.5-47.3 0 0 2.5-4.3 8-1 3-.9 4-.3 3 .2 4 1.5 6 1.7 4 1.8 3 2.8 4 3.3 3.9 4.7 5 8.5 8 2.3 2zM376.6 29.7l.9 .8 1 0 5-3.8 6-6 4.8-5 4.1-5 .5-1 0-2.5-41.4 0 0 2.5 3.7 5 5.6 6 7.7 7.7 1 .6 1-.3zM68.6 23.7l0 .9 3.5 0 4.3-2.9 10.6-11 .6-1 0-2.5-19 0z"/>
<path fill="#2ab07f" d="M68.6 346.8l128.7 0 0-4.5 1.6-3.7 3-1.8 2-.5 2.9-.2 4.1 .2 6 1 11.3 3 10.6 3.8 5 .2 0 2.5 1.3 0 0-2.5 3.7-1.3 11.9-5.4 12-5.8 11.1-6.5 7.9-5.7 3.9-3.3 2.9-3 4.7-6 2.3-4 1.7-3.9 1.9-8 .6-.5 1 .4 .7-.9-.7-.6-1 .2-.8-.6-2.4-7-2.7-3-2.6-2-4.9-3-14.6-7.5-43.8-20.5-10.1-5.3-1-.1-1 .5-1-.9-2-.1-6 2.4-28.9 13.9-10 5.3-7.1 4.3-6.9 5-5.4 5-3.5 4-6 8.4-2 2.3-2 1.4-1 .2-3 1.6-4 .5-5-.2-13-2.2-12.1-3-13.7-4-12-4-6.1-2.4-3-.5-3.5 0zM384.6 334.3l.9 .9 .2-.9 3.8-.6 1 .4 .9-.8 4.1-6.3 5-5.7 6-5.8 19.1-17.1 8.7-9 4.7-6 4.4-7.5 2.2-6.5 .5-3 .2-4-.3-3-.8-3-2.2-5-5.6-7.6-1-.5-4.2-3.9-9.3-7-11.4-7.4-28-17.2-3-1.5-1 .2-1-.8-1-.1-1 .9-1-.4-2 .7-26.9 16.1-11 7.5-8.1 7-3.6 4-3 4-2.4 4-1.8 4-1.9 8-.4 4 0 4 .5 4 1 3 1 2 2.6 3 3.1 2.5 7 4.6 14 8.2 9 5.7 7 4.8 6.9 5.4 7 6.2 5 5.5 3 4.3 1.5 2.7 1 1zM535.9 320.3l.3 .7 .4-.7 2.6-.2 1-.8 0-1.6 1 .6 .8-1 .7-3 3.5-7.6 5-8.3 7-9.2 18.4-21.8 7.1-10 3.9-7 2.1-5 1.8-7 .3-5-1.3-9-1.8-4-4.4-6.9-5.2-6-7.6-7-9.3-7.4-26-19-2-1-1 .4 0-1-1-.9-1 0-1 1-2.9 1.3-2 1.3-23 15.9-8 6.4-6.2 6-5.6 7-3.8 7-2.1 6.9-.5 4 0 4 .8 5 1 3 1.9 4 3 5 7.9 9 16.6 16 7 7.1 6 6.9 5 6.6 3.9 6.6 3 6.4 1.8 5.3 .7 1 .2 2zM310.4 285.4l.3 .5 .5-.5-.5-.3zM307.2 282.4l.7 0-.2-.3zM68.6 276.4l0 .9 3.5 0 1-.5 2 .1 1-.3 20-8.9 11.2-6.3 6.6-5 4.6-5 2.8-5 1.1-5-.2-4-1.7-5-3.2-5-4.5-5-5.9-4.9-5.9-4.3-26.9-16.9-5.5 .4zM222.8 239.4l1 .9 1 0 1-1 2-.5 4-1.9 15-8.7 9.5-6.8 5.3-4.9 3.9-5 1.6-3 1.1-3 .7-5-.7-5-2-5-4-6-4.6-5-9.3-8-19.5-14.2-2-1-1 .3-1-.9-2 0-2 .8-18.9 13.5-6.9 5.5-5.3 5-4.3 5-3 5-1.8 5-.5 4 .6 5 2 5 2.6 4 4.6 5 7 5.7 7 4.7 14.9 8.9 2 1.1zM374.6 203.5l.9 .4 1-.4 1 .8 2 0 3-1.1 14.5-9.7 8.7-7 5-5 4.3-6 2.2-5 .7-3 .3-3-.4-5-1.6-5-3.3-6-3.9-5-9-8.9-16.7-14-1.8-1.3-2-.6-1-.9-1-.1-2 1.5-1 0-1 .6-13.4 10.8-6.9 5.9-5 5-4.1 5-3 5-2 5-.9 5 .4 5 1.4 5 2.1 4 3.7 5 4.8 5 5.8 5 7.2 5.4zM68.6 192.5l0 .9 3.5 0 4-1.2 13-9.1 7.9-6.6 4.8-5 3.6-5 2.3-5 .8-3 .3-3-.5-5-1.7-5-2.1-4-3.7-5-5.6-5.9-7.8-7-11.3-9.2-3-1.6-1-.2-3.5 .1zM530.3 170.5l.9 .9 1 0 2-1.6 1 0 3-1.9 12.1-9.4 7.6-7 5-6 3-5 2-5 1-5.9-.4-5-1.7-6-2.5-5-3.4-5-5.1-6-7-7-13.6-12.3-1-.7-1 0-1-.8-1 0-1 .9-2 .5-1.9 1.5-14.5 12.9-7.5 8-3.8 5-2.8 5-1.9 5-.8 6 .4 5 1.4 4.9 2.4 5 3.5 5 5.3 6 6.4 6 10.9 8.9zM222.9 153.5l.9 .8 1 .1 2-1.5 2-.7 13.5-10.7 7.3-6.9 4-5 2.9-5 1.8-5 .7-5-.5-5-1.5-5-2.6-5-4.3-6-7.5-8-13.8-12.6-1-.8-2-.5-1-.9-1 0-1 .9-2 .5-1 .7-9.7 8.7-7.3 7-5.3 6-3.4 5-2.5 5-1.3 4-.5 5 .5 5 1.2 4 2.6 5 3.6 5 5.6 5.9 6.9 6 9.6 7.6zM376.6 115.6l.9 .8 1 0 2-1.6 1-.1 1-.5 12.2-10.6 6.7-7 3.7-5 2.8-5 1.9-6 .5-5-.5-5-1.5-5-2.4-5-4.1-6-6.9-7.9-12.4-12.5-1-.8-2-.6-1-.9-1-.1-1 1-1 .6-1 .1-1 .7-8.7 8.5-6.8 7-4.9 5.9-3.2 5-1.9 4-1.6 5-.6 5 .3 4 1.3 5 2.2 5 3.2 5 5.1 6 6 6 9.6 8.5zM68.6 108.6l0 .9 3.5 0 4-2.6 9.5-8.3 6.8-7 3.9-5 3.5-6 1.7-5 .7-5-.4-5-1.4-5-1.7-4-3.8-5.9-3.2-4-4.5-5-11.1-11-3-1.8-2-.2-2.5 0zM530.3 79.6l.9 .8 1 .1 5-3.7 7.8-7.2 5.8-6 4-5 2.7-4 2.5-4.9 1.6-5 .6-4 0-4-.6-4-1.2-4-1.7-4-2.9-5-7.5-10 0-2.5-33.5 0 0 2.5-6.2 8-2.5 4-2.5 5-1.6 5-.6 5 .4 6 1.7 6 2.5 4.9 4.8 7 5.3 6 11.1 11 1 .9zM222.9 68.6l.9 .9 1 0 3-2.7 2-1.2 9.5-9 3.7-4 3.9-4.9 3.2-5 1.8-4 1.3-4 .5-3 .1-3-.3-4-.9-4-1.1-3-4.2-8 0-2.5-46.1 0 0 2.5-4.2 8-1.3 4-.6 3-.3 4 .2 3 1.5 6 2.8 6 1.9 3 3.8 4.9 5.5 6 7.2 7 3.1 2.8zM376.6 29.7l.9 .8 1 0 4.9-3.8 5.9-6 4.6-5 4-5 .5-1 0-2.5-40.4 0 0 2.5 2.8 4 5.3 6 7.8 8 1.6 1.2 1.1-.2zM68.6 23.7l0 .9 3.5 0 4.1-2.9 10.4-11 .6-1 0-2.5-18.6 0z"/>
<path fill="#2fb47c" d="M68.6 346.8l124.5 0 .4-6.5 .6-2 1.2-2 1.1-1 2.5-1 3-.3 5.1 .3 9.4 2 13 4 9.4 3.7 5 .3 2-.2 15.9-7.4 11-5.7 10.7-6.7 7.6-6 3.2-3 3.4-4 2.8-4 1.5-3 1.5-3.9 .8-4 .1-3-.4-3-1.9-5-2.9-4-5.6-5-5.9-4-13.9-7.8-34.4-17.2-10.5-5.7-2-.6-1 .4-1-.9-2-.1-6 2.6-27.9 14-10 5.5-8 5.2-7 5.5-4 4.2-3.7 4.9-6.2 10.5-2 2-3 1.8-5 .4-4-.3-12-2.1-12.7-3.3-13.2-4-12-4-11-4.3-3-.6-3.5 0zM384.9 334.3l.6 .5 .1-.5 .9-.2 2-.1 1-.7 1 .6 .7-.6 4.3-6.6 5-5.8 6-6 17.7-16.5 4.8-5 4.3-5 4.9-7 3.4-7 1.6-6 .4-4 0-3-.8-2-.1-2-2.3-5.6-4-5.4-3-3.3-6.2-5.7-5.8-4.5-9.3-6.5-28.6-18.4-3-1.5-1 0-1-.8-1-.1-1 .9-1-.2-2 .6-25.9 16.1-10 7.1-7.3 6.3-5.3 6-2.7 4-1.6 3-2.1 6-.8 8 .7 5 1.2 4 2.1 4 3.2 4 4.2 4 5.4 4.1 24 16.9 10.9 8.9 5 4.9 4 4.6 3 4.5 1.6 3 1.1 1zM536.1 320.3l.1 .2 3-.4 .9-.8 .1-2 1 .7 .6-.7 .7-3 1.2-2 2.5-6 6-10 6-8 15.5-18.9 7.8-11 3.3-6 2.9-7 1.4-6 .4-6-.8-6-2-6-3.3-5.9-5.5-7-7-7-9.5-8-25.2-19.2-2-1.1-1 .3 0-1-1-.9-1 .1-2 1.6-2.9 1.3-23 16.5-7.7 6.4-6 6-4.7 6-3.8 7-2.2 6.9-.4 6 .5 5 1.4 5 2.2 5 3.1 5 7.4 9 22.2 23.1 6 7.2 5 7.1 2.9 5.2 3 6.5 1.5 4.8 1.3 2 .1 2zM68.6 276.4l0 .9 3.5 0 1-.7 2 .2 2-.7 18-8.4 10.7-6.3 6.4-5 4.5-5 2.8-5 1.1-5 0-2-.4-3-1.5-4-3-5-4.5-5-5.7-4.9-7.5-5.6-23.9-15.5-5.5 .3zM222.9 239.4l.9 .9 1-.1 1-.9 6-2.5 15.3-9.4 9.2-7 4.9-4.9 3.5-5 2-5 .7-5-.3-3-.7-3-2.2-5-3.4-5-4.4-5-9-8-17.6-13.4-2-1.3-2-.2-1-.9-2 0-2 .9-3 2.1-14.4 10.8-7.3 6-5.2 5-3.4 4-3.2 5-2 5-.7 5 .6 5 1.9 5 3.4 5 3.7 4 5.8 4.9 7.9 5.6 12.9 8.1 3 1.6zM375 203.5l.5 .2 1-.3 1 .9 2 0 3-1.2 13-9 9.3-7.6 5.5-6 3.4-5 2.4-6 .7-5-.4-5-1.6-5-2.6-5-4.4-6-8.7-8.9-16-14-1.6-1.1-2-.8-1-.9-1-.1-2 1.7-1 0-1 .6-11.6 9.6-6.7 5.9-5.9 6-3.9 5-3 5-1.9 5-.8 5 .3 5 1 4 2.4 5 3.6 5 4.6 5 5.6 5 12.3 9.4zM68.6 192.5l0 .9 3.5 0 4-1.4 11.8-8.5 8.2-7 5.4-6 3.2-5 2-5 .7-5-.5-5-1.2-4-2.5-5-3.5-5-5.4-5.9-8.7-8-9.5-8-4-1.9-3.5 0zM530.3 170.5l.9 .9 1 0 2-1.7 2-.6 2-1.4 11.5-9.2 7.3-7 4.8-6 2.9-5 1.9-5 .9-5.9-.4-5-1.3-5-2.2-5-3.8-6-4.9-6-7.8-8-11.7-11-1.2-.7-1-.2-1-.9-1 0-1 .9-2 .7-1.9 1.5-13.7 12.7-7.3 8-3.6 5-3.2 6-1.6 5-.6 5 .4 5 1.4 4.9 2.4 5 3.3 5 5.1 6 6.2 6 10.2 8.7 2.9 1.7zM222.9 153.5l.9 .8 1 0 2-1.6 1-.2 1.8-1 10.9-9 8.1-7.9 3.9-5 2.8-5 1.7-5 .7-5-.5-5-1.9-6-2.7-5-3.5-5-7.2-8-10.4-10-3.7-3.2-2-.7-1-.9-1 0-1 .9-2 .6-1 .7-9.2 8.6-7 7-5.1 6-3.3 5-2 4-1.6 5-.6 5 .5 5 1.7 5 2 4 3.5 5 4.5 4.9 6.4 6 9.2 7.7zM376.6 115.6l.9 .8 1 0 2-1.8 1 0 2-1.3 9.6-8.7 6.6-7 4.4-6 2.7-5 1.9-6 .4-5-.5-5-1.4-5-2.4-5-3.9-6-5.7-6.9-12.4-13-1.3-1.1-2-.8-1-.9-1-.1-2 1.7-1 .2-1 .7-7.3 7.3-7.4 8-4.7 5.9-3.1 5-1.9 4-1.5 5-.6 5 .5 5 1.4 5 2.3 5 2.6 4 4.9 6 5.8 6 8.6 8zM68.6 108.6l0 .9 3.5 0 4-2.8 8.9-8.1 6.6-7 3.8-5 3.3-6 1.7-5 .6-5-.3-5-1.3-5-2.9-6-3.2-4.9-6.7-8-10.5-10.8-1-.8-3-1.4-1 0-2.5 0zM530.3 79.6l.9 .8 1 .1 2-1.9 3-2 7.3-7 5.6-6 3.9-5 2.6-4 2.4-4.9 1.5-5 .6-4 0-4-.4-3-1-4-2-5-2.2-4-7.8-11 0-2.5-32.3 0 0 2.5-4.5 6-3.9 6-2.4 5-1.5 5-.6 5 .4 6 1.7 6 2.4 4.9 3.9 6 5.8 7 10.6 10.9zM222.9 68.6l.9 .9 1-.1 2.9-2.8 2.1-1.1 8.9-8.9 3.6-4 3.8-4.9 3-5 1.8-4 1.2-4 .5-3 .1-4-.2-3-.9-4-1.1-3-4-8 0-2.5-44.5 0 0 2.5-4 8-1 3-.8 4-.3 3 .2 4 1.4 6 1.7 4 2.2 4 5.1 6.9 11.4 12 2.9 2.6zM376.6 29.7l.9 .8 1 0 4.7-3.8 4.8-5 5.3-6 3.8-5 .6-1 0-2.5-39 0 0 2.5 3.5 5 7 8 4.3 4.4 2 1.5 1.1 .1zM68.6 23.7l0 .9 3.5 0 1-1.2 3-1.8 9.9-10.9 .6-1 0-2.5-18 0z"/>
<path fill="#37b878" d="M68.6 346.8l119.2 0 .2-9.5 .8-4 1.1-1.5 2-1.3 4-.2 7 1 10.9 3 14.2 5 10.8 4.5 5 .4 2-.4 3-1.2 10.9-5.5 11-6.1 9-5.8 8.5-6.9 4.6-5 4.3-6 1.7-4.9 .6-3 .2-3-.4-4-1.8-5-3.3-5-2.8-3-4.4-4-4.2-3.1-15-9.1-31-16.8-7.9-4.6-1-.4-2 .2-1-1-2-.1-5 2.3-29.9 15.9-9.4 5.7-7.6 5.5-6.9 6.5-4.3 6-2.4 5-2.6 8-1.5 3-2.2 1.8-3 .9-9-1-14-3.4-14.1-4.3-14.8-5-11-4-9-3.8-3-.5-1-.6-3.5 .1zM385.1 333.3l.4 1 2-.5 1 .2 1-.7 1 .3 .4-.3 4.6-7.1 4-4.9 6-6.3 16.9-16.6 7.8-9 4.2-6 3.5-7 1.9-7 .2-6-.5-4-1.8-5-1.5-3-4.2-6-6.6-6.9-8.5-7.1-13.4-9.6-20-13.6-4-1.6-1-.9-1-.1-1 1-2 0-1 .5-22.9 14.9-10.3 7.4-6.8 6-5.3 6-2 3-2.2 4-2 6-.5 4 0 3 .4 4 2.6 7 2.5 4 3.3 4 8.6 8 21.7 17.1 9.9 8.8 4 4.1 4 4.8 4.9 8.1 1.3 1zM536 319.3l.2 .5 1 .4 2-.1 .9-.8 .1-2 1 .4 .3-.4 .7-3 1.3-2 1.7-4.5 3-5.8 3-5 6-8.5 15.6-20.1 6-9 3.7-7 2.3-6 1.6-7 .2-6-1.1-7-2.7-7-4.4-6.9-4.9-6-5.9-6-9-8-23.4-18.7-2-.2-.1-1.1-.9-.8-1 0-2 1.8-1 .2-1.9 1.1-19.7 14.7-8.2 7-6 6-4.7 6-3.8 7-2.1 6.9-.4 6 .3 4 1.2 5 2 5 2.2 4 2.6 4 4.6 6 21 23.5 5 6.2 4 5.6 3.9 6.5 3 6.1 2 5.2 .8 2.8 .4 1 1 1zM68.6 276.4l0 .8 3.5 .1 1-.9 2 .2 2-.7 16-7.9 10.7-6.6 6.2-5 4.4-5 2.8-5 1.1-5-.4-5-1.9-5-3.2-5-4.6-5-5.6-4.9-8.5-6.5-19-13-2-.5-4.5 .2zM222.9 239.4l.9 .9 1-.1 2-1.6 4-1.5 15.2-9.7 8.8-7 4.7-4.9 3.3-5 2-5 .6-5-.6-5-1.9-5-3.8-6-4.3-5-8.6-8-15.4-12.4-3-2.1-2-.4-1-.8-2-.1-5 3.3-13.4 10.5-7 6-4.9 5-4 5-2.9 5-1.4 4-.7 5 .6 5 1.5 4 3 5 4.3 5 5.5 4.9 7.4 5.6 12 7.9zM376.6 203.5l.9 .8 2 0 4-2 13.2-9.8 7.8-7 4.4-5 3.1-5 2.1-5 .9-6-.5-5-1.5-5-3.1-6-3.6-5-8.3-8.9-14-13-1.5-1.3-2-.8-2-1.7-1 0-2 1.8-1 .1-1 .6-10.7 9.3-7.5 6.9-5.4 6-3.6 5-2.6 5-1.7 5-.5 5 .5 5 1.6 5 2.8 5 3.8 5 5.8 6 7 6 9.5 7.3 2 1.3zM68.6 192.5l0 .9 3.5 0 1-.9 2-.2 1-.5 12.1-9.3 6.7-6 4.4-5 3.3-5 2.1-5 .7-3 .2-3-.4-5-1.6-5-2.6-5-3.6-5-6.3-6.9-8.5-8-6.5-5.8-3-1.2-1-.9-3.5 0zM530.4 170.5l.8 .8 1 0 2-1.8 1-.1 2-1.2 10.5-8.7 8.1-8 3.9-5 3.4-6 1.8-5 .8-5.9-.3-5-1.7-6-2.9-6-3.2-5-4.8-6-7.5-8-9.1-9-4-2.8-1 .1-2 1.6-1 .2-2.5 1.9-12.2 12-6.9 8-3.4 5-2.6 5-1.9 6-.6 5 .4 5 1.4 4.9 2.8 6 3.3 5 5.1 6 5.9 6 8.3 7.5 2 1.2 1.2 .3zM222.9 153.5l.9 .8 1 0 2-1.8 1-.2 1.5-.8 10.4-9 7.7-7.9 3.7-5 2.6-5 1.7-5 .6-5-.4-5-1.4-5-1.9-4-3.7-6-6.7-8-9.7-10-4.4-3.9-2-.9-1-.9-1-.1-2 1.6-1 .2-1 .7-4.5 4.3-8.9 9-5.8 7-3.4 5-2.8 6-1.2 4-.5 5 .5 5 1.2 4 2.3 5 3.3 5 4.3 4.9 6 6 8 7zM376.6 115.6l.9 .8 1-.1 2-1.8 1-.2 2-1.3 9.8-9.4 6.1-7 3.4-5 2.9-6 1.4-5 .5-5-.5-5-1.4-5-2.8-6-3.1-5-5.5-6.9-11.8-13-4-2.8-1 0-2 1.8-1 .2-.9 .8-4.9 5-7.3 8-5.5 6.9-3.6 6-2.1 5-1.3 5-.3 4 .4 5 1 4 2.1 5 3 5 3.7 5 6.4 7 8.2 8zM68.6 108.6l0 .8 3.5 .1 1-.9 0-.4 3-1.7 7.2-6.9 6.4-7 3.8-5 3.3-6 1.8-5 .9-6-.3-5-1.3-5-2.1-5-3-4.9-6.1-8-10.1-11-1.5-1.3-2-.7-1-.9-1-.1-2.5 0zM530.4 79.6l.8 .8 1 0 2-1.8 0-.6 3-1.6 10.3-10.8 4-5 3.3-5 2.8-5.9 1.3-4 .7-4 .1-4-.7-5-1-4-2.1-5-2.2-4-6.8-10 0-2.5-30.7 0 0 2.5-4.3 6-3.1 5-2.4 5-1.6 5-.9 6 .3 5 1.4 6 2.1 4.9 4.3 7 4.6 6 9.1 10 2.5 2.5zM222.9 68.6l.9 .8 1 0 2-1.8 .2-1 1.8-.7 1-.7 7.3-7.6 4.3-5 3.6-4.9 2.4-4 2.2-5 .9-3 .7-4 .1-4-.2-3-1.9-7-3.8-8 0-2.5-42.3 0 0 2.5-3.8 8-1.7 7-.2 6 1.1 6 2.9 7 5.3 7.9 5 6 6.5 7zM376.7 29.7l.8 .8 1 0 2-2.1 3-2.3 4.9-5.4 7.8-10 .5-1 0-2.5-37 0 0 2.5 3.3 5 8.5 10 3 3 2.1 1zM68.6 23.7l0 .9 3.5 0 .9-.9 .1-.9 2-.8 1-.7 9.1-10.6 .6-1 0-2.5-17.2 0z"/>
<path fill="#3fbc73" d="M68.6 346.8l115 0-.1-6.5-1.1-9 .1-3 .4-1 1-1 1-.4 3-.3 8 1.7 9.6 3 16.2 6 17.1 7.3 2 .5 3 .1 6-2.3 17.9-9.9 9-5.9 9-7.5 3.8-4.3 2.2-3 3.5-7 1.2-4.9-.5-6-.9-3-1.4-3-1.8-3-2.4-3-4-4-7.4-6-13.3-8.6-35.9-20.8-1-.4-2 0-1-.9-2-.1-1 .8-4 1.5-31.9 18-9 6-7.6 6.5-5.1 6-3.2 6-1.5 6-.6 11-.9 1.9-1.4 1-1.7 .3-2-.3-1.9 .4-2-.7-11-2.8-9-2.7-26.3-9.1-15.8-6-10.8-4.6-3-.5-1-.7-3.5 0zM385.5 333.3l1 .7 2-.1 1-.7 1 .1 4-6.1 6-7.5 19.6-20.3 7.6-9 5.2-8 2.8-6 1.5-6 .3-6-1.1-6-2.4-6-4.6-7-5-5.5-8.1-7.5-10.8-8.3-21-15.1-2-1.2-3-1.2-1-.9-1 0-1 .9-2 .2-2 1.1-20.9 14.1-8.6 6.4-7.8 7-5 6-2 3-2 4-1.8 6-.3 6 .9 5 1.9 5 2.2 4 3.8 5 6.7 7 22 18.7 8.9 8.3 7 7.9 3 4.4 3.2 5.6 .8 .8 .9 .2zM536.2 319.3l1 .9 2-.1 .9-.8 .1-2 1 0 .5-1 0-2 1.5-2 1.4-3 .6-2.1 6-10.9 6-8.7 13.5-18.2 7-11 3-6 2.1-6 1.3-6 .3-6-.3-4-.7-3-2.4-7-3.3-5.9-5.2-7-6.5-7-8.6-8-19.2-16.2-3-2.3-2-.4-.1-1.1-.9-.8-1 0-2 1.8-2.9 1.5-18.7 14.5-8 7-5.7 6-5.1 7-3 6-1.8 5.9-.4 7 .5 4 1.6 6 2.2 5 2.9 5 7.3 10 20.2 23.9 5 6.9 4 6.4 3.9 8.1 3.4 9.6 .6 .7 1 .3-.3 2zM68.6 276.4l0 .8 3.5 0 1-.9 2 .1 2-.7 15-7.7 10.3-6.6 5.9-5 4.4-5 2.6-5 1.1-5-.1-4-1.6-5-2.9-5-4.1-5-5.2-4.9-8.4-6.7-18-13-2-1.1-1-.2-4.5 .3zM222.9 239.4l.9 .8 1 0 2-1.8 4-1.4 14.3-9.6 8.5-7 4.5-4.9 3.3-5 1.9-5 .6-5-.7-5-1.8-5-3-5-4.9-6-8.2-8-13.5-11.4-3-2.2-1-.6-1 0-2-1.5-2-.1-.9 .8-.1 .4-1 .2-3 2.1-12.6 10.3-6.7 6-4.7 5-3.9 5-2.8 5-1.6 5-.4 4 .6 5 1.9 5 2.4 4 4.2 5 5.3 4.9 7.3 5.8 11 7.5zM376.6 203.5l.9 .7 2 .1 1-.8 3-1.4 12.5-9.6 7.5-7 4.2-5 3.5-6 1.7-5 .6-5-.4-5-1.6-5-2.4-5-4.1-6-6.9-8-12.3-11.9-3.3-3-1-.5-1 .5 0-1-2-1.8-1 0-2 1.8-2 1-11.2 10-6 5.9-5.2 6-4.1 6-1.9 4-1.6 5-.6 5 .5 5 1.6 5 2.7 5 3.6 5 6.7 7 8 7 6.5 5.1 2 1.2zM68.6 192.5l0 .8 3.5 0 1-.9 2-.2 1-.6 10.3-8.1 6.5-6 4.5-5 3.9-6 2-5 .9-5-.3-5-1.3-5-1.8-4-3.1-5-4.8-5.9-7.7-8-8.5-8-1.6-1.2-2-.8-1-.9-3.5 .1zM530.4 170.5l.8 .8 1 0 2-1.8 2-.8 1.7-1.2 9.2-8 7.7-8 3.7-5 3.3-6 1.9-5.9 .6-5-.4-5-1.2-5-2.1-5-3.5-6-5.2-7-7.1-8-6.7-7-2.9-2.6-1-.5-2-1.7-1 .1-2 1.7-1 .3-2.2 1.7-11.7 12-6.6 8-3.9 6-2.3 5-1.4 5-.5 5 .2 4 1.1 4.9 2 5 3.6 6 4.6 6 5.6 6 8.6 8.2 2 1.3 1.9 .5 .1 1zM223 153.5l.8 .8 1 0 2-1.8 2.2-1 10.1-9 7.3-7.9 3.5-5 2.6-5 1.6-5 .6-5-.3-4-1.2-5-2.1-5-3.6-6-6.3-8-9.3-10-4.1-3.6-1-.4-2-1.7-1-.1-2 1.8-2 1-4.1 4-8.5 9-5.6 7-3.2 5-2.4 5-1.5 5-.5 5 .3 4 1.3 5 1.8 4 3.7 6 4 4.9 6.9 7 5.8 5.4zM376.7 115.6l.8 .7 1 0 2-1.8 3-1.7 8.2-8.2 6-7 4.1-6 2.4-5 1.7-6 .5-5-.5-5-1.7-6-2.4-5-3-5-6-7.9-6.9-8-4.4-4.5-1-.2 0-.3-2-1.8-1 0-2 1.8-1.6 1-4.9 5-6.9 8-5.9 7.9-2.8 5-2.1 5-1.2 5-.3 4 .3 4 1.1 5 2 5 2.9 5 3.6 5 6 7 7.8 7.8zM68.6 108.6l0 .8 3.5 0 .9-.8 .1-1 2-.6 1-.8 7.6-7.6 6-7 4-6 2-4 2-6 .6-5-.3-5-1.2-5-2.1-5-2.8-4.9-5.1-7-10.4-12-4.3-2.9-1 0-2.5 0zM530.4 79.6l.8 .8 1 0 2-1.8 0-1 2-.7 1-.8 4.4-4.5 6.1-7 3-4 3.1-5 2.8-5.9 1.2-4 .6-4 .1-4-.6-5-1.1-4-1.9-5-2.1-4-6.6-10 0-2.5-29.4 0 0 2.5-4.1 6-3 5-2.3 5-1.5 5-.8 6 .2 5 1.4 6 2 4.9 2.8 5 5 7 9.5 11 2.2 2.2 1 .5 .1 .3zM223 68.6l.8 .8 1 0 1.9-1.8 .1-1 3-1.7 7.7-8.3 6.6-8.9 2.3-4 2.1-5 .9-3 .7-4 0-6-.7-4-1.2-4-3.7-8 0-2.5-40.5 0 0 2.5-3.6 8-1.7 7-.2 6 1.1 6 2.8 7 5 7.9 9.2 11 3.2 3.3 2 1.2 .1 .5zM376.7 29.7l.8 .8 1-.1 2-1.7 0-.8 2.1-1.2 4.5-5 4.9-6 3.4-5 .5-1 0-2.5-35.4 0 0 2.5 2.4 4 8.6 10.8 3 2.9 2.2 1.3zM68.6 23.7l0 .8 3.5 0 .9-.8 .1-1 2-.9 1.4-1.1 8.1-10 .5-1 0-2.5-16.5 0z"/>
<path fill="#48c16e" d="M68.6 346.8l111.7 0 0-2.5-.6-1 0-1 .6-1 .1-1-.5-1.1-.9-.9 .6-2-1.2-2-.2-2-1.7-3-2.6-5.7-3.4-5.3-1.6-1.6-2-1.3-4-1.3-4-2.5-3-.5-4.9-2.2-47.3-17.5-17.5-7-10.1-4.5-3-.5-1-.8-3.5 0zM238.6 343.3l2.2 .8 3 .1 1-.7 1-.1 4-1.7 16.9-9.8 6.9-4.6 6.3-5 6-6 3.1-4 1.8-3 1.4-3 1.2-3.9 .3-6-.9-4-1.5-4-2.4-4-4.2-5-7-6.3-6.2-4.7-7.8-5.2-34.9-21.1-2-.6-1 .1-1-.9-2-.1-1 .9-5 2.1-27.9 16.2-9 6.1-6.7 5.5-5.5 6-2 3-1.6 3-1.1 3-.7 3 .1 7 2.1 6.9 2.8 6 2.6 3.9 3 2.6 12 5.3 31 12.2zM385.6 333.3l.9 .7 2-.1 2-1 5-7.4 4-5.1 19.4-21 7.4-9 3.9-6 2.9-6 1.8-6 .6-7-.9-6-2.7-7-3.7-6-7-8-8.8-8-10.9-8.5-17-12.7-2-1.2-2-.6-2-1.6-1-.1-1 .9-1-.1-3 1.5-19.9 13.9-9.6 7.5-6.3 6-5 6-3.3 6-1.9 6-.3 6 .8 5 1.8 5 2.2 4 4.3 6 8.6 9 18.7 16.6 8.9 8.8 7 8.4 5.4 9.1 1.6 1zM536.3 319.3l.9 .8 2-.1 .8-.7 .1-2 1.1-.5 .2-.5-.1-2 1.7-2 2.2-5.5 5-9.4 6-9.2 13.5-18.8 6.2-10 2.9-6 2.4-7 1.2-6 .3-6-.8-6-2.2-7-3.7-6.9-5.1-7-6.2-7-8.3-8-18.2-16-3-2.3-2-.6-.1-1.1-.9-.8-1 0-2 1.9-2.9 1.5-17.9 14.4-7.7 7-5.6 6-4.3 6-3.1 6-1.8 5.9-.5 4-.1 3 .6 5 1.4 5 2.5 6 2.9 5 7.1 10 18.5 22.9 5 7 4 6.6 4.9 10.6 2.2 6.8 .8 1.5 1 .1zM68.6 276.4l0 .8 3.5 0 1-.9 3-.3 15-7.9 10.1-6.7 5.8-5 4.2-5 2.6-5 1.1-5-.3-5-1.3-4-2.8-5-4.1-5-5-4.9-8.5-7-16.8-12.6-3-1.3-4.5 .2zM223 239.4l.8 .8 1 0 2-1.8 5-2.2 12-8.3 4.4-3.5 4.4-4 4.4-4.9 3.2-5 1.8-5 .6-5-.6-5-1.8-5-2.9-5-4.8-6-7.9-8-11.8-10.4-4-3-1-.5-1-.1-2-1.7-2 0-.9 .7-.1 .8-1 0-1 1-2 1.1-13.1 11.1-5.3 5-4.6 5-3.8 5-2.7 5-1.6 5-.4 4 .4 4 1.6 5 2.9 5 4 5 5.2 4.9 6.1 5 10.3 7.5 3 1.8 2 .7zM376.7 203.5l.8 .7 2 0 1-.8 3-1.4 10.8-8.5 8.4-8 4-5 3.4-6 1.7-5 .5-5-.4-5-1.9-6-2-4-4-6-6.7-8-11.8-11.9-3-2.8-1-.4-1 .2 0-1-2-1.7-1-.1-2 1.9-2 1.1-8.6 7.8-7.8 7.9-5 6-3.4 5-2.5 5-1.5 5-.6 5 .5 5 1.6 5 2.5 5 3.6 5 5.4 6 7.5 7 6.3 5.2 2 1.4 2 .6zM68.6 192.5l0 .8 3.5 0 1-.9 2-.4 1-.6 8.6-6.9 7.5-7 4.3-5 3.2-5 2.5-6 .8-5-.2-5-1-4-2-5-3-5-5.5-6.9-6.6-7-7.6-7.5-2-1.4-1-.3-2-1.6-3.5 0zM530.4 170.5l.8 .8 1 0 2-1.9 3.5-1.9 9.9-9 7.2-8 4-6 2-4 1.8-5.9 .5-5-.4-5-1.2-5-2.5-6-3.5-6-6-8-8.8-10-2.9-3-5.6-4.7-1 0-2 1.8-2.9 1.9-10.5 11-7.3 9-3.7 6-2.2 5-1.3 5-.6 5 .4 5 1.6 5.9 2.3 5 3.1 5 4.6 6 6.5 7 7.1 6.8 2.9 1.2 .1 1zM223 153.5l.8 .7 1 .1 2-1.9 2-1 3-2.5 7.7-7.4 6.1-6.9 3.4-5 2.5-5 1.5-5 .6-5-.4-5-1.7-6-2.4-5-3.1-5-5.4-7-9-10-6.8-5.7-1 0-2 1.8-2.9 1.9-5.8 6-6.9 8-3.8 5-3.1 5-2.3 5-1.4 5-.5 5 .3 4 1.3 5 1.7 4 2.9 5 3.7 4.9 6.4 7 6.3 6zM376.7 115.6l.8 .7 1 0 2-1.8 3-1.9 7.8-8 5.8-7 3.8-6 2.4-5 1.6-6 .4-5-.4-5-1.7-6-2.2-5-2.9-5-5-6.9-7.5-9-4.1-4.2-1 .2 0-1-2-1.7-1-.1-5 4.3-3.2 3.5-7.4 9-4.9 6.9-2.7 5-2 5-1.2 5-.3 4 .3 4 1.1 5 1.9 5 2.8 5 4.2 6 5.1 6 6.7 7zM68.6 108.6l0 .8 3.5 0 .9-.8 .1-1.1 2-.8 2.6-2.1 5.6-6 4.9-6 3.5-5 3.1-6 1.7-5 .8-6-.3-5-1.2-5-2-5-3.3-5.9-5-7-7.6-9-2.8-2.9-1-.3-2-1.7-1 0-2.5 0zM530.4 79.6l.8 .7 1 .1 1.9-1.8 .1-1 2-1 1.3-1 5.6-6 4.8-6 2.8-4 2.8-5 2.2-4.9 1.1-4 .6-4 .2-4-.6-5-1.1-4-3.3-8-6.9-11 0-2.5-28.3 0 0 2.5-4.6 7-2.3 4-2.6 6-1.1 4-.8 6 .3 5 1.3 6 2 4.9 3.3 6 4.9 7 6.6 8 3.8 3.9 1 .4 .1 .7zM223 68.6l.8 .8 1 0 1.9-1.8 0-1 3.1-2 5.6-6 4-5 4-5.9 2.2-4 1.7-4 1.8-7 .2-3-.1-4-.7-4-1.2-4-3.6-8 0-2.5-38.9 0 0 2.5-3.6 8-1.6 7-.2 6 1.1 6 2.7 7 4.1 7 2.9 3.9 5.8 7 3.8 4 2 1 .1 1zM376.7 29.7l.8 .7 1 0 1.9-1.7 .1-1 2-1.2 4.3-4.8 5.4-7 2.6-4 .5-1 0-2.5-34.2 0 0 2.5 3.1 5 6.9 9 3.4 3.4 2.2 1.6zM68.6 23.7l0 .8 3.5 0 .9-.8 .1-1.1 3.1-1.9 7.9-10 .6-1 0-2.5-16.1 0z"/>
<path fill="#52c569" d="M68.6 346.8l108.6 0 0-2.5 .6-1-.2-1-.7-1.3 .1-2.7-1.3-2-.4-2-.9-1-.7-3-1.4-2-.8-2-.6-.4-1-.1-1-2.2-1-1.1-1 0-1-.8-2-3.3-1-.9-3-1.1-8-4.5-8.9-4.1-48-19.4-18.9-8.4-3-.6-1-.8-3.5 .1zM239.2 343.3l1.6 .8 3 0 1-.8 1-.1 3-1.1 16.9-10.1 6.7-4.7 6.1-5 5.9-6 4.1-6 1.8-4 .9-3 .4-2.9-.1-4-.6-3-1.2-3.6-3.1-5.4-5-6-6.9-6.2-6.3-4.8-7.7-5.2-30.9-19.3-2-1.1-1-.3-1 .1-1-.9-2-.1-1 .9-5 2.3-24.9 14.8-9 6.1-7.1 5.7-5.7 6-2.1 3-1.6 3-1.7 5-.3 3 .1 3 .9 4 1.5 4 3.1 4.9 2.9 3.5 2.9 2.5 5.7 4 3.4 2.1 9 4.4 27.9 12.5 13 6.3zM385.6 333.3l.9 .6 2 0 2-1.4 1.8-2.2 3.2-5.1 5-6.4 17.5-19.4 7.1-9 3.8-6 3.1-7 1.5-6 .3-6-.9-6-2.7-7-3-5-6.5-8-9.5-9-11.7-9.5-16-12.2-3-1.2-2-1.7-1-.1-1 1-1-.1-3 1.5-17.9 12.9-9.5 7.4-6.3 6-5 6-3.6 6-1.9 6-.5 6 .8 5 1.7 5 2.6 5 3.5 5 8.2 9 20 18.6 7.9 8.3 6 7.6 5.6 9.4 1.5 1zM536.3 319.3l.9 .8 2-.1 .8-.7 .1-2 1.1-1 0-3 1-.2 .6-.8 2.4-6 4-7.6 5-8.2 14.6-21.1 6-10 2.8-6 2.3-7 1-5 .3-6-.8-7-1.8-6-4-7.9-4.9-7-6-7-9.1-9-16.4-14.9-3-2.2-1-.1-1-.6-.2-1.2-.8-.7-1 0-2 1.8-3.2 1.9-17 14-6.5 6-5.6 6-5 7-3 6-1.7 5.9-.5 6 .4 4 .8 4 1.7 5 2.3 5 2.9 5 4.1 6 19.4 25 7 10.4 2.9 5.4 3 6.4 2.3 5.7 1 4 .7 1.2 1 0zM68.6 276.4l0 .7 3.5 .1 1-.9 3-.4 13-7 6-3.8 5.1-3.7 5.7-5 4.1-5 2.6-5 1.1-5-.3-5-1.8-5-2.3-4-3.9-5-4.9-4.9-7-6-17.4-13.4-3-1.5-4.5 .2zM223 239.4l.8 .8 1-.1 2-1.8 5-2.3 13-9.3 7-6.3 4.3-4.9 3.1-5 1.8-5 .6-5-.7-5-1.7-5-2.9-5-4.6-6-6.7-7-12.2-11.1-4-3.1-2-.7-2-1.7-2-.1-.9 .7-.1 1-1 .2-.8 .8-2.2 1.1-11.5 9.9-6.2 6-4.5 5-4.3 6-2 4-1.5 5-.4 4 .6 5 1.3 4 2.8 5 4 5 5 4.9 6.7 5.7 9 6.6 2 1.3 3 1.4zM376.7 203.5l.8 .7 2 0 5-3.1 10.5-8.6 7-7 3.9-5 3.3-6 1.6-5 .5-5-.4-5-1.9-6-1.9-4-3.9-6-6.5-8-8.4-8.9-5.8-5.5-2-.5-.1-1-1.9-1.7-1 0-7 5.7-5.2 5-7.6 7.9-4.9 6-3.8 6-1.9 4-1.5 5-.5 5 .5 5 1.5 5 1.9 4 4 6 6.3 7 8.5 8 4.7 3.8 2 1.1 1 .1zM68.6 192.5l0 .8 3.5 0 1-.9 1-.5 1-.1 1-.6 8.2-6.7 7.3-7 4.8-6 3-5 1.9-5 .8-5-.3-5-1.2-5-2.3-5-3-5-5.5-6.9-8.4-9-5.2-5-2.1-1-2-1.8-3.5 0zM530.5 170.5l.7 .7 1 .1 2-1.9 4-2.5 9-8.4 6.1-7 3.5-5 3.1-6 1.7-5.9 .5-5-.3-5-1.2-5-2-5-3.9-7-5-7-6.7-8-4.8-5.3-2.2-1.7-.7-1-3.1-2.7-1 0-4.9 4-8.3 8.7-8.1 10-3.2 5-2.8 6-1.5 5-.7 6 .4 5 1.6 5.9 2.2 5 2.9 5 3.7 5 6.1 7 6.9 7 3.7 1.9 .2 1.1zM223 153.5l.8 .7 1 0 7-5.5 6.4-6.2 6-7 3.4-4.9 2.6-5 1.9-6 .6-5-.4-5-1.3-5-2.7-6-3-5-6-8-7-8-7.5-6.7-1 0-4.6 3.7-5.7 6-6 7-5.1 7-2.8 5-2.1 5-1.2 5-.3 4 .3 4 1.3 5 2.1 5 3 5 4.5 5.9 5.5 6 5.1 4.9zM376.7 115.6l.8 .7 1 0 3-2.7 1.7-1 7.7-8 6.3-8 3-5 2.6-6 1.3-5 .4-4-.3-5-1.1-5-1.9-5-3.2-6-3.9-5.9-7.9-10-3.7-4-1-.9-1-.1-.1-1-1.9-1.7-1 0-5.2 4.7-3.6 4-5.6 7-4.9 6.9-3.2 6-1.9 5-1.1 5-.3 4 .4 5 1.2 5 2.1 5 2.8 5 5 7 4.2 5 5.7 6zM68.6 108.6l0 .7 3.5 .1 .9-.8 .1-1.1 3-1.8 2.2-2.1 5.5-6 3.9-5 3.9-6 2.9-6 1.4-5 .6-5-.2-4-1-5-1.7-5-3.1-5.9-4.7-7-7.2-9-3.5-3.6-1-.4-2-1.8-1-.1-2.5 0zM530.5 79.6l.7 .7 1 0 1.9-1.7 .1-1.1 3-1.9 3-3.1 6.5-7.9 4-6 2.2-4 1.7-3.9 1.4-5 .7-4 .1-4-.5-4-.8-4-1.8-5-1.8-4-6.7-11 0-2.5-27.4 0 0 2.5-5.1 8-2 4-2 5-1.1 4-.8 6 .3 5 1.3 6 2.4 5.9 3.9 7 5 7 6.8 8 1.7 1.6 1.1 .4 .1 1zM223 68.6l.8 .7 1 0 1.9-1.7 0-1 2.8-2 5.5-6 3.2-4 4.1-5.9 3.1-6 1.5-4 1.5-7-.1-7-1.7-7-3.4-8 0-2.5-37.9 0 0 2.5-3 7-1.2 4-.8 4 0 7 1.2 6 2.8 7 4.9 7.9 7 9 2.8 3 2.9 2 0 1zM376.8 29.7l.7 .7 1 0 1.9-1.7 .1-1 2.6-2 4.3-5 3.7-5 3.2-5 .5-1 0-2.5-33.2 0 0 2.5 2.3 4 7.4 10 5.4 5zM68.6 23.7l0 .8 3.5 0 .8-.8 .2-1.1 3-2.1 2.5-2.8 5.1-7 .5-1 0-2.5-15.6 0z"/>
<path fill="#5ec962" d="M68.6 346.8l106.3 0 0-2.5-.5-4-1.1-4-1.8-4-1.8-3-3.1-4-3.7-3.6-8-5.9-8.9-5-11-5.2-40.7-17.2-18.2-8.2-2-.3-2-1.3-3.5 .1zM239.8 343.3l1 .7 3 .1 1-.9 4-1.2 10-6 7.9-5.2 7.3-5.5 4.5-4 2.9-3 3.2-4 2.5-4 1.3-3 1-3 .5-2.9 .1-3-.4-3-1.5-5-3.3-6-4.9-6-6.2-5.7-13-9.7-30.9-20-3-1.4-1 .1-1-.9-2-.1-2 1.5-4 1.7-22.9 14-9.5 6.5-7.3 6-5.6 6-3.1 5-1.3 3-.7 3-.2 3 .2 3 .7 3 1.2 3 3 4.9 2.6 3.2 3 2.8 6 4.7 6 3.7 10 5.3 34.9 16.9zM385.6 333.3l.9 .6 2 0 2-1.6 .3-1 .7-.3 .6-.7 2.4-4 6-7.9 16.7-19 6.9-9 4.2-7 2.5-6 1.5-7 0-6-1.4-7-2.7-6-4.5-7-5.1-6-9.4-9-12.1-10-13.6-10.6-3-1.3-2-1.7-1 0-1 .9-1-.1-3 1.7-15.9 11.6-9.5 7.5-7.4 7-4.9 6-3.4 6-1.8 6-.4 6 .8 5 1.4 4 2.5 5 3.3 5 4.1 5 4.7 5 18.6 17.9 7.9 8.5 6 7.7 5 8.6 .8 1.2 1.3 1zM536.4 319.3l.8 .8 2-.1 .8-.7 0-2 1.2-1 0-3 1-.4 .4-.6 1.5-3 .9-3 4.2-8.1 6-9.8 13.5-20 5.2-9 2.7-6 2-6 1.2-6 .2-6-.7-6-2-7-3.9-7.9-4.8-7-6.7-8-9-9-14.7-13.7-3-2.2-1-.1-1-.8-.2-1.2-.8-.7-1 0-2 1.9-2.9 1.7-3 2.4-13.7 11.7-7.3 7-5.3 6-4.1 6-2.9 6-1.6 5.9-.5 6 .6 5 1.3 5 1.9 5 3.1 6 5.9 9 19.6 26 4 6.1 3.9 7.2 5.6 12.6 .9 4 .5 1 1.1 0zM68.6 276.4l0 .7 3.5 0 1-.9 2-.1 3-1.3 12-6.9 9.3-6.5 5.5-5 4.1-5 2.6-5 1.1-5-.4-5-1.7-5-2.2-4-3.9-5-5.9-5.9-6.9-6-15.6-12.3-3-1.6-4.5 .2zM223 239.4l.8 .7 1 0 3-2.5 4-1.7 11-8 8.3-7.5 4.3-4.9 3-5 1.7-5 .6-5-.6-5-1.8-5-2.8-5-4.5-6-7.5-8-11.7-10.8-3-2.1-2-1-2-1.7-2-.1-.8 .7-.2 1.1-1.2 .9-2.8 1.3-12.1 10.7-5 5-4.4 5-3.6 5-2.6 5-1.5 5-.3 4 .4 4 1.5 5 2.8 5 3.8 5 4.9 4.9 5.8 5 8.3 6.4 3 2.1 3 1.4zM376.7 203.5l.8 .7 2 0 5-3.2 10.1-8.5 6.8-7 3.8-5 2.8-5 2-6 .5-5-.5-5-1.8-6-3.1-6-3.3-5-5.6-7-8.2-8.9-5.5-5.3-2-.6-.1-1.1-1.9-1.7-1 0-8 6.8-4.8 4.9-6.4 6.9-5.5 7-3 5-1.9 4-1.4 5-.6 5 .5 5 1.5 5 1.9 4 3.1 5 5 6 8 8 6.6 5.6 3 1.3zM68.6 192.5l0 .7 3.5 0 2-1.5 1 0 1-.6 6.8-5.6 8.1-8 4.8-6 2.9-5 1.8-5 .8-5-.3-5-1.2-5-2.2-5-3-5-3.7-4.9-7-8-6.8-7-3-2-2-1.8-3.5 .1zM530.5 170.5l.7 .7 1 0 3-2.6 3-1.9 7.7-7.2 6.9-8 4-6 2.3-5 1.5-5 .7-5.9-.4-5-1.1-5-1.9-5-3.2-6-4.8-7-7.1-9-4.6-5-2.6-2-.4-1-3-2.7-1 .1-4.4 3.6-5.8 6-6 7-5.1 7-3 5-2.2 5-1.7 6-.4 5 .2 4 1 4.9 1.9 5 3.1 6 5 7 6 7 5.9 6 1.6 .9 .9 .1 1 .9 .2 1.1zM223.1 153.5l.7 .7 1 0 9-7.5 6.7-7.2 3.9-4.9 3.7-6 2.2-5 1.1-4 .5-5-.4-5-1.3-5-2-5-2.8-5-5-7-8.3-10-2.3-2.1-2-1.3 0-.6-3-2.6-1-.1-3 3-1.3 .7-5.7 6-6.6 8-4.2 6-2.7 5-2 5-1 4-.5 5 .5 5 1 4 2.1 5 2.9 5 2.8 3.9 6 7 3.8 4 4.9 3.9zM376.8 115.6l.7 .6 1 0 4.4-3.6 5.9-6 7.2-9 3.1-5 2.7-6 1.4-5 .6-6-.5-5-1.2-5-2-5-3.2-6-4.7-6.9-6.2-8-3.5-3.7-2.1-1.3 0-1-1.9-1.7-1 0-2.9 2.7-.1 .5-2.9 2.5-2.6 3-7 9-3.8 5.9-2.1 4-2 5-1.3 5-.4 5 .4 5 1.2 5 2 5 2.1 4 4 6 3.9 5 5.4 6zM68.6 108.6l0 .7 3.5 0 .8-.7 .2-1.1 4.1-2.9 5.4-6 3.9-5 4-6 2.9-6 1.6-5 .7-5-.1-5-.9-5-1.8-5-2.4-5-3.7-5.9-5.2-7-6-7-3.5-2.8-3.5 0zM530.5 79.6l.7 .7 1 0 1.9-1.7 0-1 3.1-2.2 3-3.1 6.8-8.7 3.8-6 2-4 1.8-4.9 1-4 .4-4 0-4-1.2-7-2.1-6-1.9-4-5.9-10 0-2.5-26.8 0 0 2.5-4.3 7-2.1 4-2.1 5-1.6 6-.5 5 .4 6 1.8 7 2.1 4.9 4 7 5 7 5.9 7 2.6 2 .1 1zM223.1 68.6l.7 .7 1 0 1.8-1.7 .1-1 5.1-4.4 3.7-4.6 3.7-5 3.2-4.9 2-4 1.9-5 1.4-7-.1-7-1.6-7-3.4-8 0-2.5-36.7 0 0 2.5-3.4 8-1.4 6-.2 7 .3 3 .9 4 1.4 4 1.9 4 4.9 7.9 6.2 8 2.8 3 2.6 2 .1 1zM376.8 29.7l.7 .7 1 0 1.9-1.7 0-1 1.1-1 0-.4 1.3-.6 4.3-5 6.8-10 .4-1 0-2.5-32.3 0 0 2.5 2.9 5 6.7 9 5.2 5zM68.6 23.7l0 .7 3.5 0 .8-.7 .1-1 3.1-2.4 2.2-2.6 5.1-7 .5-1 0-2.5-15.3 0z"/>
<path fill="#69cd5b" d="M68.6 346.8l104.1 0 0-2.5-.2-3-1-4-1.8-4-2.5-4-3.3-3.9-3.2-3.1-4.8-3.8-4-2.7-12.9-7.2-17-7.9-26.1-11.3-19.8-9.1-2-.2-2-1.4-3.5 0zM239.8 343.3l1 .7 3 .1 2-1.4 3-.8 15.9-10.2 7.2-5.4 4.6-4 5.4-6 2.2-3 2.2-4 1.2-3 .7-3 .3-3.9-.2-3-1.3-5-3-6-4.7-6-6.1-6-5.5-4.6-8-5.9-25.9-17.2-4-2.6-3-1.5-1 .1-1-.9-2-.1-2 1.7-4 1.6-23.9 15-8 5.7-6.8 5.7-5.4 6-3.1 5-1.1 3-.7 3 0 5 .7 3 1.1 3 3 4.9 5.3 5.9 6 4.8 9 5.7 9 4.9 31.9 16.2zM385.7 333.3l.8 .6 2 0 1.9-1.6 .1-1 1.4-1 2.4-4 5.2-6.9 16.2-19 7.6-10 3.5-6 2.9-7 1.3-6 .2-6-.3-3-.9-4-3-7-3.7-6-5.8-7-10.2-10-13.8-11.5-10-7.9-2-.8-3-2.4-1 0-1 .9-1 0-4 2.4-15.9 11.9-7.9 6.4-7.2 7-4.7 6-3.3 6-1.8 6-.3 6 .6 4 1.3 4 1.8 4 3.7 6 3.1 4 5.3 6 18.4 18.3 7.9 8.6 4 5 3 4.4 3.7 6.6 1.3 2 1.2 1zM536.4 319.3l.8 .8 2-.1 .7-.7 .1-2 1.1-1 0-3 1.4-1 1.4-3 .9-3 1.8-3 1.6-3.6 6-10.2 13.2-20.1 5.2-9 3.1-7 1.9-6 1.2-6 .2-6-.9-7-2.2-7-2.9-5.9-5.2-8-6.7-8-8.7-9-14.2-13.6-5-3.2-.2-1.2-.8-.7-1 0-3 2.7-1.9 1.1-3 2.4-13.3 11.5-7.2 7-5.1 6-4 6-2.8 6-1.5 5.9-.4 6 .5 5 1.3 5 2 5 3.1 6 5.8 9 17.6 23.9 5 7.7 3.9 7.2 3 6.7 2.1 5.4 .7 1 .8 4 .4 .7 1.1 .3zM68.6 276.4l0 .7 3.5 0 1-.9 2-.3 3-1.2 10-5.8 10.6-7.5 5.5-5 4-5 2.5-5 1.1-5-.2-4-1.4-5-2.6-5-3.8-5-4.8-4.9-6.6-6-16.3-13.1-3-1.7-4.5 .2zM223.1 239.4l.7 .7 1 0 3-2.7 4-1.6 11.2-8.4 7.6-7 4.1-4.9 2.9-5 1.8-5 .5-5-.6-5-1.7-5-3.4-6-3.8-5-7.4-8-11.2-10.6-2-1.5-2-1-3-2.5-2 0-.8 .6-.1 1-1.1 1-3 1.5-10.7 9.5-5.9 6-5.1 6-3.8 6-1.8 4-1.1 4-.4 4 .6 5 1.8 5 2.9 5 3.1 4 5.9 5.9 6.5 5.7 8 6 4 2.2zM376.8 203.5l.7 .6 2 0 2-1.5 3-1.7 8.7-7.4 7.8-8 4.3-6 2.5-5 1.5-5 .5-5-.5-5-1.4-5-2.8-6-3.2-5-6.2-8-7-7.9-6.2-6-1 0-1-.9-.2-1.1-1.8-1.7-1 0-8.6 7.7-3.9 4-7.1 7.9-3.8 5-3.1 5-2.7 6-1.3 5-.3 4 .2 4 1.3 5 2.7 6 3.3 5 5.9 7 7.1 7 4.3 3.8 4 2.1zM68.6 192.5l0 .7 3.5 0 2-1.7 1 0 1-.6 6.6-5.4 7.9-8 3.9-5 3.1-5 2-5 1-6-.1-4-1.1-5-1.9-5-2.8-5-5.1-6.9-6-7-6.8-7-4.7-3.7-3.5 0zM530.5 170.5l.7 .7 1 0 3-2.7 3-2 6.5-6 6.9-8 4-6 2.9-6 1.5-5 .6-5.9-.6-6-1.2-5-2-5-3.3-6-4.7-7-6.3-8-4.5-5-2.8-2 0-1-3-2.6-1 0-4.1 3.6-5.8 6-6.7 8-3.6 5-3.5 6-2.5 6-1.3 5-.4 5 .3 5 1.2 4.9 1.9 5 3.3 6 5 7 6 7 4.9 5 2.3 1 1 .9 .2 1.1zM223.1 153.5l.7 .7 1 0 4.3-3.7 .8-1 2.9-2.1 5.6-5.9 4.8-6 3.3-4.9 2.8-6 1.4-5 .5-5-.5-6-1.4-5-2.2-5-2.9-5-4.9-7-7.5-9-2-1.8-2-1.2-.1-1-2.9-2.6-1 0-2.9 2.6-.1 .9-1 .1-5.8 6-5.7 7-4.1 6-2.9 5-2.1 5-1.3 5-.4 5 .5 5 1.3 5 2.2 5 2.9 5 2.9 3.9 5 6 4.5 4.7 2 1.6 2 1 .1 .7zM376.8 115.6l.7 .6 1 0 7.4-6.6 5.2-6 5.1-7 2.9-5 2.1-5 1.6-6 .4-5-.3-4-1.1-5-1.8-5-3-6-5.1-7.9-6.1-8-3.3-3.4-2.1-1.6 0-1-1.9-1.7-1 0-2.9 2.7-.1 1-2 1.3-3.3 3.7-6.1 8-3.9 5.9-3 6-1.8 5-1.1 5-.3 4 .3 4 1 5 1.8 5 3.1 6 4 6 3.9 5 4.6 5 1.8 1.8 1 .5 .1 .7zM68.6 108.6l0 .7 3.5 0 .8-.7 0-1 4.2-3.2 4.3-4.8 5.4-7 3.8-6 2.3-5 1.7-6 .6-5-.3-5-1.1-5-1.4-4-2.9-5.9-3.8-6-4.4-6-4.2-5.2-5-4.6-3.5 0zM530.5 79.6l.7 .7 1 0 1.8-1.7 .1-1 3.1-2.4 3-3.2 5.7-7.4 3.9-6 2-4 2-4.9 1-4 .7-7-.3-4-.7-4-1.5-5-2.1-5-6.3-11 0-2.5-26.2 0 0 2.5-3.6 6-3.1 6-1.9 5-1 4-.7 6 .4 6 1.1 5 2.2 5.9 3.8 7 4 6 5.6 7 4.1 4 .1 1zM223.1 68.6l.7 .7 1 0 1.8-1.7 0-1 5.2-4.7 3.5-4.3 6.1-8.9 2.1-4 2-5 1.6-7 .1-7-.6-4-1.1-4-3.3-8 0-2.5-35.9 0 0 2.5-3.2 8-1.6 7-.1 6 1 6 .9 3 2 5 4 6.9 7.4 10 2.8 3 2.4 2 .1 1zM376.8 29.7l.7 .6 1 0 1.8-1.6 .1-1 1.1-1 0-1 1 0 4.4-5 6.1-9 1-2 0-2.5-31.5 0 0 2.5 2.7 5 4.2 6 2.4 3 2.7 2 .1 1 2.2 2zM68.6 23.7l0 .7 3.5 0 .8-.7 0-1 3.5-3 6.1-8 1.1-2 0-2.5-15 0z"/>
<path fill="#75d054" d="M68.6 346.8l102.3 0 0-2.5-.5-4-.8-3-1.9-4-2.6-4-2.5-3-4.2-4-4.5-3.5-4.9-3.4-10-5.8-8-4-51.9-23.8-3-1.4-2-.1-2-1.6-3.5 .1zM239.9 343.3l.9 .7 3 0 2-1.5 3-.8 14.9-9.6 6.3-4.8 5.6-5 5.4-6 2.1-3 2.1-4 1.8-6 .3-3.9-.3-3-1.6-6-2.7-5-4.6-6-7.4-7.2-11.9-9.4-25-16.9-7-4.3-1 .1-1-.9-2-.1-2 1.8-4 1.7-22.9 14.6-7.8 5.6-7.1 6-4.5 5-2.2 3-1.6 3-1.6 5-.2 3 .2 3 1.5 5 1.6 3 2 2.9 4.7 5.1 7 5.7 7 4.6 11 6.3 29.9 15.6zM385.7 333.3l.8 .6 2-.1 1.9-1.5 0-1 1.3-1 2.4-4 5.4-7.2 16.5-19.7 5.9-8 4.1-7 2.8-7 1.3-6 .1-6-1.3-7-2.9-7-3.7-6-5.6-7-9-9-12.7-10.9-11.5-9.4-2-.7-3-2.5-1-.1-1 1-1-.1-4 2.5-13.9 10.6-9.3 7.6-7.1 7-5.3 7-2.6 5-1.5 5-.4 6 .7 5 1.3 4 1.8 4 3.7 6 3 4 5.2 6 19.4 19.8 7 8 6 8.2 5.1 8.9 1.1 1zM536.4 319.3l.8 .7 2-.1 .7-.6 .1-2 1.1-1 0-3 1.2-1 1.5-3 .8-3 1.8-3 1.8-3.9 6-10.3 12.7-19.7 5-9 2.7-6 2.2-7 1.1-6 .2-6-.7-6-2.4-8-3.4-6.9-4.6-7-7.4-9-8.6-9-12.8-12.4-5-3.3-.3-1.3-.7-.6-1 0-3 2.7-1.9 1.1-3 2.4-11.8 10.4-7.2 7-5.2 6-4.1 6-3.3 7-1.5 5.9-.3 6 .6 5 1.3 5 1.9 5 3.1 6 7.1 11 16.4 22.8 4 6.3 3.9 7.3 4.7 10.5 .5 2 1.2 2 .4 3 1.3 1zM68.6 276.4l0 .6 3.5 .1 1-1 2-.3 3-1.3 11-6.5 9-6.6 5.4-5 3.9-5 2.5-5 1.1-5-.3-5-1.2-4-2.7-5-3.7-5-5.6-5.9-6.7-6-14.7-12-3-1.8-4.5 .2zM223.1 239.4l.7 .7 1-.1 3-2.6 4-1.8 10-7.4 8.3-7.8 4-4.9 2.9-5 1.7-5 .6-5-.9-6-1.9-5-2.9-5-4.5-6-6.4-7-9.9-9.6-3-2.3-2-1-3-2.7-2 0-.8 .6 0 1-1.2 1.1-1 .7-1 .2-2 1.4-9.3 8.6-5.9 6-4.2 5-4 6-1.9 4-1.3 4-.5 5 .6 5 1.3 4 2.6 5 2.9 4 4.6 4.9 6.5 6 9.6 7.6 3 1.6zM376.8 203.5l.7 .6 2 0 2-1.7 3-1.7 8.4-7.2 6.8-7 4.5-6 2.7-5 1.8-6 .5-5-.5-5-1.4-5-2.3-5-2.9-5-5.9-8-7.8-8.9-3.9-4-4-2.8-.2-1.2-1.8-1.6-1-.1-3.9 3.7-.5 1-1.6 .9-2 1.7-4.3 4.4-6.1 6.9-5.2 7-2.9 5-2.1 5-1.1 4-.5 5 .4 5 1.4 5 1.8 4 3.1 5 4.7 6 7.7 8 5.1 4.6 3 1.6zM68.6 192.5l0 .7 3.5 0 2-1.8 1 0 1-.7 6.4-5.2 6.8-7 5.5-7 2.7-5 1.8-5 .7-5-.3-5-1.2-5-2.1-5-2.9-5-5.1-6.9-5.1-6-6.7-7-4.5-3.7-3.5 0zM530.6 170.5l.6 .6 1 .1 8-6.6 6.9-7.1 4.8-6 3.8-6 1.9-4 1.7-6 .6-4.9-.2-5-.9-5-2.2-6-3-6-3.8-6-5.2-7-6.8-8-2.6-2-.1-1-2.9-2.6-1 0-1.7 1.6-8.2 8.3-5.6 6.7-4.9 7-3.3 6-2 5-1.2 5-.4 5 .5 6 1 3.9 1.4 4 3.1 6 4 6 4.7 6 6.7 7.2 3.9 2.6 .3 1.2zM223.1 153.5l.7 .6 1 0 4.1-3.6 .5-1 1.4-.7 2-1.6 4.5-4.7 4.8-6 3.3-4.9 3-6 1.7-6 .5-5-.2-4-1-5-1.9-5-3.1-6-4-6-6.2-8-3.4-3.8-3.1-2.2 0-1-1.1-1-1.8-1.6-1 0-2.9 2.6 0 1-1.1 .4-2 1.8-3.6 3.8-4.8 6-4.8 7-3.3 6-1.9 5-1.1 5-.2 4 .2 4 1.2 5 2 5 2.7 5 4.2 5.9 4.2 5 4.2 4.5 2 1.6 2 .9 .1 1zM376.8 115.6l.7 .6 1 0 7.1-6.6 5.2-6 4.4-6 3.9-7 2-5 1.1-5 .4-5-.4-5-1.2-5-1.9-5-3-6-3.8-5.9-6.8-9-5.1-5-.1-1-1.8-1.6-1-.1-2.8 2.7-.1 1-2.1 1.5-3.1 3.5-5.3 7-5 7.9-2.9 6-1.4 4-.8 4-.4 5 .3 5 1.2 5 1.9 5 2 4 3.1 5 4.5 6 5.3 6 2.6 2 .1 1zM68.6 108.6l0 .6 3.5 .1 .8-.7 0-1 4.2-3.4 4.9-5.6 3.8-5 3.8-6 2.8-6 1.5-5 .7-5-.1-5-.9-5-1.7-5-2.3-5-2.9-4.9-4.8-7-4.8-5.9-5-4.8-3.5-.1zM530.6 79.6l.6 .6 1 0 1.8-1.6 0-1 3.2-2.7 3.1-3.3 5.4-7 3.1-5 3.1-6 1.7-4.9 .9-4 .5-4-.1-4-1.1-7-1.3-4-2-5-6.2-11 0-2.5-25.6 0 0 2.5-6.1 11-2 5-1.5 6-.5 5 .4 6 1.7 7 2 4.9 3.2 6 4.7 7 4.7 5.8 4.1 4.2 .1 1zM223.1 68.6l.7 .7 1-.1 .7-.6 1.1-1 0-1 2.2-2 .6-1 2.4-2 3.2-4 4.2-6 2.4-3.9 1.9-4 1.9-5 1.3-7-.1-7-1.6-7-3.2-8 0-2.5-35.1 0 0 2.5-3.2 8-1.3 6-.3 7 1.2 7 1.4 4 1.7 4 4.1 6.9 6.6 9 5.1 5 0 1zM376.9 29.7l.6 .6 1 0 .7-.6 1.1-1 0-1 1.1-1 .1-1 1-.5 1-.9 3.2-3.6 4.2-6 2.3-4 .4-1 0-2.5-30.8 0 0 2.5 2.1 4 5.5 8 2.1 2.5 2.1 1.5 0 1 2.2 2zM68.6 23.7l0 .7 3.5 0 .7-.7 .1-1 5-5 5-7 .4-1 0-2.5-14.7 0z"/>
<path fill="#81d34d" d="M68.6 346.8l100.7 0 0-2.5-.5-4-1.3-4-2.1-4-2.1-3-3.4-3.8-3.4-3.2-8.5-6.3-10-6-21-10.4-39.9-18.6-2-.7-1 .1-2-1.7-3.5 .1zM239.9 343.3l.9 .6 3 .1 2-1.7 2-.2 4-2.3 12.9-8.8 5.9-4.7 5.3-5 5-6 3.3-6 1.1-3 .8-3.9 .1-3-.2-3-1.8-6-2.7-5-4.5-6-7-7-5.3-4.5-7.9-6-23-15.9-7-4.3-1 .1-1-1-2 0-2 1.7-4 1.8-20.9 13.5-10 7.3-6.1 5.3-5.2 6-2.9 5-1.5 5-.2 3 .2 3 .8 3 1.4 3 3.2 4.9 4.6 5 6.7 5.5 9 6 9 5.2 27.9 15zM385.7 333.3l.8 .5 2 0 1.9-1.5 0-1 1.1-1 2.4-4 7.6-10 14.8-17.9 5.6-8 3.8-7 2.3-6 1.2-6 .1-6-1.3-7-2.4-6-3.4-6-6.2-8-8.8-9-11.3-10-11.4-9.4-2-1.3-1-.2-3-2.6-1 0-1 .9-1-.1-3 2-15.9 12.1-7.8 6.6-6.9 7-4.6 6-3.2 6-1.6 6-.3 5 .8 5 1.3 4 1.8 4 3.7 6 7.3 9 18.5 19.3 7.9 9.2 6 8.2 3.3 6.2 1.7 2.4 .1 .6 1.1 1zM536.5 319.3l.7 .7 2-.1 .7-.6 0-2 1.2-1-.1-3 1.2-1 .4-2 .6-.3 .4-.7 .8-3 1.9-3 1.9-4.2 5-8.8 12.6-19.9 5-9 2.8-6 2.3-7 1.1-6 .3-7-.9-7-2.6-8-4.1-7.9-4.1-6-6.5-8-9.5-10-11.4-11.3-5-3.4-.3-.3 0-1-.7-.6-1 0-3 2.7-4.9 3.7-12.6 11.2-6.9 7-4.9 6-3.3 5-2.9 6-1.8 6.9-.3 6 .5 4 1.5 6 1.9 5 2.5 5 6.8 11 16.5 23.3 4 6.4 3.9 7.3 4.8 10.9 .6 2 .6 .9 .6 .1 .4 4 1.2 1zM68.6 276.4l0 .6 3.5 0 1-.9 1 0 4-1.7 11-6.6 8.5-6.4 5.3-5 3.9-5 2.4-5 1.1-5-.2-4-1.3-5-2.6-5-3.6-5-5.6-5.9-6.5-6-14.4-11.9-3-1.8-4.5 .1zM223.1 239.4l.7 .6 1 0 3-2.7 3-1.2 3-2 8.6-6.7 7.2-7 4-4.9 2.9-5 1.7-5 .5-5-.6-5-1.7-5-3.3-6-3.6-5-6.2-7-10.5-10.5-5-3.4-3-2.6-2-.1-.7 .6-.1 1-1.2 1.1-1 .9-2 .8-2 1.6-9 8.6-5.7 6-4 5-2.6 4-2.5 5-1.4 5-.4 4 .4 4 1.5 5 2.7 5 3.6 5 4.6 4.9 5.5 5 8.8 7 3.5 2.1zM376.8 203.5l.7 .6 2 0 2-1.7 3-1.8 9.2-8.1 6.5-7 3.5-5 3.1-6 1.4-5 .4-5-.5-5-1.4-5-2.7-6-3-5-5.9-8-6.9-7.9-3.7-3.8-4-3-.2-1.2-1.1-1-.7-.6-1 0-3.9 3.6-.1 1-2 1.1-2 1.7-4 4.2-5.2 5.9-5.3 7-3 5-2.3 5-1.4 5-.5 5 .3 4 1.2 5 2.7 6 3.1 5 4.8 6 7.7 8 3.9 3.5 2 1.2 1 .3zM68.6 192.5l0 .6 3.5 0 2-1.7 1-.2 2-1.3 6.2-5.4 6.6-7 3.8-5 2.9-5 1.9-5 1-6-.2-4-1-5-1.9-5-2.7-5-4.1-5.9-6.5-8-6.8-7-4.2-3.7-3.5 0zM530.6 170.5l.6 .6 1 0 8-6.7 6.7-6.9 4-5 3.9-6 1.9-4 1.9-6 .8-5.9-.4-6-1.1-5-1.3-4-2.9-6-4.9-8-4.4-6-5-6-4.3-4 0-1-2.9-2.6-1 .1-2.8 2.5-1.1 1 0 .7-6 5.8-4.5 5.5-5 7-3.3 6-2.4 6-1.2 5-.4 5 .3 5 1.1 4.9 1.9 5 3.1 6 4 6 4.8 6 6.6 6.9 1.9 1 1.3 1.1 0 1zM223.2 153.5l.6 .6 1 0 4-3.6 .2-1 1.8-.9 3-2.5 5.7-6.6 3-4 3.6-5.9 2.2-5 1.3-5 .5-5-.5-6-1-4-2.4-6-2.8-5-4-6-5.4-7-3.2-3.6-3.1-2.4-.1-1-2.8-2.5-1-.1-2.8 2.6-.1 1-3.1 2.4-3.4 3.6-6.2 8-3.8 6-2.2 4-2 5-1.2 5-.4 5 .4 5 1.3 5 2.1 5 2.8 5 4.3 5.9 3.3 4 4 4.3 2 1.6 2 1.1 .2 1zM376.9 115.6l.6 .6 1-.1 4-3.5 0-.7 3-2.4 3.5-3.9 5.9-8 2.9-5 2.2-5 1.6-6 .5-5-.2-5-1.1-5-1.7-5-2.8-6-4.3-6.9-4.2-6-3.3-3.9-1.8-1.1-.2-1-2.2-2 0-1-1.8-1.6-1 0-2.8 2.6-.1 1-2.3 2-2.7 3-4.5 6-5.1 7.9-3 6-1.7 5-1 5-.3 4 .3 4 .9 5 1.8 5 3 6 3.1 5 3.7 5 5.4 6 2.4 2 .1 1zM68.6 108.6l0 .6 3.5 0 .7-.6 .1-1 4.5-4 4.4-5 3.7-5 3.2-5 2.9-6 1.9-6 .7-6-.3-5-1-5-1.4-4-2.8-5.9-2.9-5-4.2-6-3.9-5-2.6-2.4-.1-.6-2.9-2.7-3.5 0zM530.6 79.6l.6 .6 1 0 1.8-1.6 0-1 3.3-3 2.8-3 4.6-6 3.3-5 2.6-5 2-4.9 1.3-5 .7-7-1-8-1.1-4-1.9-5-2-4-4.5-8 0-2.5-25.2 0 0 2.5-6 11-1.9 5-1.3 5-.7 6 .4 6 1.4 6 1.8 4.9 3.1 6 5.1 8 2.5 3.2 3.6 3.8 .4 1 2.1 2 .1 1zM223.2 68.6l.6 .6 1 0 1.7-1.6 .1-1 2.1-2 .1-.9 3-2.3 5.2-6.8 5.3-8.9 2.7-7 1.3-7-.1-7-.7-4-1.2-4-2.8-7 0-2.5-34.5 0 0 2.5-2.8 7-1.1 4-.7 4-.1 6 1 6 1.9 6 4.1 8 4.5 6.7 3.4 4.2 4.8 5 .1 1zM376.9 29.7l.6 .6 1 0 1.7-1.6 .1-1 1.1-1 0-1 2.4-2 4.1-5 5.1-8 .3-1 0-2.5-30.3 0 0 2.5 2.1 4 5.4 7.9 2 2.3 2.1 1.8 .1 1 2.2 2zM68.6 23.7l0 .6 3.5 0 .7-.6 0-1 4.9-5 4.9-7 .4-1 0-2.5-14.4 0z"/>
<path fill="#8ed645" d="M68.6 346.8l99.3 0 0-2.5-.3-3-1.2-4-1.9-4-2-3-5.6-6.1-4.4-3.9-4.5-3.3-7-4.4-7-3.9-18-9.1-36.9-17.6-3-1.3-2-.2-2-1.7-3.5 0zM240 343.3l.8 .6 3 .1 2-1.8 2-.2 4-2.3 6-3.9 7.9-5.9 5.5-4.6 4.1-4 4.8-6 1.9-3 1.8-4 .9-3 .6-3.9-.3-5-.7-3-1.1-3-3.3-6-4.7-6-6-6-11.4-9.4-23-16.2-8-5.1-1 .1-1-.9-2-.1-3 2.4-2 .7-5 3-17.9 11.9-8 5.9-6.4 5.7-5.1 6-2.9 5-1.4 5 0 5 1.4 5 1.5 3 2 3 4.4 4.9 6.5 5.6 7 4.9 10 6.1 28.9 15.9 6 2.6zM385.8 333.3l.7 .5 2 0 1.8-1.5 0-1 1.2-1 .2-1 1-1 1-2 7.8-10.2 13.6-16.7 5.6-8 3.4-6 2.9-7 1.4-6 .2-6-1.1-7-2.6-7-4.2-7-4.5-6-7.5-8-10.8-10-13.4-11.3-3-1.6-3-2.6-1 0-1 .9-1 0-3 2-15.9 12.3-8.4 7.3-5.8 6-4.5 6-2.7 5-1.8 6-.4 6 .8 5 1.3 4 1.8 4 3.1 5 2.8 4 5 6 18.7 20 7 8.1 6 8.4 3.5 6.4 1.5 2.1 .2 .9 1.1 1zM536.5 319.3l.7 .7 2-.1 .6-.6 .1-2 1.1-1 0-3 1.1-1 .1-2.1 1-.4 .3-.5 .7-3 1.4-2 2.6-5.5 3-5.4 13.6-22 6-11 2.9-7 1.8-6 1-6 .2-6-1-7-2.1-7-2.8-5.9-5-8-7.2-9-8.3-9-11.9-12-3.2-2-2-1.7-.3-.3 0-1-.7-.6-1 0-4.9 4.1-1 1.2-2.1 1.3-12.2 11-5.8 6-5.1 6-3.4 5-3 6-2 6.9-.4 6 .5 5 1.1 5 1.9 5 2.9 6 6.1 10 12.5 17.8 6 9.1 5.9 10.8 5 11.2 .5 2 .5 .7 1.1 .3 0 4 1.1 1zM68.6 276.4l0 .6 3.5 0 1-.9 1 0 5-2.4 11-6.8 7.1-5.5 5.2-5 3.8-5 2.5-5 1-5-.3-5-1.6-5-2.1-4-4.4-6-4.7-4.9-5.3-5-11.2-9.6-7-5.1-4.5 .2zM223.2 239.4l.6 .6 1 0 3-2.7 1-.7 2-.6 3-2.1 8.3-6.5 7.2-7 3.9-4.9 2.8-5 1.7-5 .5-5-.9-6-1.8-5-3.5-6-3.7-5-7.2-8-8.3-8.3-4-2.8-4-3.4-2 0-.7 .5-.1 1-1.2 1.2-5 3.4-7.8 7.4-5.7 6-4 5-3.9 6-1.9 4-1.2 4-.5 5 .5 5 1.3 4 2.6 5 2.8 4 4.4 4.9 5.2 5 6.2 5.3 4 3 3 1.7zM376.9 203.5l.6 .5 2 0 2-1.6 3-1.9 7.9-7 7.5-8 4.1-6 2-4 1.8-6 .4-5-.5-5-1.8-6-2.9-6-3.1-5-5.9-7.9-5.5-6.5-4-4-4.2-3.5-.1-1-1.7-1.6-1 0-3.8 3.6-.2 1-4 3-3.9 4.1-5.8 6.8-3.8 5-3.1 5-2.7 6-1.4 5-.5 5 .4 5 1.4 5 2.8 6 3.3 5 4.8 6 6.8 7 3.7 3.3 3 1.6zM68.6 192.5l0 .6 3.5 0 2-1.7 3-1.6 6-5.3 6.5-7 3.7-5 3.3-6 1.7-5 .7-5-.2-5-1.2-5-2.1-5-2.8-5-4.1-5.9-5.8-7-3.6-4-7.1-6.6-3.5 0zM530.6 170.5l.6 .6 1 0 8-6.9 4.7-4.7 5.7-7 3.2-5 2.9-6 1.7-6 .5-4.9-.2-5-.9-5-2.1-6-2.9-6-3-5-4.9-7-4.8-6-5-5-.1-1-2.8-2.6-1 .1-3.8 3.5-.1 1-6.2 6-6.3 8-3.2 5-2.7 5-2.1 5-1.3 5-.6 6 .5 6 1.3 4.9 1.9 5 2.1 4 3.8 6 5.4 7 5.6 6 4 3 0 1zM223.2 153.5l.6 .6 1 0 3.9-3.6 .1-1 2-1.1 3-2.5 5.5-6.4 2.9-4 3-4.9 2.3-5 1.7-6 .5-5-.4-5-1.1-5-1.9-5-3.2-6-3.9-6-5.4-7-3-3.3-3.1-2.7-.1-1-2.8-2.5-1 0-2.8 2.5-.1 1-3.5 3-2.7 3-6.2 8-3.2 5-3.1 6-1.9 5-1 5-.3 4 .3 4 1.1 5 1.9 5 3.3 6 2.6 3.9 4.8 6 3.8 4.1 4 2.8 .2 1.1zM376.9 115.6l.6 .5 1 0 3.9-3.5 .1-1 3-2.4 3.2-3.6 6.5-9 2.7-5 2.1-5 1.2-5 .5-6-.4-5-1.1-5-2.3-6-1.9-4-4.2-6.9-4.3-6-3-3.6-2-1.4-.1-1-2.1-2-.1-1-1.7-1.6-1 0-2.8 2.6 0 1-4.8 5-3.4 4.3-3.2 4.7-3 4.9-2.5 5-1.8 5-1.2 5-.4 5 .4 5 1.1 5 1.9 5 2.5 5 3.1 5 3.6 5 3.5 4 4.1 4 .1 1zM68.6 108.6l0 .6 3.5 0 .7-.6 0-1 4.4-4 4.4-5 3.7-5 4.1-7 2.2-5 1.2-4 .9-6-.1-5-.8-5-2-6-2.4-4.9-2.9-5-4.1-6-3.9-5-2.4-2-.1-1-2.9-2.7-3.5 0zM530.6 79.6l.6 .6 1 0 1.7-1.6 .1-1 5.9-6 4.6-6 3.2-5 3-6 1.9-4.9 .9-4 .6-4 0-4-.3-4-.8-4-1.2-4-2-5-5.9-11 0-2.5-24.7 0 0 2.5-3.5 6-2.9 6-2.1 6-.8 4-.5 5 .4 6 1 5 2.2 5.9 3.5 7 4.5 7 4.3 5.2 1.9 1.8 .1 1 2.2 2 0 1zM223.2 68.6l.6 .6 1 0 1.7-1.6 0-1 2.2-2 .1-1 2.5-2 2.5-3 3.6-5 3-4.9 2-4 1.9-5 1.1-4 .5-4 0-6-.6-4-1-4-3.1-8 0-2.5-33.9 0 0 2.5-3.1 8-1.2 6-.3 6 .9 7 2.8 8 5 8.9 6 8 2.4 2.1 .1 .9 2.2 2 0 1zM376.9 29.7l.6 .5 1 0 1.7-1.5 .1-1 1-1 .1-1 4.1-4.2 2.2-2.8 5-8 .4-1 0-2.5-29.8 0 0 2.5 2.7 5 4.5 6.6 4.2 4.4 0 1 2.2 2zM68.6 23.7l0 .6 3.5 0 .7-.6 0-1 2.2-2 .1-1 2.4-2 4.9-7 .4-1 0-2.5-14.2 0z"/>
<path fill="#9bd93c" d="M68.6 346.8l98 0 0-2.5-.3-3-1.2-4-1.9-4-2-3-2.5-3-4.1-4-5.6-4.6-4-2.7-12-7.2-17-8.8-36.9-17.9-3-1.3-2-.3-2-1.7-3.5 0zM240 343.3l.8 .6 3 0 2-1.7 2-.3 4-2.3 7-4.7 6.9-5.3 5-4.3 4-4 4.7-6 1.9-3 1.7-4 1.4-5.9-.2-6-.7-3-1.2-3-3.2-6-4.7-6-7-7-11.6-9.5-21-15-8-5.1-1 0-1-.9-2-.1-3 2.6-2 .6-5 3-17.9 12.1-8.3 6.3-5.5 5-5 6-2.8 5-1.4 5 0 5 1.5 5 1.5 3 2.1 3 4.4 4.9 6.5 5.6 7 4.9 10 6.2 27.9 15.7 2 1.1 3 1zM385.8 333.3l.7 .5 2 0 1.8-1.5 0-1 1.1-1 .1-1.2 1.1-.8 .9-2 20.4-25.9 6.3-9 3.9-7 2-5 1.6-7 .2-6-1.1-7-2.6-7-4.1-7-5.4-7-9.5-10-12.2-10.9-8.5-7.3-3-1.6-3-2.6-1-.1-1 1-1-.1-3 2.1-13.9 10.8-9 7.7-6.7 7-4.5 6-3 6-1.4 5-.3 6 .6 4 1.5 5 2.4 5 3.1 5 8 10 17.2 18.6 7 8.2 6 8.5 4 7.3 .7 .3 .5 2 1.1 1zM536.6 319.3l.6 .6 2-.1 .6-.5 .1-2 1.1-1 0-3 1.1-1 .1-2.9 1.1-.1 .4-3 .5-.2 1-1.3 3-6.3 4-7.1 12.3-20 5.4-10 3-7 1.8-6 1.1-6 .2-7-.3-4-.8-4-2.3-7-2.9-5.9-5.1-8-5.5-7-9.1-10-11.8-12-5-3.6-.3-.4-.1-1-.6-.6-1 .1-4.9 4.2-1 1.2-1.9 1.1-3.4 3-8.7 8-6.7 7-4.8 6-3.2 5-2.8 6-1.5 5.9-.4 6 .5 5 1.2 5 1.4 4 2.7 6 5.9 10 13.7 19.8 6 9.4 5.9 11.3 4.2 9.4 .5 2 1.4 1 0 4 1.2 1zM68.6 276.4l0 .5 3.5 .1 1-1 1 0 5-2.4 9-5.5 8.7-6.7 5.1-5 3.8-5 2.4-5 1-5-.2-5-1.2-4-2.5-5-3.5-5-5.4-5.9-6.4-6-9.8-8.5-7-5.2-4.5 .2zM223.2 239.4l.6 .6 1-.1 4-3.4 2-.6 3-2.1 9.2-7.4 5.9-6 4.6-5.9 2.1-4 1.6-5 .5-5-.6-5-1.6-5-2-4-4-6-5.8-7-10.9-11.2-4-2.8-4-3.5-2 0-.6 .5-.1 1-1.3 1.2-5 3.5-7.6 7.3-4.7 5-4.9 6-3.3 5-2 4-1.5 5-.6 5 .6 5 1.7 5 2.7 5 3 4 4.5 4.9 6.4 6 7.5 6 3.2 1.9zM376.9 203.5l.6 .5 2 0 4.8-3.5 7-6 7.5-8 4.3-6 2.1-4 1.7-5 .9-6-.4-5-1.2-5-2-5-3.3-6-4.9-7-7.3-8.9-4.2-4.3-4.3-3.7 0-1-1.7-1.5-1-.1-3.8 3.6 0 1-4.2 3.2-4.5 4.8-5.8 6.9-4.1 6-2.8 5-2.1 5-1.2 5-.3 4 .3 4 1.1 5 2.1 5 3.6 6 5.5 7 6.7 7 3.5 3.2 3 1.7zM68.6 192.5l0 .6 3.5 0 2-1.8 3-1.7 5.8-5.1 5.6-6 3.9-5 3.4-6 1.9-5 .9-6-.1-4-1-5-1.9-5-3.2-6-4.9-6.9-4-5-3.6-4-3.8-3.5-.1-.5-3.9-3.6-3.5 0zM530.7 170.5l.5 .6 1 0 8-7 4.5-4.6 6.3-8 3.6-6 2.1-5 1.3-5 .5-4.9-.4-6-1-5-2.2-6-2.5-5-3.5-6-4.2-6-4.8-6-2.3-2-.4-1-2.2-2 0-1-2.8-2.5-1 0-3.8 3.5-.1 1-2.1 2-.6 1-3.3 3-5.5 7-3.9 6-3.2 6-1.8 5-1.2 5-.3 5 .3 5 1.1 4.9 1.7 5 3.1 6 3.1 5 6.2 8 4.7 5 4 3 0 1zM223.2 153.5l.6 .5 1 .1 3.9-3.6 .1-1 5-3.8 7.5-9.2 3.1-4.9 2.7-6 1.5-5 .7-6-.2-4-1-5-1.8-5-2.9-6-5.2-8-4.6-6-2.8-3.1-1-.6-2.2-2.3 0-1-2.8-2.5-1 0-2.7 2.5-.1 1-6.2 6.1-5.3 6.9-3.9 6-3.1 6-1.5 4-1 4-.6 6 .6 6 1.1 4 2 5 2.1 4 3.3 4.9 4.7 6 3.6 3.9 4 3 .2 1.1zM376.9 115.6l.6 .5 1 0 3.9-3.5 .1-1 3-2.6 3-3.4 6.5-9 3.1-6 1.8-5 1.1-5 .3-4-.2-5-1-5-2.1-6-2.9-6-2.9-4.9-4.9-7-2.8-3.4-2.1-1.6 0-1-2.2-2 0-1-1.7-1.5-1-.1-2.7 2.6-.1 1-2.1 2-.4 1-2.1 2-3.9 5-3.3 5-2.9 4.9-1.9 4-2.1 6-1 5-.2 4 .2 4 1 5 2.1 6 1.9 4 3 5 4.2 6 3.3 3.7 1.7 1.3 .4 1 2.1 2 .1 1zM68.6 108.6l0 .5 3.5 .1 .6-.6 .1-1 3.2-3 .1-.4 5-5.3 4.6-6.3 2.9-5 2.7-6 1.4-5 .7-5-.1-5-.9-5-1.6-5-2.1-5-4-6.9-3.5-5-4-5-2.2-2-.1-1-2.8-2.6-3.5 0zM530.7 79.6l.5 .5 1 .1 1.7-1.6 0-1 3.3-3 .2-1 2.3-2 5.9-8 2.9-5 2.4-5 1.6-4.9 .9-4 .4-7-1.1-8-1.2-4-2-5-5.8-11 0-2.5-24.3 0 0 2.5-3.5 6-2.4 5-1.9 5-1 4-.8 6 .1 5 1 6 2 5.9 2.8 6 4.2 7 3.7 5 3.7 4 .1 1 2.1 2 .1 1zM223.2 68.6l.6 .6 1 0 1.7-1.6 0-1 2.1-2 .1-1 3.1-2.7 5-6.6 4.4-7.6 3.1-8 1.3-7-.1-7-1.2-6-3.4-9 0-2.5-33.4 0 0 2.5-3 8-1.4 7 0 7 1.1 6 2.9 8 4.5 7.9 6 8 2.3 2 .1 1 2.1 2 .1 1zM377 29.7l.5 .5 1 0 1.7-1.5 0-1 1.1-1 0-1 2.2-2 0-.7 2-1.8 2-2.5 5-8 .4-1 0-2.5-29.3 0 0 2.5 1.4 3 4.5 7.1 2.7 2.9 .4 1 2.1 2 .1 1 2.1 2zM68.6 23.7l0 .6 3.5 0 .6-.6 .1-1 2.1-2 .1-1 2.2-2 5-7 .4-1 0-2.5-14 0z"/>
<path fill="#a8db34" d="M68.6 346.8l96.9 0 0-2.5-.4-3-.8-3-1.2-3-2.4-4-3.2-4-3.6-3.5-4.9-4.1-5-3.6-14-8.4-19-9.8-31.9-15.7-4-1.7-1 0-2-1.7-3.5 .1zM240 343.3l.8 .5 3 .1 2-1.8 2-.4 5-2.9 11.7-8.5 5.7-5 4-4 3.3-4 2-3 2.9-6 .8-3 .5-2.9-.3-6-.7-3-1.5-4-2.9-5-4.6-6-7-7-12.9-10.6-19-13.7-8-5.3-1 .1-1-1-2 0-3 2.6-2 .6-5 3.1-15.9 10.7-8.6 6.5-6.6 6-4.3 5-3 5-1.2 3-.6 3 .1 5 1.5 5 2.9 5 5.2 5.9 6.6 5.7 8 5.6 9.9 6.2 26 14.8 3 1.4 2 .5zM385.9 333.3l.6 .5 2-.1 1.7-1.4 .1-1 1.1-1 .1-2 1-.2 .6-1.8 2.7-3 5.7-7.7 11.3-14.2 7-10 3.3-6 2.8-7 1.2-6 .2-6-1.1-7-2.2-6-3.8-7-5.1-7-8.3-9-11.7-11-10.6-9-3-1.8-3-2.6-1-.1-1 1-1-.1-3.6 2.7-13.3 10.4-8.6 7.5-6.7 7-4.4 6-3 6-1.5 6-.1 5 .8 5 1.4 4 2.3 5 3.2 5 7 9 17.5 19.3 8 9.6 5 7.1 4 7.4 1 .5 .2 2 1.2 1zM536.6 319.3l.6 .6 2-.1 .6-.5 0-2 1.1-1 0-3 1.1-1 .2-3 1-.1 .3-.9-.3-2 1-.4 1-1.4 3-6.1 3-5.5 13.6-22.5 4.7-9 3.3-8 1.7-6 .9-6 .2-5-.8-7-2-7-3.1-6.9-4.9-8-6.1-8-8.9-10-11.6-11.8-5-3.8-.4-.4 0-1-.6-.5-1 0-5.1 4.5-.6 1-2.2 1.2-10.7 9.8-6.8 7-4.9 6-3.3 5-2.9 6-1.9 6.9-.4 6 .3 4 1.1 5 2.1 6 2.9 6 6 10 13.5 19.9 5 7.9 5.9 11.4 3.3 7.7 1.1 2 .4 2 1.4 1 0 4 1.1 1zM68.6 276.4l0 .5 3.5 0 1-.9 1 0 6-3 8-5.1 8.4-6.5 5-5 3.8-5 2.4-5 1-5-.1-4-1.4-5-2.4-5-3.5-5-5.4-5.9-6.2-6-9.6-8.3-7-5.3-4.5 .1zM223.2 239.4l.6 .6 1-.1 4-3.5 2-.7 3.3-2.3 7.5-6 7-7 3.9-4.9 2.7-5 1.6-5 .5-5-.6-5-1.6-5-2.6-5-4.1-6-5.9-7-9.7-10-4-2.9-4-3.6-2 0-.6 .5-.1 1-1.3 1.3-7 5.3-6.3 6.4-5.4 6-3.9 5-3.1 5-1.8 4-1.2 4-.5 5 .6 5 1.3 4 1.9 4 4.1 6 4.5 4.9 5.2 5 6 5 5.6 3.9zM376.9 203.5l.6 .5 2 0 7-5.4 7.6-7.1 5.2-6 3.4-5 2.5-5 1.6-5 .6-5-.3-5-1.3-5-1.9-5-3.9-7-5-7-6.5-7.9-8.3-8 0-1-1.7-1.5-1 0-3.7 3.5-.1 1-4.7 4-3.8 4-4.9 5.9-4.3 6-2.9 5-2.2 5-1.1 4-.7 6 .3 4 1.4 6 2.2 5 3.1 5 4.6 6 7.4 8 3.4 3.1 3 1.7zM68.6 192.5l0 .5 3.5 0 2-1.7 4-2.6 3-2.6 7.2-7.6 4.5-6 2.7-5 2.1-6 .7-5-.3-5-1.2-5-2-5-2.1-4-4-5.9-5.4-7-4.2-4.6-3-2.5-.1-.9-3.9-3.6-3.5 0zM530.7 170.5l.5 .5 1 0 5.1-4.5 .7-1 3.2-2.5 5.9-6.5 3.7-5 3-5 2.2-5 1.6-6 .5-4.9-.2-5-1.2-6-1.7-5-2.3-5-4.1-7-4.1-6-4.9-6-2.3-2-.2-1-2.1-2 0-1-2.8-2.5-1 0-3.7 3.5-.1 1-2.1 2-.2 1-1.8 1.3-1.8 1.7-4.7 6-4.1 6-3.2 6-2 5-1.4 6-.4 5 .4 5 1 4.9 1.8 5 2.9 6 3.2 5 4.4 6 3.9 4.5 3 2.9 3.3 2.6 0 1zM223.3 153.5l.5 .5 1 0 3.8-3.5 .1-1 5.1-4 3.5-4 3.7-5 3.6-5.9 2.6-6 1.3-5 .4-5-.3-5-1.1-5-2.4-6-2.6-5-4.5-7-4.6-6-2.6-2.7-1-.5-.1-.8-2.1-2-.1-1-2.7-2.5-1 0-2.7 2.5-.1 1-3.2 3-5.1 6-4.4 6-3 5-2 4-2 5-1.1 5-.4 5 .4 5 .9 4 2.3 6 2.1 4 3.9 5.9 4 5 3.4 3.8 4.2 3.2 .1 1zM377 115.6l.5 .5 1 0 3.8-3.5 .1-1 3.1-2.9 2.8-3.1 5.8-8 2.8-5 2.1-5 1.3-5 .7-6-.2-5-1-5-1.6-5-3.3-7-2.9-4.9-4.9-7-2.6-3.1-2.1-1.9-.1-1-2.1-2 0-1-1.7-1.5-1 0-2.7 2.5 0 1-2.1 2-.2 1-2.2 2-3.9 5-3.3 5-2.9 4.9-2.2 5-1.7 5-.9 5-.3 4 .3 4 .9 5 1.7 5 2.8 6 2.4 4 4.2 6 3.1 3.4 2.1 1.6 0 1 2.1 2 .1 1zM68.6 108.6l0 .5 3.5 0 .6-.5 0-1 3.3-3 .1-.9 5-5.1 4.4-6 2.9-5 2.2-5 1.8-6 .6-5-.1-5-.6-4-1.7-6-2.2-5-4-6.9-3.3-4.9-1.9-2.1-2.1-3-2.1-2-.1-1-2.8-2.6-3.5 0zM530.7 79.6l.5 .5 1 0 1.6-1.5 .1-1 3.2-3 .1-1 2-1.7 2.7-3.3 4.1-6 2.8-5 1.8-4 1.4-3.9 .9-4 .6-7-.9-8-1.1-4-1.8-5-1.8-4-4.4-8 0-2.5-23.9 0 0 2.5-4 7-1.8 4-1.9 5-1.2 5-.6 6 .4 6 1.2 6 1.8 4.9 2.4 5 4.2 7 3.7 5 1.5 1.5 1 .5 0 1 1.1 1 0 1 2.2 2 0 1zM223.3 68.6l.5 .5 1 0 1.6-1.5 0-1 2.2-2 .1-1 3.1-3 5.2-7 4.5-7.9 2.5-7 1.3-7-.1-7-1.8-8-2.7-7 0-2.5-32.9 0 0 2.5-2.7 7-1.7 8 0 7 1.1 6 2.9 8 4.4 7.9 6 8 2.1 2 .1 1 2.1 2 .1 1zM377 29.7l.5 .5 1 0 1.6-1.5 .1-1 1-1 .1-1 2.1-2 .1-1 2-1.7 2-2.6 4.8-7.7 .4-1 0-2.5-28.9 0 0 2.5 1.4 3 4.3 6.8 3 3.2 .1 1 2.2 2 0 1 2.2 2zM68.6 23.7l0 .5 3.5 0 .6-.5 0-1 2.2-2 .1-1 2.1-2 4.9-7 .4-1 0-2.5-13.8 0z"/>
<path fill="#b5de2b" d="M68.6 346.8l95.9 0 0-2.5-1.2-6-1.3-3-2.4-4-3.2-4-3-3-5.4-4.6-5-3.6-12-7.4-21-11-29.9-14.9-5-2.2-1 0-2-1.7-3.5 0zM240.1 343.3l.7 .5 3 .1 2-1.8 1 0 1-.5 5-2.9 11.3-8.4 8.7-8 2.6-3 2.9-4 3.1-6 1.5-6 .2-2.9-.2-3-1.6-6-3-6-4.4-6-6.6-7-12.5-10.6-20-14.6-8-5.4-1 .1-1-.9-2-.1-3 2.6-2 .7-5 3.1-16.9 11.6-8.4 6.5-5.3 5-4.9 6-2.8 5-1.3 5 .2 5 .7 3 1.3 3 3.2 5 4.5 4.9 6.8 5.9 8 5.6 7.9 5.1 27 15.6 3 1.4 2 .4zM385.9 333.3l.6 .4 2 0 1.7-1.4 0-1 1.1-1 .1-2 1.1-.7 .2-1.3 .8-.4 2.2-2.6 5.8-7.9 9.5-12.1 7.8-10.9 3.4-6 2.9-7 1.5-7 .2-6-.9-6-1.2-4-1.7-4-4-7-5.2-7-8.4-9-10.5-10-10.4-8.9-3-1.8-3-2.7-1 0-1 .9-1 0-3.4 2.6-14.5 11.4-8.4 7.5-5.5 6-3.7 5-3.2 6-1.7 6-.3 6 .7 4 1.5 5 1.9 4 3 5 4.3 6 4.1 5 16.2 17.9 8 9.8 5.1 7.2 3.7 7 1.3 1 .2 2 1.1 1zM536.6 319.3l.6 .6 2-.1 .6-.5 0-2 1.1-1 0-3 1.1-1 .1-3 1.2-1-.1-2 1-.6 1.6-2.4 2.2-4.9 15.9-27 5.7-11 2.1-5 2.1-7 1-6 .3-6-.3-4-.7-4-2.2-7-3.2-6.9-5-8-6.1-8-8-9-11.4-11.7-5.4-4.3 0-1-.6-.5-1 0-5 4.5-.4 1-2.5 1.4-11.5 10.6-5.7 6-5.6 7-3.6 6-2.2 5-1.4 5.9-.4 6 .5 5 1.2 5 1.4 4 2.7 6 5.8 10 12.8 18.9 6 9.6 5.9 11.4 3.4 8 1.2 2 .4 2 1.2 1 0 4 1.2 1zM68.6 276.4l0 .5 3.5 0 1-.9 1 0 6-3.2 9-5.8 7-5.6 5.1-5 3.7-5 2.3-5 1.1-5-.2-4-1.3-5-2.4-5-3.5-5-4.3-4.9-6.1-6-10.2-9-2.9-2-4.3-3.6-4.5 .1zM223.3 239.4l.5 .5 1 0 4-3.6 2-.7 4.4-3.2 7.3-6 5.9-6 3.8-4.9 3.1-6 1.2-4 .5-5-.6-5-2.1-6-2.1-4-4-6-5.9-7-9.6-10-3.9-2.8-4-3.6-2-.1-.6 .5 0 1-.4 .4-8 6.3-5.2 5.3-5.5 6-3.9 5-3.8 6-1.7 4-1.4 5-.3 4 .3 4 1.1 4 2.9 6 2.7 4 4.2 4.9 6.2 6 5.9 5 5.5 3.8zM377 203.5l.5 .4 2 .1 7-5.5 7.4-7 5.2-6 4-6 1.9-4 1.2-4 .9-6-.4-5-1.5-6-2.1-5-2.8-5-3.3-5-6.2-7.9-3.3-3.8-2.7-2.2-.3-1-4.4-4 0-1-1.6-1.5-1 0-3.7 3.5 0 1-4.6 4-3.8 4-4.1 4.9-5 7-3.4 6-1.7 4-1.3 5-.5 5 .4 5 1.3 5 2.8 6 3.1 5 4.7 6 6.6 7 3.2 2.9 3 1.9zM68.6 192.5l0 .5 3.5 0 3-2.5 2-1.1 5.5-4.9 6.3-7 3.6-5 3.2-6 1.6-5 .6-5-.2-5-.9-4-1.4-4-3-6-3.9-5.9-5.4-7-4-4.4-3.1-2.6-.1-1-3.8-3.5-3.5 0zM530.7 170.5l.5 .5 1 0 5-4.5 .4-1 1.6-.9 2-1.8 5.7-6.3 3.7-5 2.9-5 2.2-5 1.4-5 .7-5.9-.2-5-1-5-1.9-6-2.8-6-4.2-7-3.4-5-4.9-6-2.2-2-.1-1-2.1-2-.1-1-2.7-2.5-1 .1-3.7 3.4-.1 1-2 2-.1 1-3 2.4-3 3.6-6.3 9-3.2 6-1.9 5-1.3 5-.5 6 .4 6 1.2 4.9 1.9 5 3 6 3.3 5 3.7 5 3.7 4.3 6.3 5.7 .1 1zM223.3 153.5l.5 .5 1 0 3.8-3.5 0-1 5.2-4.2 3.3-3.8 4.4-6 2.9-4.9 2.1-5 1.7-6 .4-5-.3-5-1.1-5-1.9-5-3-6-6.7-10-2.8-3.4-3-2.6-.1-1-2.2-2 0-1-2.7-2.4-1-.1-2.7 2.5 0 1-3.2 3-.1 .7-3 2.9-2 2.5-4.3 5.9-3 5-2.4 5-1.8 5-1 5-.2 4 .3 4 1 5 1.8 5 3.1 6 4 5.9 3.2 4 3.3 3.6 4.3 3.4 0 1zM377 115.6l.5 .4 1 0 3.8-3.4 .1-1 2-2 .1-.7 1-.5 2.6-2.8 5.8-8 3.2-6 2-5 1.2-5 .4-6-.4-5-1.1-5-2.1-6-2.4-5-2.9-4.9-4.9-7-2-2-.4-1-2.2-2 0-1-2.1-2-.1-1-1.6-1.5-1 0-2.6 2.5-.1 1-2.1 2-.1 1-2.1 2-3.8 5-5.7 8.9-1.9 4-2.2 6-1.1 5-.4 5 .4 5 1.1 5 2.2 6 1.9 4 3.1 5 3.4 4.9 5.1 5.1 .1 1 2.1 2 .1 1zM68.6 108.6l0 .5 3.5 0 .6-.5 0-1 3.2-3 .1-1 5.1-5.3 4.2-5.7 3.4-6 2-5 1.6-6 .5-4-.1-5-.9-5-1.1-4-2-5-3.2-5.9-4.4-6.6-2.4-2.4-1.6-2.4-.1-.6-2.1-2-.1-1-2.7-2.6-3.5 0zM530.7 79.6l.5 .5 1 0 1.6-1.5 0-1 3.3-3 .1-1 4.5-5 4.1-6 4.1-8 1.8-4.9 1-4 .4-4 .1-5-.5-4-.8-4-1.3-4-2-5-5.3-10 0-2.5-23.5 0 0 2.5-3.9 7-2.3 5-1.7 5-1.1 5-.4 5 .3 6 1 5 2.1 5.9 2.9 6 3.6 6 3.8 5 2.2 2 .1 1 1 1 .1 1 2.1 2 .1 1zM223.3 68.6l.5 .5 1 0 1.6-1.5 0-1 2.1-2 .1-1 2.1-2 .1-.5 2.4-2.5 3.6-5 4.4-7.9 2.3-6 1.4-7 .1-7-.5-4-1-4-3-8 0-2.5-32.5 0 0 2.5-2.9 8-1.1 5-.4 7 .7 6 2 7 2.3 5 4.1 6.9 4.8 6 .4 1 2.1 2 .1 1 2.1 2 0 1zM377 29.7l.5 .5 1-.1 1.6-1.4 .1-1 1-1 .1-1 2.1-2 0-1 2.1-2 2-2.6 4.6-7.4 .4-1 0-2.5-28.5 0 0 2.5 1.4 3 3.8 6 3.4 4 .1 1 2.1 2 .1 1 2.1 2zM68.6 23.7l0 .5 3.5 0 .6-.5 0-1 2.1-2 .1-1 2.1-2 .3-1 4.5-6 .4-1 0-2.5-13.6 0z"/>
<path fill="#c2df23" d="M68.6 346.8l94.9 0 0-2.5-.5-4-1.1-3.2-1.9-3.8-2.1-3-2.5-3-4-4-8.4-6.5-13-8.2-20-10.6-29.9-15.1-5-2.3-1 0-2-1.7-3.5 0zM240.1 343.3l.7 .5 3 0 2-1.8 1 0 1.4-.7 4.6-2.7 12.3-9.3 4.4-4 3.8-4 5.1-7 2.8-6 1.3-5.9 0-3-.4-3-1.8-6-3.2-6-4.6-6-6.8-7-5.7-5-8.2-6.6-17-12.5-8-5.4-1 0-1-.9-2-.1-3 2.7-2 .8-5 3-16.9 11.7-7 5.5-6.3 5.8-4.2 5-1.9 3-1.4 3-1.3 5 .2 5 1.5 5 3 5 5.3 5.9 6.1 5.3 7 5.2 10.9 7 26 15.1 3 1.3 1 .1zM385.9 333.3l.6 .4 2 0 1.6-1.4 .1-1 1.1-1 .1-2 1.1-1 0-1 1-.7 2-2.3 15.3-20 5.1-6.9 3.2-5 3.6-7 2.2-6 1.2-6 .2-6-1.2-7-2.1-6-3.8-7-5-7-8.1-9-10.4-10-11.2-9.8-3-1.9-3-2.7-1 0-1 1-1-.1-17.9 14.2-8 7.3-5.6 6-4.2 6-2.9 6-1.5 6-.1 5 .9 5 1.8 5 1.9 4 3.1 5 6.9 9 17.6 19.8 6 7.3 6.3 8.8 3.4 6 .3 1 1.1 1 .2 2 1.1 1zM536.7 319.3l.5 .5 2 0 .5-.5 .1-2 1-1 0-3 1.1-1 .2-3 1.1-1-.1-2 1.1-.7 1.5-2.3 2.2-4.9 15.7-27 5.2-10 2.9-7 1.7-6 1-6 .3-6-.9-7-1.9-7-3.1-6.9-4.1-7-5.8-8-9.6-11-11.1-11.5-5.4-4.5-.1-1-.5-.5-1 .1-4.9 4.4-.2 1-1.8 .8-1 .7-11.3 10.5-6.5 7-4.7 6-4.1 7-1.9 5-1.2 4.9-.3 6 .5 5 1.3 5 1.8 5 2.8 6 5.2 9 13.4 20.1 5 8.1 4.9 9.3 4.5 10.4 1 1 .6 3 1.2 1 0 4 1.1 1zM68.6 276.4l0 .4 3.5 .1 1-1 1 0 6-3.2 9-5.8 6.8-5.5 4.9-5 3.7-5 2.4-5 1-5-.3-5-1.1-4-1.9-4-4-6-5.2-5.9-5.1-5-10.2-9-2.9-2-4.1-3.6-4.5 .2zM223.3 239.4l.5 .5 1 0 4-3.6 2-.8 4.3-3.1 7.2-6 5.8-6 3.1-3.9 3.4-6 1.6-5 .4-5-.5-5-1.6-5-3.2-6-4.2-6-6.8-8-7.8-8-2.7-2-5-4.4-2 0-.5 .4-.1 1-.4 .4-8 6.5-5.9 6.1-4.5 5-4 5-3.1 5-2 4-1.7 6-.3 4 .4 4 1.4 5 2.5 5 2.7 4 4.2 4.9 5 5 5.8 5 6.5 4.8zM377 203.5l.5 .4 2 0 5-4 6.3-5.4 7.3-8 2.9-4 3.3-6 1.7-5 .8-6-.4-5-1.2-5-1.9-5-3.2-6-4-6-5.5-6.9-3.1-3.6-3-2.4-.1-1-4.3-4 0-1-1.6-1.5-1 0-3.7 3.5 0 1-4.4 4-3.7 4-4.2 4.9-4.4 6-2.9 5-2.3 5-1.7 6-.5 5 .3 4 1.1 5 2 5 2.8 5 5.2 7 6.3 7 4.1 3.8 2 1.1zM68.6 192.5l0 .5 3.5 0 3-2.6 3-1.9 3.3-3 7.3-8 4.2-6 2.5-5 1.4-4 .9-6-.2-4-1-5-1.8-5-3.1-6-4-5.9-4.8-6-3.6-4-3.2-3-.1-1-3.8-3.5-3.5 0zM530.8 170.5l.4 .5 1 0 4.9-4.5 .1-1 2-1.1 2-1.7 5.6-6.2 2.9-4 3.1-5 2.7-6 1.4-5 .6-5.9-.4-6-1-5-2.1-6-2.4-5-4.1-7-3.5-5-4.8-6-2.1-2-.1-1-2.1-2 0-1-2.7-2.4-1 0-3.6 3.4-.1 1-2.1 2 0 1-3.1 2.7-2.8 3.3-3.7 5-3.2 5-3 6-1.8 5-1.1 5-.3 5 .3 5 1 4.9 2.1 6 1.9 4 3 5 5 7 3.6 4.2 6.4 5.8 0 1zM223.3 153.5l.5 .5 1 0 3.7-3.5 .1-1 5.2-4.4 3.1-3.6 4.4-6 2.8-4.9 2.2-5 1.4-5 .6-6-.3-5-1.4-6-2.4-6-2.1-4-3.1-5-3.6-5-2.6-3.1-3.1-2.9-.1-1-2.1-2-.1-1-2.6-2.4-1 0-2.6 2.4-.1 1-3.1 3-.2 1-3 2.9-2 2.5-3.4 4.6-3.1 5-2.1 4-2 5-1.3 5-.5 6 .3 4 1.3 6 2.4 6 2.1 4 6.4 8.9 3.9 4.4 4.3 3.6 .1 1zM377 115.6l.5 .4 1 0 3.7-3.4 .1-1 2.1-2 .1-1 3.3-3 5.9-8 3.2-6 1.9-5 1.2-5 .4-5-.2-5-1.2-6-2.1-6-1.9-4-3.5-5.9-3-4.5-2-2.8-2-1.7-.1-1-2.1-2-.1-1-2.1-2 0-1-1.6-1.5-1 0-2.6 2.5 0 1-2.1 2-.1 1-2.1 2-1.8 3-2.3 2.4-5.3 8.5-2.3 5-1.8 5-1.1 5-.3 5 .3 5 1.1 5 1.8 5 2.3 5 5.9 9 1.4 1.7 1.8 1.3 .3 1 2.1 2 0 1 2.1 2 .1 1zM68.6 108.6l0 .5 3.5 0 .5-.5 .1-1 3.2-3 .1-1 2-2 .2-1 2.9-2.6 4-5.5 3.3-5.9 2.1-5 1.4-5 .6-5-.1-5-.8-5-1.1-4-2.1-5-3.2-5.9-4.1-6.3-1-1.2-1.9-1.5-.2-1-.9-1-.1-1-2.1-2-.1-1-2.7-2.5-3.5 0zM530.8 79.6l.4 .4 1 .1 1.6-1.5 0-1 3.2-3 .1-1 2.1-2 .3-1 2-2 4.7-7 2.2-4 2.1-5 1.3-3.9 .8-4 .4-4-.1-4-1.3-8-1.2-4-2-5-5.2-9.8-.1-2.7-23.1 0 0 2.5-3.9 7-2.3 5-2 6-.7 4-.5 5 .2 5 .9 5 2.3 6.9 1.8 4 3.4 6 3.1 4.6 4.1 4.4 0 1 1.1 1 0 1 2.1 2 .1 1zM223.3 68.6l.5 .5 1 0 1.5-1.5 .1-1 2.1-2 .1-1 2.1-2 .1-1 2-1.8 3.8-5.2 3.5-5.9 3.2-8 1.4-7 .2-4-.3-4-1.3-7-3-8 0-2.5-32.1 0 0 2.5-2.9 8-1.1 5-.4 7 .5 5 1.9 7 2.6 6 3.5 5.9 2.5 3.7 1.6 1.3 .5 1 .9 1 .2 1 2 2 .1 1 2.1 2 .1 1zM377.1 29.7l.4 .4 1 0 1.6-1.4 0-1 1.1-1 0-1 2.1-2 .1-1 2.1-2 .4-1 1.6-2 4.4-7 .4-1 0-2.5-28.1 0 0 2.5 1.4 2.9 3.9 6.3 2 1.9 .1 .9 1.1 1 0 1 2.2 2 0 1 2.1 2zM68.6 23.7l0 .5 3.5 0 .5-.5 .1-1 2.1-2 .1-1 2.1-2 .1-1 4.5-6 .4-1 0-2.5-13.4 0z"/>
<path fill="#d2e21b" d="M68.6 346.8l94 0 0-3.5-.5-3-.9-3-2.1-4-2-3-2.5-3-4.1-4-9.5-7.4-15-9.2-19-10-26.9-13.7-5-2.3-1 0-2-1.8-3.5 .1zM240.2 343.3l.6 .4 3 .1 2-1.8 1 0 6-3.6 10.8-8.1 4.5-4 3.9-4 5.4-7 3-6 .9-3 .6-3.9-.3-6-1.4-5-1.9-4-1.8-3-4.5-6-6.7-7-12.5-10.6-17-12.6-9-6.3-1 .1-1-1-2 0-4 3.3-1 .2-5 3-14.9 10.3-8.4 6.6-6.5 6-4.8 6-2.6 5-1.3 5 .2 5 1.6 5 3 5 5.3 5.9 6.5 5.7 8 5.7 10.9 7.1 24 14 3 1.3 1 .1zM386 333.3l.5 .4 2 0 1.6-1.4 0-1 1.1-1 .1-2 1.1-1 0-1 3.1-3.1 16.6-21.8 6.7-10 3.1-6 2.3-6 1.5-7 .2-6-1.2-7-2.6-7-3.3-6-5-7-8-9-9.2-9-12.1-10.6-3-2-3-2.7-1-.1-1 1-1 0-18.1 14.4-7.6 7-5.4 6-4.3 6-2.8 6-1.3 5-.2 6 .6 4 1.6 5 1.9 4 2.9 5 4.3 6 4.1 5 16.3 18.5 6.1 7.4 6.3 9 2.1 4 .9 1 .7 2 1.1 1 .2 2 1.1 1zM536.7 319.3l.5 .5 2-.1 .5-.4 0-2 1.1-1 0-3 1.1-1 .1-3 1.1-1-.1-2 1.2-.9 1.3-2.1 2.2-4.9 15.1-26 5.8-11 2-5 2.2-7 1.1-6 .3-7-.8-7-1.9-7-3.1-6.9-4.7-8-5.9-8-7.7-9-11.9-12.4-5.5-4.6 0-1-.5-.4-1 0-4.8 4.4-.1 1-1 .7-1 .2-1 .8-11.1 10.3-6.5 7-3.9 5-3.7 6-2.6 6-1.5 5.9-.3 6 .4 4 1.4 6 1.3 4 2.8 6 5 9 13.7 20.8 5 8.1 4.9 9.4 4.6 10.6 .4 .7 .9 .3 .2 3 1.2 1 0 4 1.1 1zM68.6 276.4l0 .4 3.5 0 1-.9 1 0 7-3.8 9-6.1 5.5-4.6 5-5 3.6-5 2.3-5 1-5-.3-5-1.5-5-2-4-3.4-5-5.2-5.9-5-5-10-9-3.2-2-.8-1-1-.4-.1-.6-1.9-1.5-4.5 .1zM223.3 239.4l.5 .5 1-.1 4-3.6 2-.9 5.4-3.9 5.9-5 5.8-6 4.4-5.9 2-4 1.6-5 .5-5-.9-6-1.3-4-3.1-6-4.2-6-7.7-9-6.8-7-2.6-1.9-5-4.5-2 0-.5 .4-.1 1-.4 .4-8 6.6-6.7 7-7.4 9-3.2 5-2.3 5-1.1 4-.5 5 .6 5 1.2 4 1.9 4 4 6 4.3 4.9 5.2 5zM377 203.5l.5 .4 2 0 .6-.4 9.5-8 8.3-9 4.1-6 2-4 1.9-6 .6-5-.4-5-1.1-5-2-5-3.2-6-4.7-7-4.7-5.9-2.9-3.3-3.1-2.7-.1-1-4.2-4-.1-1-1.5-1.4-1 0-3.6 3.4-.1 1-4.2 4-6.3 7-3.9 4.9-3.3 5-2.2 4-2.1 5-1.5 6-.3 4 .2 4 1.2 5 2 5 2.7 5 5.2 7 6.3 7 3.9 3.6 2 1.3zM68.6 192.5l0 .4 3.5 0 9.2-7.4 7.2-8 4.2-6 2-4 1.8-5 .9-6-.2-4-.9-5-1.8-5-3.1-6-4-5.9-4.8-6-6.7-7-.1-1-3.7-3.5-3.5 0zM530.8 170.5l.4 .4 1 0 4.9-4.4 .1-1 3-2.1 3-2.9 6.3-8 3.1-5 2.3-5 1.7-6 .6-5.9-.2-5-1.2-6-2.1-6-2.3-5-4.1-7-3.5-5-2.6-3.3-1.8-1.7-.3-1-2-2-.1-1-2.1-2-.1-1-2.6-2.4-1 0-3.6 3.4-.1 1-2 2-.1 1-3.1 2.9-2.6 3.1-3.7 5-3.2 5-2.9 6-1.8 5-1.1 5-.3 5 .3 5 1 4.9 1.6 5 2.4 5 2.9 5 5 7 3.4 4 2.6 2 .4 1 3.4 3 0 1zM223.4 153.5l.4 .4 1 0 3.7-3.4 0-1 5.3-4.6 2.9-3.4 4.4-6 3.3-5.9 2-5 1.2-5 .5-5-.5-6-1.3-5-1.9-5-2-4-3.7-6-3.5-5-2.4-3-3.2-3 0-1-2.2-2 0-1-2.6-2.4-1 0-2.6 2.4 0 1-3.2 3-.1 1-2 2-4.1 5-5.3 8-2.1 4-2.3 6-1.1 5-.4 5 .4 5 1.2 5 2 5 2 4 2.4 3.9 4.4 6 3.6 4 4.6 4 0 1zM377.1 115.6l.4 .4 1 0 3.7-3.4 .1-1 2-2 .1-1 3.2-3 5.9-8 3.2-6 2.2-6 1-5 .3-4-.2-5-1-5-2-6-2.2-5-3.5-5.9-4.8-7-2.1-2 0-1-2.2-2 0-1-2.1-2 0-1-1.6-1.4-1 0-2.5 2.4-.1 1-2.1 2-.1 1-2 2-.2 .9-.9 1.1-.3 1-1.8 1.4-1 1.4-5.1 8.1-2.3 5-2 6-1 5-.2 4 .2 4 1 5 2 6 2.4 5 5.8 9 3.3 3 0 1 2.1 2 .1 1 2.1 2 0 1zM68.6 108.6l0 .4 3.5 0 .5-.4 0-1 3.2-3 .1-1 2.1-2 0-1 2.1-1.7 2-2.4 4-5.9 2.1-4 2.4-6 1.1-4 .6-6-.2-4-.7-5-1.9-6-2.2-4.9-3.5-6-2.7-3.9-1-1.4-2.1-1.7 0-1-1-1-.1-1-2.1-2 0-1-2.7-2.5-3.5 0zM530.8 79.6l.4 .4 1 0 1.5-1.4 .1-1 3.1-3 .1-1 2.1-2 .1-1 2.1-2 4.7-7 2.2-4.1 2.1-4.9 1.3-3.9 .7-4 .5-7-1.1-8-1.2-4-1.9-5-2.4-5-3-5.3-.3-.7 0-2.5-22.7 0 0 2.5-3.9 7-2.3 5-2.4 8-.7 6 .1 5 .9 6 1.9 5.9 2.2 5 3.3 5.8 2.7 4.2 2.3 2.3 0 .7 2.1 2 .1 1 1 1 .1 1 2.1 2 0 1zM223.4 68.6l.4 .4 1 0 1.5-1.4 0-1 2.2-2 0-1 2.1-2 .1-1 2.1-2 3.6-5 4.4-7.9 2.5-7 .9-4 .3-3-.2-8-1.2-6-3-8 0-2.5-31.7 0 0 2.5-2.9 8-1.2 6-.3 6 .5 5 1.9 7 2.4 5.6 3.7 6.3 2.3 3.4 2 1.6 .1 1 1 1 .1 1 2.1 2 .1 1 2.1 2 0 1zM377.1 29.7l.4 .4 1 0 1.5-1.4 .1-1 1-1 .1-1 2.1-2 0-1 2.1-2 .1-1 4.5-6 1.7-3 .4-1 0-2.5-27.7 0 0 2.5 1.2 2.5 4 6.5 2 2 .1 1 1 1 .1 1 2.1 2 0 1 2.2 2zM68.6 23.7l0 .4 3.5 0 .5-.4 0-1 2.2-2 0-1 2.1-2 .1-1 1-1 .1-1 3.3-4 .4-1 0-2.5-13.2 0z"/>
<path fill="#dfe318" d="M68.6 346.8l93.2 0 0-3.5-.5-3-.9-3-1.5-3-2.6-4-3.5-4-3.1-3-9.7-7.5-13-8.1-20-10.8-26.9-13.8-5-2.4-1 0-2-1.7-3.5 0zM240.2 343.3l.6 .4 3 .1 2-1.9 1 0 6-3.6 5.5-4 6.2-5 4.3-4 3.8-4 4.4-6 2.1-4 1.2-3 1.2-5.9-.4-6-1.8-6-3.3-6-4.5-6-6.7-7-12-10.4-17-12.7-9-6.4-1 .1-1-1-2 0-4 3.5-1 0-5 3.1-15.9 11.2-8.3 6.6-5.2 5-4.1 5-1.9 3-1.4 3-1.2 5 .2 5 1.7 5 3 5 4.3 4.9 6.9 6.2 7 5.2 10.9 7.2 24.4 14.4 3.6 1.7 1 .1zM386 333.3l.5 .4 2-.1 1.6-1.3 0-1 1.1-1 .1-2 1.1-1 0-1 1.1-1 .5-1 1.5-1.3 15.6-20.6 6.8-10 3.2-6 2.8-7 1.3-6 .2-7-1.1-7-2.1-6-4.4-8-5.1-7-8.1-9-10.4-10-5.7-5.1-7-5.5-3-2.7-1 0-1 .9-1 0-14.4 11.5-9 7.9-6.6 7-4.4 6-3.1 6-1.6 6-.3 5 .7 5 1.2 4 2.3 5 2.9 5 6.7 9 17.6 20.3 7 8.7 5.6 7.9 2.4 4.6 .7 .4 .4 2 1.2 1 .1 2 1.1 1zM536.7 319.3l.5 .5 2-.1 .5-.4 0-2 1.1-1 0-3 1-1 .1-3 1.2-1-.1-2 1.2-1 .3-1 .9-1 2.2-4.9 16.2-28 4.9-10 2-5 2.1-7 .9-6 .2-6-1-8-2.1-7-3.2-6.9-4.9-8-5.1-7-7.7-9-11.7-12.2-5.5-4.8 0-1-.5-.4-1 0-4.8 4.4-.1 1.1-1 .8-1 .1-1 .8-10.9 10.2-5.6 6-4.7 6-4.3 7-2 5-1.3 5-.5 6.9 .6 5 1.2 5 1.8 5 2.3 5 5.7 10 16.7 25.9 5.9 11.1 4.8 10.9 1.3 1 .1 3 1.2 1 0 4 1.1 1zM68.6 276.4l0 .4 3.5 0 1-.9 1 0 2-1.4 5-2.6 9-6.1 5.3-4.4 4.9-5 3.6-5 2.3-5 1-5-.3-5-1.5-5-2.6-5-3.5-5-4.4-4.9-6.1-6-8.7-7.8-5-3.3-.2-.9-1.8-1.5-4.5 .1zM223.4 239.4l.4 .4 1 0 4-3.6 4-2.4 3.2-2.4 5.9-5 5.8-6 3.7-4.9 2.6-5 1.6-5 .5-5-.6-5-1.2-4-2.9-6-3.9-6-8.5-10-6.8-7-7.4-6.3-2-.1-.5 .4 0 1-.5 .5-8 6.7-6.5 6.8-5.2 6-2.9 4-3 5-1.7 4-1.1 4-.5 5 .3 4 1.5 5 2.4 5 3.4 5 4.3 4.9 5 5zM377.1 203.5l.4 .4 2 0 .5-.4 9.4-8 8.3-9 3.5-5 2.6-5 1.9-6 .5-5-.3-5-1.2-5-1.9-5-3.8-7-6.5-9.2-5-5.8-1-.6 0-.3-2.1-2-.1-1-4.3-4 0-1-1.5-1.4-1 0-3.6 3.4 0 1-4.2 4-.4 1-2.8 2.5-3 3.5-6.6 8.9-2.8 5-2.1 5-1.3 5-.5 5 .6 6 1.1 4 2.2 5 2.9 5 5.2 7 5.5 6 3.8 3.5 3 2.1zM68.6 192.5l0 .4 3.5 0 9-7.4 6.5-7 4.3-6 2.6-5 2-6 .6-5-.2-5-1.2-5-1.9-5-2.1-4-3.1-4.9-3.7-5-2.8-3.4-2.8-2.6-.3-1-3.1-3-.1-1-3.7-3.4-3.5 0zM530.8 170.5l.4 .4 1 0 4.8-4.4 .2-1.1 3-2.2 2-1.8 4.2-4.9 4.3-6 3.1-6 1.9-5 1-4.9 .3-4-.3-5-.9-5-1.9-6-2.2-5-3.4-6-4.7-7-2.4-3-2-2-.1-1-2.1-2-.1-1-2.1-2 0-1-2.6-2.4-1 .1-3.6 3.3 0 1-2.1 2 0 1-3.2 3-.5 1-3.5 4.1-5.2 7.9-3 6-1.5 4-1 4-.7 7 .5 6 1.1 4.9 1.4 4 2.8 6 3 5 4.3 6 3.3 3.8 3 2.2 .1 1 3.3 3 .1 1zM223.4 153.5l.4 .4 1 0 3.6-3.4 .1-1 5.3-4.8 2.8-3.2 4.3-6 3.3-5.9 2-5 1.2-5 .4-5-.4-6-1-4-1.4-4-2.8-6-3.7-6-3.6-5-1.9-2-.3-1-3.1-3-.1-1-2.1-2 0-1-2.6-2.3-1-.1-2.5 2.4-.1 1-3.1 3-.1 1-2.1 2-.1 .7-4 4.6-3.9 5.7-2.3 4-3.2 8-1.2 5-.3 5 .4 5 1.2 5 1.9 5 2 4 3.1 4.9 3.7 5 3.6 4 4.4 4 .1 1zM377.1 115.6l.4 .4 1-.1 3.6-3.3 .1-1 2.1-2 .1-1 3.1-3 6-8.4 3-5.7 2.2-5.9 1-5 .3-4-.1-4-1.1-6-2-6-2.3-5-3.4-5.9-4.4-6-.3-1-2-2-.1-1-2.1-2-.1-1-2.1-2 0-1-1.5-1.4-1 0-2.5 2.4-.1 1-2 2-.1 1-2.1 2-.1 1-1 1 0 1-2.2 2-3.5 5-2.3 4.1-2.3 4.8-2 6-.9 5-.3 4 .3 4 .9 5 2 6 2.3 4.8 5.9 9.2 3.1 3 .1 1 2.1 2 0 1 2.1 2 .1 1zM68.6 108.6l0 .4 3.5 0 .5-.4 0-1 3.2-3 .1-1 2-2 .1-1 4.1-4.4 3.2-4.6 2.7-5 2.4-6 1.1-4 .5-5 0-4-.6-5-1-4-2.4-6-4.4-7.9-3.5-5-2.1-2-.1-1-1-1-.1-1-2-2-.1-1-2.6-2.5-3.5 0zM530.8 79.6l.4 .4 1 0 1.5-1.4 0-1 3.2-3 .1-1 2-2 .2-1 2-2 .4-1 4.2-6 3.5-7 2-5.9 .6-3 .6-4 .1-4-1.2-8-1.1-4-1.9-5-2.2-4.6-3.1-5.4-.4-1 0-2.5-22.2 0 0 2.5-4 7-2.3 5-2.4 8-.7 6 .1 5 .7 5 2.1 6.9 2.2 5 3.1 5.4 2.9 4.6 2.1 2 .1 1 2.1 2 .1 1 1 1 0 1 2.1 2 .1 1zM223.4 68.6l.4 .4 1 0 1.5-1.4 0-1 2.1-2 .1-1 2.1-2 .1-1 2-2 .1-.8 1.4-2.2 1.9-2 4-6.9 1.8-4 1.2-4 .9-4 .3-3-.2-8-1.3-6-2.9-8 0-2.5-31.3 0 0 2.5-2.9 8-1.2 6-.2 6 .4 5 1.9 7 2.2 5.2 3.9 6.7 2.1 3.1 2.1 1.9 .1 1 1 1 .1 1 2 2 .1 1 2.1 2 0 1zM377.1 29.7l.4 .4 1 0 1.5-1.4 0-1 1.1-1 0-1 2.1-2 .1-1 2-2 .1-1 1-1 .1-.8 1-1.1 .3-1.1 1.7-1.6 2-3.5 .4-.9 0-2.5-27.3 0 0 2.5 1 2.1 3.7 5.9 .3 1 2.1 2 .1 1 1 1 .1 1 2 2 .1 1 2.1 2zM68.6 23.7l0 .4 3.5 0 .5-.4 0-1 2.1-2 .1-1 2-2 .1-1 1-1 .1-1 1-1 .2-1 2-2 .4-1 0-2.5-13 0z"/>
<path fill="#ece51b" d="M68.6 346.8l92.5 0 0-3.5-.5-3-1-3-1.4-3-2.6-4-3.5-4-3.1-3-4-3.4-6-4.4-14-8.7-20-10.7-29.9-15.3-1 0-2-1.8-3.5 0zM240.3 343.3l.5 .4 3 0 2-1.8 1 0 5.8-3.6 5.5-4 6.2-5 8-8 4.9-7 2.7-6 1.1-5.9-.4-6-1.4-5-3-6-5.1-7-6.6-7-10.7-9.3-18-13.7-9-6.4-1 0-1-.9-2-.1-4 3.5-1 .1-5 3.2-15.9 11.2-6.8 5.4-6.3 6-4.1 5-3.3 6-1.2 5 .3 5 1.6 5 3.1 5 5.3 5.9 6.4 5.6 8 5.9 8.9 5.9 24.6 14.6 3.4 1.7 1 .1zM386.1 333.3l.4 .3 2 0 1.5-1.3 0-1 1.1-1 .1-2 1.1-1 0-1 1.1-1 .2-1 1.9-1.4 14.6-19.6 5-6.9 3.1-5 3.5-7 2.1-6 1.2-6 .1-6-1.2-7-2.1-6-3.7-7-5-7-7.8-9-10.2-10-6.5-5.9-7.1-5.6-3-2.8-1 0-1 1-1-.1-16.5 13.4-7.7 7-6.4 7-3.5 5-3.1 6-1.4 5-.4 6 .5 4 1.1 4 2 5 2.8 5 4.2 6 3.9 5 16.5 19 7 8.8 5.7 8.1 2.3 4.4 1 .6 .2 2 1.1 1 .2 2 1 1zM536.8 319.3l.4 .4 2 0 .4-.4 .1-2 1-1 0-3 1.1-1 .1-3 1.1-1-.1-2 1.2-1 .2-1 1-1 2.1-4.9 15-26 5.2-10 3.2-8 1.7-6 .9-6 .2-6-.8-7-2-7-3-6.9-4-7-6.5-9-7.6-9-11.5-12.1-5.5-4.9-.1-1-.4-.4-1 0-4.7 4.4-.2 1.2-1 .8-1 .2-2 1.6-10.7 10.2-5.4 6-4.6 6-3.5 6-2.4 6-1 4.9-.3 6 .4 4 1.1 5 2 6 2.8 6 5.2 9 16.4 25.6 6.1 11.4 4.7 10.9 1.3 1 .1 3 1.1 1 0 4 1.1 1zM68.6 276.4l0 .4 3.5 0 1-1 1 0 3-2 4-2 5-3.2 5-3.7 4-3.5 4.9-5 3.6-5 2.3-5 1-5-.3-5-1-4-2.4-5-3.4-5-4.2-4.9-5.9-6-9.6-8.7-5-3.3-.3-1-1.7-1.5-4.5 .1zM223.4 239.4l.4 .4 1 0 4-3.7 7-4.7 5.9-5 5.8-6 3.7-4.9 3-6 1.2-4 .4-5-.5-5-2-6-2.1-4-3.9-6-8.4-10-6.8-7-7.3-6.3-2 0-.4 .3-.1 1-.5 .5-8 6.8-6.4 6.7-5.1 6-2.9 4-2.9 5-2.1 5-1 4-.3 4 .6 5 1.6 5 2 4 3.4 5 3.4 3.9 4.9 5zM377.1 203.5l.4 .3 2 0 8-6.7 6.6-6.6 4.2-5 2.7-4 3-6 1.3-4 .7-6-.3-5-1.5-6-2.1-5-3.3-6-6.3-8.9-5-5.6-1-.4-.1-1-2.1-2-.1-1-4.2-4 0-1-1.5-1.4-1 0-3.5 3.4-.1 1-4.2 4-.1 1-3.1 2.7-2.9 3.4-6.5 8.8-2.8 5-2.1 5-1.3 5-.4 5 .4 5 1.2 5 2.2 5 2.9 5 5.2 7 5.5 6zM68.6 192.5l0 .4 3.5 0 9-7.5 6.3-6.9 4.3-6 2.6-5 2-6 .6-4-.1-5-1-5-1.3-4-3-6-3.1-4.9-3.8-5-2.5-3.2-3.1-2.8-.1-1-3.1-3-.1-1-3.6-3.4-3.5 0zM530.9 170.5l.3 .4 1 0 4.7-4.4 .1-1 3.2-2.4 3-3 3.1-3.6 3.6-5 2.8-5 2.1-5 1.5-6 .5-4.9-.2-4-1-6-1.9-6-2.2-5-4.6-8-3.5-5-1.9-2-.3-1-2.1-2-.1-1-2.1-2 0-1-2.1-2-.1-1-2.5-2.3-1 0-3.5 3.3-.1 1-2 2-.1 1-3.1 3-.2 1-1.9 1.9-2.5 3.1-4.5 7-2.5 5-2 5-1.1 5-.5 6 .4 6 1.1 4.9 2.2 6 2 4 3 5 4.3 6 3.1 3.7 3 2.3 .1 1 3.4 3 0 1zM223.4 153.5l.4 .4 1 0 3.6-3.4 0-1 4.4-4 3-3.3 4.9-6.7 3.3-5.9 1.9-5 1.3-5 .4-5-.3-5-1.1-5-2.2-6-2-4-3.7-6-3.5-5-2-2-.2-1-3.1-3-.1-1-2.1-2 0-1-2.5-2.3-1 0-2.5 2.3 0 1-3.2 3-.1 1-2 2-.1 1-2.1 2-4 5.3-3.9 6.7-3.3 8-1.2 5-.3 5 .4 5 .9 4 2.2 6 2 4 3.1 4.9 3.7 5 3.1 3 .4 1 4.4 4 0 1zM377.1 115.6l.4 .3 1 0 3.6-3.3 0-1 2.1-2 .1-1 3.1-3 .2-1 2-2 3.9-5.7 3.2-6.3 1.7-5 1.2-6 .2-3-.1-4-1.1-6-2-6-2.1-4.6-3.6-6.3-1.9-2-1.5-3-1-1-.1-1-2.1-2-.1-1-2.1-2 0-1-2.1-2 0-1-1.5-1.4-1 0-2.5 2.4 0 1-2.1 2-.1 1-2 2-.1 1-1 1 0 1-2.1 2-3.5 5-2.5 4.5-2.1 4.4-2 6-1 6-.1 3 .2 4 .9 5 2 6 2.1 4.4 4.9 7.9 2.1 2.7 2.1 2 .1 1 2 2 .1 1 2.1 2 0 1zM68.6 108.6l0 .4 3.5 0 .4-.4 .1-1 3.1-3 .1-1 2-2 .1-1 2.1-2 .1-.8 2-1.9 3-4.3 2.7-5 2.4-6 1-4 .6-5 0-4-.6-5-1.1-4-2.3-6-4.4-7.9-1.9-2-1.4-2.3-.1-.7-2.1-2 0-1-1-1-.1-1-2.1-2 0-1-2.6-2.4-3.5 0zM530.9 79.6l.3 .4 1 0 1.5-1.4 0-1 3.1-3 .1-1 2.1-2 .1-1 2-2 .2-1 4.3-6 3.6-7.2 1.9-5.7 .6-3 .6-4 .1-4-1.2-8-1.1-4-1.9-5-2-4.2-3.4-5.8-.2-3.5-21.8 0 0 2.5-3.5 5.9-2 4.1-2 5-1.3 5-.7 6 .1 5 .7 5 2.1 6.9 3.1 6.6 4.7 7.4 .3 1 2.1 2 .1 1 2 2 .1 1 1 1 .1 1 2.1 2 0 1zM223.4 68.6l.4 .4 1 0 1.4-1.4 .1-1 2.1-2 0-1 2.1-2 .1-1 2-2 .1-1 1-1 .1-1 2.1-2 4-6.9 1.7-4 1.3-4 .9-4 .3-3-.2-8-1.3-6-2.9-8 0-2.5-30.9 0 0 2.5-2.9 8-1.2 6-.2 6 .4 4.5 1.9 7.5 2 4.8 4 7 1.8 2.1 .3 1 2.1 2 0 1 1 1 .1 1 2.1 2 0 1 2.1 2 .1 1zM377.1 29.7l.4 .3 1 0 1.5-1.3 0-1 1-1 .1-1 2-2 .1-1 2.1-2 .1-1 1-1 .1-1 .9-1 .1-1 2-1.9 2-3.7 .2-2.9-26.9 0 0 2.5 .8 1.7 2.7 4.3 .3 1 1 1 .1 1 2 2 .1 1 1 1 .1 1 2.1 2 0 1 2.1 2zM68.6 23.7l0 .4 3.5 0 .4-.4 0-1 2.2-2 0-1 2.1-2 .1-1 1-1 0-1 1-1 .1-1 2.1-2 .3-1 0-2.5-12.8 0z"/>
<path fill="#f8e621" d="M68.6 346.8l91.9 0 0-2.5-.3-3-.8-3-1.8-4-2-3-2.3-3-3.9-4-4.4-3.9-5-3.7-14-9-18-9.9-27.9-14.4-3-1.3-2-1.3-1 0-2-1.8-3.5 .1zM240.3 343.3l.5 .3 3 .1 2-1.9 1 0 5.6-3.5 5.5-4 6.1-5 4.3-4 3.7-4 4.3-6 2.9-6 1.3-6 .1-2.9-.4-4-1.8-6-3.2-6-5.3-7-5.8-6-12.3-10.7-16.2-12.3-4.8-3.2-4-3.2-1 .1-1-1-2 0-4 3.5-1 .1-5 3.2-15.9 11.2-6.6 5.3-5.3 5-5 6-2.8 5-1.4 5 0 5 1.3 5 1.5 3 2 3 4.3 4.9 6 5.5 8 6 8.9 6 25.8 15.5 3.2 1.6 1 .1zM386.1 333.3l.4 .3 2 0 1.5-1.3 0-1 1.1-1 0-2 1.1-1 0-1 1.1-1 .2-1 2-1.6 14.5-19.4 4.9-6.9 3.1-5 3-6 2.2-6 1.4-7 .2-6-1-6-1.2-4-1.6-4-3.2-6-4.9-7-7.8-9-9.1-9-7.5-6.9-10-8.3-1-.1-1 1-1 0-.5 .4-17 13.9-7.5 7-5.3 6-4.2 6-2.7 6-1.3 5-.1 6 .9 5 1.3 4 1.9 4 2.9 5 8.2 11 15.6 17.9 6.8 8.7 5.9 8.3 2.1 4.2 1.1 .8 .2 2 1.1 1 .1 2 1.1 1zM536.8 319.3l.4 .4 2-.1 .4-.3 0-2 1.1-1 0-3 1.1-1 0-3 1.1-1 0-2 1.1-1 .2-1.6 1-.5 2.1-4.8 14.4-25 6.1-12 2.7-7 1.4-5 1.1-6 .3-7-.8-7-2-7-3-6.9-4.6-8-5-7-8.4-10-12.4-13-4.5-4 0-1-.4-.3-1 0-4.6 4.3-.3 1.2-4.1 2.8-11.4 11-5.3 6-3.7 5-3.9 7-1.9 5-1.1 4.9-.2 6 .7 6 1.4 5 1.9 5 2.3 5 5.7 10 15.9 25 6.9 13 3.1 7 .6 1.9 1.2 1 .1 3 1.2 1 0 4 1.1 1zM68.6 276.4l0 .3 3.5 0 1-.9 1 0 3-2.2 4-1.9 5-3.3 8.8-7 4.9-5 3.6-5 2.3-5 .9-5-.1-4-1.2-5-1.8-4-3.9-6-4.2-4.9-4.8-5-10.5-9.6-4-2.4-1.1-1-.2-1-1.7-1.4-4.5 .1zM223.4 239.4l.4 .4 1-.1 4-3.7 2.3-1.6 .7-.1 5.1-3.9 4.7-4 5.7-6 3.7-4.9 2.6-5 1.5-5 .5-5-.6-5-1.5-5-2.5-5-3.9-6-8.4-10-6.8-7-7.1-6.3-2 0-.4 .3 0 1-8.6 7.5-6.2 6.5-7.3 9-3.1 5-1.9 4-1.6 6-.4 4 .4 4 1.4 5 2.5 5 2.6 4 4.1 4.9 4.9 5zM377.1 203.5l.4 .3 2 0 .4-.3 9.2-8 5.8-6 3.2-4 2.7-4 3-6 1.3-4 .7-6-.5-6-1-4-1.5-4-3-6-5.2-8-5.1-6.2-3.1-2.7-.1-1-2.1-2 0-1-4.3-4 0-1-1.4-1.3-1-.1-3.5 3.4 0 1-4.2 4-.1 1-3.2 2.9-2.9 3.5-6.3 8.5-3.3 6-1.9 5-1.1 5-.3 4 .4 5 1.2 5 2.2 5 2.9 5 5.2 7 5.4 6zM68.6 192.5l0 .3 3.5 0 9-7.6 6.1-6.7 4.3-6 2.2-4 1.9-5 1.1-6-.1-5-1-5-2.2-6-2.1-4-3.1-4.9-3.8-5-1.8-2-.6-1-3-3-.2-1-3.1-3 0-1-3.6-3.4-3.5 0zM530.9 170.5l.3 .3 1 0 4.7-4.3 .1-1 5.7-5 3.5-4.1 3.5-4.9 2.8-5 2.1-5 1.3-5 .7-5.9-.2-4-1-6-1.9-6-2.3-5-4.5-8-3.5-5-2-2-.1-1-2.1-2 0-1-2.1-2-.1-1-2.1-2 0-1-2.5-2.3-1 0-3.5 3.3 0 1-2.1 2 0 1-3.1 3-.2 1-2 2-.4 1-1.8 2-4.8 7.4-2.3 4.6-1.9 5-1.2 5-.5 6 .4 6 1.1 4.9 2.2 6 2 4 3 5 4.2 5.9 3 3.6 3.1 2.5 .1 1 3.3 3 0 1zM223.5 153.5l.3 .3 1 0 3.5-3.3 .1-1 4.3-4 1.5-2 1.6-1.5 4.8-6.5 3.2-5.9 1.9-5 1.3-5 .3-5-.2-5-1.1-5-2.2-5.9-2-4-3.7-6.1-3.1-4-.3-1-2-2-.1-1-3.1-3-.1-1-2.1-2 0-1-2.5-2.3-1 0-2.4 2.3-.1 1-3.1 3-.1 1-2 2-.2 1-2 2-.2 1-1.9 1.9-2 2.8-3.7 6.3-3.3 8-1.1 5-.4 5 .4 5 .9 4 2.2 6 2 4 3 4.9 3.7 5 3.3 3 .2 1 4.3 4 0 1zM377.2 115.6l.3 .3 1 0 3.5-3.3 .1-1 2.1-2 0-1 3.1-3 .2-1 2-2 .3-1 3.7-5.1 3-5.9 1.7-5 1.2-6 .2-3-.1-3.7-.9-5.3-1.1-4-2.4-6-4.4-7.9-2.2-2 0-1-1-1-.1-1-1-1-.1-1-2.1-2 0-1-2.1-2-.1-1-2-2-.1-1-1.4-1.3-1-.1-2.4 2.4-.1 1-2 2-.1 1-2.1 2 0 1-1 1-.1 1-2.1 2-.2 1-2.8 3.6-3 5.3-2 4.5-1.9 5.5-.9 5-.2 4 .1 3 .9 5.4 2 6.2 2 4.3 4.9 8.1 2 2 .2 1 2.1 2 0 1 2.1 2 .1 1 2 2 .1 1zM68.6 108.6l0 .3 3.5 0 .4-.3 0-1 3.2-3 0-1 2.1-2 0-1 2.1-2 .1-1 2.1-2 3.4-5 2.6-5.1 1.9-4.9 1-4 .6-5-.1-5-.6-4-1-4-2.8-7-3.9-6.9-2.1-2-.1-1-1-1-.1-1-2.1-2 0-1-1-1-.1-1-2-2-.1-1-2.5-2.4-3.5 0zM530.9 79.6l.3 .3 1 0 1.4-1.3 .1-1 3.1-3 .1-1 2-2 .1-1 2-2 .2-1 .9-1 .1-.9 1-1.1 .3-1 1.9-2 3.8-7.8 1.7-5.1 .6-3 .7-7-1-8.2-1.3-4.8-3.3-8-4.1-7-.1-3.5-21.3 0 0 2.5-3.8 6.3-2 4.2-1.8 4.5-1.3 5-.7 6 .1 5 .7 5 2 6.4 2 4.7 2 3.8 2.7 4 .3 1 1 1 .1 1 2 2 .1 1 2.1 2 .1 1 1 1 0 1 2.1 2 0 1zM223.5 68.6l.3 .4 1 0 1.4-1.4 0-1 2.1-2 .1-1 2-2 .1-1 2.1-2 .1-1 .9-1 .1-1 2.1-2 3.4-5.9 2.2-5 1.3-4 1.2-6 .1-5-.3-4-1.3-6-2.9-8 0-2.5-30.4 0 0 2.5-3 8-1.2 6-.2 7 .5 4 1.8 7 2.8 6.3 2.6 3.6 1.5 3 1 1 .1 1 2.1 2 0 1 1 1 .1 1 2 2 .1 1 2.1 2 0 1zM377.2 29.7l.3 .3 1 0 1.4-1.3 .1-1 1-1 0-1 2.1-2 0-1 2.1-2 .1-1 1-1 .1-1 1-1 0-1 2.1-2 1.1-2 .8-2 0-2.5-26.3 0 0 2.5 .5 1.3 1.8 2.7 .2 1 1 1 .1 1 .9 1 .2 1 2 2 .1 1 1 1 .1 1 2 2 .1 1 2.1 2zM68.6 23.7l0 .3 3.5 0 .4-.3 0-1 2.1-2 .1-1 2-2 .1-1 1-1 .1-1 1-1 0-1 2.1-2 .1-3.5-12.5 0z"/>
<path fill="#fde725" d="M68.6 346.8l91.3 0 0-2.5-.3-3-1.2-4-1.5-3-1.9-3-2.3-3-3.9-4-8.8-7.2-6-4.2-8-4.9-18-10-27.9-14.5-3-1.2-2-1.4-1 0-2-1.8-3.5 0zM240.4 343.3l.4 .3 3 .1 2-1.9 1 0 5.4-3.5 10.4-8 4.5-4 3.8-4 4.5-6 3.1-6 1-3 .7-4-.2-5.9-1.6-6-3-6-4.2-6-6.4-7-9-8.2-15-11.8-10-7.1-4-3.3-1 .1-1-1-2 0-4 3.6-1 0-5 3.3-16.9 12.1-6.4 5.3-5.1 5-4.1 5-1.8 3-1.3 3-1.2 5 .3 5 1.7 5 3 5 5.3 5.9 6.6 5.8 8 5.9 8.9 5.9 24 14.4 3 1.6 1 0zM386.1 333.3l.4 .3 2 0 1.4-1.3 .1-1 1-1 .1-2 1.1-1 0-1 1-1 .2-1 2.1-1.8 14.3-19.2 4.2-5.9 3.7-6 3.1-6 2.4-7 1.1-6 .1-6-1.2-7-2.5-7-3.9-7-5-7-7.9-9-9.1-9-16.3-14.2-1 0-1 .9-1 0-.4 .4-15.8 12.9-7.6 7-5.5 6-4.3 6-3 6-1.6 6-.2 5 .8 5 1.2 4 2.2 5 2.9 5 6.6 9 17.7 20.8 6 7.6 6 8.5 2 4 1.2 1 .1 2 1.1 1 .2 2 1 1zM536.9 319.3l.3 .4 2-.1 .4-.3 0-2 1-1 0-3 1.1-1 .1-3 1.1-1-.1-2 1.1-1 .3-2 1-.4 1.9-4.5 1.1-1.6 13.3-23.4 6.1-12 3-8 1.3-5 1-6 .1-6-1-8-2.1-7-3.2-6.9-4.1-7-4.9-7-8.3-10-6.5-7-5.7-5.3-.1-.7-4.5-4 0-1-.4-.3-1 0-4.6 4.3 0 1-.3 .3-4 2.8-10.3 9.9-6.3 7-3 4-3.6 6-2.5 6-1.4 5.9-.3 6 .6 5 1.2 5 1.8 5 2.3 5 5 9 17.5 28 6.3 12 2.5 6 .7 1 .5 1.9 1.2 1 .1 3 1.1 1 0 4 1.1 1zM68.6 276.4l0 .3 3.5 0 1-1 1 .1 3-2.4 1-.2 3-1.6 4.8-3.2 8.8-7 4.9-5 3.5-5 2.3-5 1-5-.3-5-1.4-5-2-4-3.3-5-5.1-5.9-3.9-4-10.3-9.5-1-.7-2-.8-2.2-2-.2-1-1.6-1.4-4.5 .1zM223.5 239.4l.3 .3 1 0 5-4.5 1-.8 1-.2 6-4.6 4.6-4.2 4.7-5 3-3.9 3.3-6 1.5-5 .5-5-.4-4-1.8-6-3-6-4.1-6-7.5-9-6.8-7-7-6.3-2 0-.4 .3 0 1-8.6 7.6-6 6.4-7.3 9-3.1 5-1.9 4-1.4 5-.5 5 .5 5 1.2 4 1.9 4 3.2 5 4.1 4.9 4.9 5zM377.2 203.5l.3 .3 2 0 .4-.3 9.1-8 5.7-6 3.3-4 2.7-4 2.9-6 1.3-4 .7-6-.5-6-1.3-5-2.1-5-2.7-5-6.5-9.4-3-3.5-3.2-3 0-1-2.1-2-.1-1-4.2-4 0-1-1.4-1.3-1 0-3.4 3.3-.1 1-4.1 4-.2 1-3.1 3-.4 1-3.6 3.8-5.1 7.1-3.3 6-1.9 5-1.1 5-.3 4 .2 4 1.1 5 2 5 3.3 6 5.3 7 5.4 6zM68.6 192.5l0 .3 3.5 0 9-7.7 6-6.6 3.6-5 2.8-5 1.9-5 1.1-6-.1-5-1-5-2.2-6-2.1-4-4.5-6.9-4.4-5-.2-1-3.1-3-.1-1-3.1-3-.1-1-3.5-3.3-3.5 0zM530.9 170.5l.3 .3 1 0 4.6-4.3 .1-1 6.3-5.7 6.3-8.3 2.9-5 2-5 1.3-5 .7-5.9-.3-4-.9-6-2-6-2-4.6-3-5.5-1.8-2.9-3-4-.3-1-2-2-.1-1-2-2-.1-1-2.1-2 0-1-2.1-2 0-1-2.5-2.3-1 0-3.4 3.3-.1 1-2 2 0 1-3.2 3-.1 1-2 2-.1 1-2 2-5 7.8-2.1 4.2-1.9 5-1.2 5-.5 6 .4 6 1.1 4.9 1.8 5 2.3 5 3 5 3.5 5 3.6 4.3 3.2 2.7 .1 1 3.3 3 0 1zM223.5 153.5l.3 .3 1 0 3.5-3.3 0-1 4.3-4 .2-.7 3.2-3.3 4.4-6 3.2-5.9 1.9-5 1.3-5 .3-5-.2-5-1.1-5-2-5.4-2-4.1-4-6.5-2-2.3-.1-.7-.9-1-.2-1-2-2-.1-1-3.1-3-.1-1-2-2-.1-1-2.4-2.3-1 0-2.4 2.3 0 1-3.1 3-.1 1-2.1 2-.1 1-2 2-.1 1-2 2-.4 1-1.7 2-3.5 6-2.2 5-1.2 3.6-1 4.4-.3 5 .3 5 .9 4 2.1 5.6 1.9 4.1 2 3.4 4.9 6.8 3.2 3 .2 1 4.3 4 0 1zM377.2 115.6l.3 .3 1 0 3.5-3.3 0-1 2.1-2 .1-1 3.1-3 .1-1 2-2 .1-1 4-5.5 2.3-4.5 2.2-6 1.2-6 .2-3 0-3-1-6-1.1-4-2.4-6-4.4-7.9-2.1-2 0-1-1-1-.1-1-1-1-.1-1-2-2-.1-1-2.1-2 0-1-2.1-2 0-1-1.4-1.3-1 0-2.4 2.3 0 1-2.1 2 0 1-2.1 2-.1 1-1 1 0 1-2.1 2-.1 1-1 1 0 1-2 1.9-2.3 4-2.3 5-2.1 6-1.1 8 .1 4 .8 5 1.9 6 2 4.5 2 3.7 2.8 3.8 .2 1 2 2 .2 1 2 2 .1 1 2.1 2 0 1 2.1 2 0 1zM68.6 108.6l0 .3 3.5 0 .4-.3 0-1 3.1-3 .1-1 2-2 .1-1 2-2 .1-1 2.1-2 .2-1 3-4 2.9-5.6 1.7-4.4 1-4 .6-5-.5-8-1.2-5-2.6-6.6-4.1-7.3-2-2-.1-1-.9-1-.2-1-2-2-.1-1-1-1 0-1-2.1-2 0-1-2.5-2.4-3.5 0zM530.9 79.6l.3 .3 1 0 1.4-1.3 0-1 3.1-3 .1-1 2.1-2 0-1 2.1-2 .1-1 .9-1 .1-1 1-1 .1-1 2-2 3.5-7 2-5.9 .6-3 .7-7-1-8-1.3-5-3.3-8-3-5-.3-1-.9-1 0-3.5-20.9 0 0 2.5-.9 1-.2 1-.9 1-2 3.7-2 4.3-1.6 4-1.3 5-.7 6 .2 5 .6 5 1.8 5.8 2 4.9 3 5.3 .8 .9 .2 1 1 1 .1 1 1 1 .1 1 2 2 .1 1 2.1 2 0 1 1 1 .1 1 2 2 .1 1zM223.5 68.6l.3 .3 1 0 1.4-1.3 0-1 2.1-2 0-1 2.1-2 .1-1 2-2 .1-1 1-1 0-1 2.1-2 .2-1 .9-1 3-5.6 1.4-3.3 1.3-4 1.1-6 .2-5-.3-4-1.3-6-2.9-8 0-2.5-30 0 0 2.5-3 8-1.2 6-.2 6 .3 4 1.6 6.7 3 7.1 1.7 2.2 .3 1 1 .9 .1 1 1 1 .1 1 1 1 .1 1 2 2 .1 1 1 1 0 1 2.1 2 0 1 2.1 2 0 1zM377.2 29.7l.3 .3 1 0 1.4-1.3 0-1 1-1 .1-1 2-2 .1-1 2-2 .1-1 1-1 .1-1 1-1 0-1 2.1-2 .5-2 .6-.6 .4-1.4 0-2.5-25.6 0 .3 3.5 .8 1 .2 1 1 1 .1 1 1 1 .1 1 .9 1 .1 1 2.1 2 0 1 1 1 .1 1 2.1 2 0 1 2.1 2zM68.6 23.7l0 .3 3.5 0 .3-.3 .1-1 2.1-2 0-1 2.1-2 0-1 1-1 .1-1 1-1 .1-1 2-2 .1-3.5-12.4 0z"/>
<path fill="#440154" fill-rule="evenodd" d="M68.6 346.8l78.4 0 0-5.6-.9-.9-.1-3-1-1 0-1-1-1 0-1-2-2 0-1-13-13-1 0-4-4-1 0-2-2-1 0-3-3-1 0-2-2-1 0-2-2-1 0-2-2-1 0-2-2-1 0-.9-.9-1.1-.1-1.9-1.9-1.1-.1-1.9-1.9-1-.1-2-1.9-1-.1-1-.9-1-.1-2-1.9-1-.1-2-1.9-1-.1-2-1.9-1-.1-1-.9-1-.2-2-1.8-1-.2-1.9-1.8-1.4-1-.7-.2-1-1-3.5 0zM240.7 343.3l1.1 .8 1 0 1-.5 2-2.1 1-.2 7-6.9 1-.1 5-5 .1-1 4.8-5 .1-1 1.9-2 .1-1 .9-.9 .1-1.1 .9-.9 .1-1.1 .9-.9 .1-1.1 .9-.9 .1-2.1 .9-.9 .1-5.1 .2-1.9-.2-2-.1-5-.9-1-.1-2.1-.9-.9-.1-2-1-1 0-1-1-1 0-1-1.9-2-.1-1-1.9-2-.1-1-2.9-3-.1-1-23.9-24-1-.2-10-10-1-.5-1 0-1 .5-3 3.1-.4 .1-.6 .6-1 .4-5 4.9-1 .1-4 3.9-1 .1-6.9 6.9-1 .1-5 5-.1 1-3.9 4-.3 1-1.7 2-.1 1-1.9 2-.1 2-.9 .9 0 2.1-1 1 0 6.3 .7 .7 .3 1 0 2 1 1 0 1 .9 1 .1 1 1 1 0 1 2 2 0 .3 .7 .7 .3 1 10 9.9 1 .1 4.9 4.9 1 .1 3 2.9 1 .1 3 2.9 1 .1 3 2.9 1 0 2 2 1 .1 3 2.9 1 .1 3 2.9 1 .1 2 1.9 1 .3 1 .8 2 1.9 1 .1zM387.4 338.3l.1 .2 1 0 .2-4.2 .9-1 .2-2 .7-.7 .1-1.3 .9-.9 .2-2.1 .8-.8 .2-1.2 1.8-1.9 .1-1.1 .9-.9 .1-1.1 .9-.9 .2-1.1 1.8-1.9 .1-1.1 1.9-1.9 0-1.1 2-1.9 0-1.1 1-.9 .5-1.1 .5-.5 0-.5 1-.9 0-1.1 2-1.9 0-1 1-1 0-1 1-1 .1-1 1.9-2 0-1 1-1 .1-2 .9-.9 0-1.1 1-1 .2-2 .8-.8 0-2.2 1-.9 0-3.1 1-1 0-14.1-.9-.9-.1-3.3-.8-.7-.2-1 0-2-1-1 0-1-1-1 0-1.1-1-.9 0-1.1-.9-.9-.1-1-1-1 0-1-1-1 0-1-2-2 0-1-2-2 0-1-2-2 0-1-3.9-4-.1-1-4.9-5-.1-1-6.9-6.9-.9-1-.2-1.1-6.8-6.9-.2-1.2-1-.5-1 0-1 .4-19.9 20.2-.1 1-3.9 4-.1 1-2.9 3 0 1-1 1-.1 1-.9 1-.1 1-.9 1 0 1-1 1-.1 2-.9 1-.1 4-.9 .9 0 5.1 .9 1 .1 4.1 .9 .9 .1 2.1 .9 .9 .1 2 1 1 0 1 1 1 0 1 1 1 0 1 1.8 2 .2 1 1 1 0 1 1.9 2 .1 1 1.9 2 .1 1 2.9 3 .1 1 2.9 3 .1 1 2.9 3 .1 1 2.9 3 0 1 2 2 0 .4 .6 .5 .4 1.1 2 1.9 0 1.1 1.9 1.9 .1 1.1 1 .9 0 .3 .7 .7 .3 1.1 1 .9 0 1.1 1 .9 0 1.1 1.8 1.9 .2 1.2 .9 .8 .1 2.1 .9 .9 .1 1.3 .8 .7 .2 2.3 .7 .7 .2 2 1 1-.2 1 .3 4.2zM538.2 327.3l1 0 .1-5-.1-.5-.3-.5 .3-.3 .3-1.7 .7-1.2 .2-3.8 .3-1 .5-.5 .3-2.5 .7-.7 .2-3.3 .8-.8 .1-1.2 .9-.9 .1-2 1-1 .1-2 .8-.9 .1-1.1 .9-.9 .1-1.1 .9-1 .1-1 .9-1 .1-1 .9-1 0-1 1-1 .1-2 .9-.9 .1-1.1 .9-.9 .2-1.1 .8-.9 .2-1.1 .8-.8 .5-1.2 .5-.5 .2-1.5 .8-.8 .1-1.2 .9-.9 .1-1.1 .9-1 0-1 1-1 0-1 1-1 0-2 1-.9 .2-2.1 .8-.8 0-1.2 1-1 .1-3 .9-.9 0-3.1 1-.9 .1-6.1 .9-.9 0-7.1-.9-1-.1-6.1-.9-.9-.1-3.1-.9-.9-.1-2.2-.8-.8-.2-2-1-.9 0-2.1-1-.9 0-1.1-1-.9 0-1.1-1-.9 0-1.1-1-.9 0-1.1-1.9-1.9-.1-1.1-1-.9 0-1.1-1.9-1.9-.1-1-1.9-2-.1-1-1.9-2-.1-1-2.8-3-.2-1-1.9-2-.1-.3-.7-.7-.3-1-2.9-3-.1-1-2.9-3-.1-.6-1-1.5-1.8-1.9-.2-1-1.8-2-.2-1 .3-1 3.7-3.9 .3-1.1 4.7-4.9 .1-1.1 2.9-2.9 .1-1.1 1.9-1.9 .1-1.1 .9-.9 .1-1.1 .9-.9 .3-1.1 .7-.7 .2-1.3 .8-.8 .1-1.2 .9-.9 .2-2.1 .8-.7 .1-2.3 .9-1 .1-5.9 .3-2 0-1-.3-1-.1-6.2-.8-.8-.2-3.1-.9-.9-.1-2.1-.9-.9-.1-2-1-1 0-1.1-.9-.9-.1-1.1-.9-.9-.1-1-.9-1-.1-1-.9-1-.1-1-1.9-2-.1-1.1-.9-.9-.1-1-1.9-2-.1-1-1.8-2-.2-1.1-1.8-1.9-.2-1.1-1.8-1.9-.1-1-.9-1-.1-1-.9-1-.2-1 .3-1 .7-.7 .6-1.3 2.5-3 .1-1 1.8-1.9 .1-1.1 2-2 0-1 .9-.9 .1-1.1 .9-.8 .2-1.2 1.8-1.9 .1-1.1 .9-1 .3-2 .7-.7 .1-1.3 .9-.9 .1-2.1 .9-1 .2-2.9 .8-.8 .1-5.2 .4-1 .5-.5 0-4.1-.5-.4-.4-1-.1-5.2-.8-.8-.2-3.4-.6-.6-.3-1-.1-1.2-.8-.8-.2-2.1-.9-.9-.1-2-.9-1-.1-1.1-.9-.9-.1-1.1-.9-.9-.1-1.1-.9-.9-.1-3.5-19 0 0 2.5-.9 .9-.1 1.1-1 1 0 1-.9 .9-.1 1.1-.9 .9-.2 2.1-.8 .8-.1 1.2-.9 1-.1 2-.9 .9-.1 3.1-.9 1 0 17 .9 1 .1 3 .9 1 .1 1.9 .9 1 .1 2.1 .9 .9 .1 1.1 .9 .9 .1 1.1 .9 .9 .1 1.1 .9 .9 .1 1.1 .9 .9 .1 1.1 .9 .9 .1 1.1 1.8 1.9 .2 1.1 .9 .9 .1 .5 .5 .5 .5 1.2 .8 .8 .1 1 .9 1 .1 .9 1.7 2.1 .3 1-.2 1-.8 1-.3 1-1.7 1.9-.3 1.1-1.7 2-.1 1-2.8 3-.1 1-2 2 0 1-1.9 2-.1 1-.9 .9-.2 1.1-1.8 2-.1 1-.9 1-.1 1-.9 1-.2 2-.8 .8-.1 1.2-.9 .9-.1 2.1-.9 .9-.1 3.1-.9 1 0 13 .9 1 .1 3 .9 .9 .1 2.2 .9 .8 .1 2.1 .9 .9 .1 1.1 .9 .9 .1 1.1 .9 .9 .1 1.1 .9 .9 .1 1.1 .9 .9 .1 1 1.9 2 .1 1.1 1.8 1.9 .2 1.1 1.8 1.9 .2 1.1 2.8 2.9 .2 1.1 2.8 2.9 0 1 .9 1 .2 1-.2 1-3.8 4-.1 1-1.8 1.6-.2 .4-6.8 7-.5 1-.5 .5-.1 .5-3.9 4-.1 1-2.9 3-.1 1-1.9 2 0 1-1 .9-.1 1.1-.9 .9-.2 1.1-.8 .8-.2 1.2-.8 .7-.1 1.3-.9 .9-.1 2.1-.9 .9 0 2.1-.3 1-.7 .6 0 13.3 .9 1 .1 4 1 1 0 2.1 1 .9 0 1.2 .9 .8 .1 2.1 1 .9 0 1.1 .9 .9 .1 1.1 .9 .9 .1 1.2 .8 .8 .2 1.2 .8 .8 .2 1.1 .9 .9 .1 1.1 .9 .9 .1 1 .9 1 .1 1 1 1 0 1 1 1 0 .4 .6 .6 .4 1.1 .9 .9 .1 1 .9 1 .1 1 .9 1 .1 1 1.7 2 .3 1.1 .9 .9 .1 1 .9 1 .1 1 .9 1 .1 1 .9 1 .1 1 .9 1 .1 1 .9 1 .1 1.1 .9 .9 0 1.4 .6 .6 .4 1 0 1 1 1 0 1.1 .9 .9 .1 2 1 1 0 2.1 .9 .9 .1 2.1 .9 .9 .1 2.1 .9 .8 .1 3 .9 1-.2 1 .3 4 .9 1-.2 1 .3 7 0 .5 .4 .5 .3 1zM68.6 276.4l0 .3 3.5 0 1-1.1 1-.2 3-2.8 1-.2 3-2.9 1-.1 12-12 .2-1 2.8-3 0-1 1-1 0-1 .9-1 .1-2 .9-.9 .1-3.1 .4-1 .5-.6 0-3.7-.6-.7-.3-1-.1-3-.9-1-.1-2-.9-1-.1-1-.9-1 0-1-1-1 0-1-1.9-2-.1-1-2-2 0-1-3.9-3.9-.1-1.1-10-10.2-1.9-1.7-.9-1-.2-1.1-3-3.1-3.5 0zM223.6 239.4l.2 .8 1 0 .3-.8 .9-1 4.8-4.8 1-.1 6-6 .1-1.1 4.9-4.9 .1-1.1 1.9-1.9 .1-1 1.9-2 0-1 1-1 .1-2 .9-.9 0-1.1 .3-1 .7-.7 .1-4.3 .9-1 0-3.4-.7-.6-.3-1 0-4.1-1-.9 0-2.1-1-.9 0-2-1-1 0-1-1-1 0-1-1-1 0-1-2-2 0-1-1.9-2-.1-1-2-2 0-.5-.5-.5-.5-1-2.7-3-.3-1-2.9-3-.8-1-.3-1-3.8-4-.2-.8-1.8-2.2-.1-1 .2-1 2.7-2.9 .2-1.1 3.8-3.9 .4-1.1 .6-.5 .1-.5 1.9-1.9 .1-1.1 1.9-1.9 .1-1.1 1.9-1.9 0-1 1-1 0-1 1-1 0-1 1-1 .1-2 .9-.9 .1-2.1 .9-.9 .1-3.1 .9-.9 0-11.1-1-1 0-3.1-.9-.9-.1-2.1-.9-.9-.1-2.1-1-.9 0-1.1-.9-.9-.1-1.1-.9-.9-.1-1.1-.9-.9-.1-1-1-1 0-1-1.8-2-.2-1-.9-1-.1-1-1.9-2-.1-1-1.9-2-.1-1-2.7-3-.3-1.2-.8-.8-.2-1.1-1-.5-1 0-1 .5-.3 1.1-1.7 2-.2 1-1.8 2-.2 1-1.8 2-.3 1-1.7 2-.1 1-1.9 2 0 1-1 .9-.4 1.1-.6 .6 0 .4-1 1 0 1-1 1 0 1-1 1 0 1-.4 1-.6 .6 0 1.4-1 .9 0 2.1-1 1-.1 4-.9 1 0 10 1 1 .1 3.1 .8 .9 .1 2.1 .9 .9 .1 2 1 1 0 1 1 1 0 1 1 1 0 1 1.8 1.9 .2 1.1 1 .9 0 1.1 2 1.9 0 1.1 2.8 2.9 .2 1.1 2.8 2.9 .7 1 .5 1.2 .9 .8 .1 .7 .9 1.3-.1 1-1.8 1.9-.2 1.1-5.8 6-.2 1-3.8 4-.1 1-3.9 4 0 1-2 2 0 1-.9 1-.5 1-.5 .5-.1 .5-.9 1-.1 1-.9 1-.1 1-1 1 0 2-.9 .9-.1 2.1-.9 1 0 12.1 .8 .9 .2 3 .9 1 .1 1.1 .8 .9 .2 1.2 .7 .8 .3 1 .9 1 .1 1 .9 1 0 1 2.9 2.9 .1 1.1 3.9 3.9 .1 1.1zM377.3 204.5l.2 .6 1 0 .3-.6 .9-1 4.8-5 2-2.5 .1-.5 4.9-5 .1-1 1.9-2 .2-1 1.8-2 .1-1 .9-.9 .1-1.1 1.9-2 .1-2 .9-.9 0-1.1 1-1 0-3 1-1 0-12.3-.7-.7-.3-1 0-2.1-.9-.9-.1-2.1-.9-.9-.1-2-1-1 0-1-1-1 0-1-1-1 0-1-1-1 0-1-1.9-2-.1-1-1.9-2-.1-.9-1.9-2-.1-1.1-1.9-1.9-.1-1.1-2.8-2.9-.2-1.1-1.8-1.9-.2-1.1-1.8-1.9-.2-1-1-.7-1 0-3 3.6-.2 1.1-3.8 3.9-.2 1.1-2.8 2.9-.1 1.1-1.8 1.9-.3 1.1-1.7 1.9-.2 1-1.8 2-.1 1-.9 1-.2 1-.8 .9-.4 1.1-.6 .6-.1 1.4-.9 .9-.1 1.1-.9 1-.1 2-.9 1-.1 4-.9 1 0 8.1 .9 .9 .1 4.1 .9 .9 .1 2 .9 1 .1 1.5 .5 .5 .4 1 .1 1 .9 1 .1 1 1.8 2 .2 1 .9 1 .1 1 1.9 2 .1 1 2.8 3 .1 1 3 3 0 .5 .5 .5 .5 1 3.9 4 .1 .4 .6 .6 .4 1.1zM68.6 193.5l3.5 0 .2-1 1.8-1.6 .1-.4 4.9-5 .5-1 .5-.5 .1-.5 2.9-3 .1-1 1.9-2 .2-1 1.8-2 0-1 1-.9 .1-1.1 .9-.9 .1-1.1 .9-.9 0-1.1 1-.9 .1-2.1 .9-.9 .1-3.1 .9-1 0-10-1-1 0-3-1-1 0-2-1-1 0-1.3-.7-.7-.3-1 0-1-1.9-2-.1-1-.9-.9-.1-1.1-1-.9 0-1-2-2 0-1.1-2-1.9 0-1.1-2.9-2.9-.1-1-2.7-3-.3-1.1-2.8-2.9-.2-1.2-3.5 0zM377.4 116.6l.1 .6 1 0 .3-1.6 2.7-2.9 .4-1.1 2.6-3 .1-1 1.9-2 .1-1 1.9-2 .1-1 .9-.9 .3-1.1 1.7-2 0-1 1-1 0-1 1-1 .1-2 .9-.9 .1-2.1 .9-.9 .1-2.1 .9-.9 .1-5.1 .9-1 0-5.2-.8-.8-.1-1-.1-4.2-.8-.8-.2-3-.9-1-.1-2-.9-1-.1-2-1-1 0-1-1-1 0-1-.9-1-.1-1-.9-.9-.1-1.1-1.9-1.9-.1-1.2-.8-.8-.2-1.1-.9-.9-.1-1.1-1.8-1.9-.2-1.1-1.7-1.9-.3-1.2-.8-.8-.1-1-.9-1-.2-1-1-.8-1 0-.3 .8-1.7 1.8-.3 1.2-1.7 1.9-.1 1.1-1.9 1.9-.1 1.1-.9 .9-.1 1.1-1.9 1.9-.1 1.1-.9 .9-.2 1.1-1.7 1.9-.1 1-1 1 0 1-.9 1-.1 1-.3 1-.6 .7-.1 1.3-.9 1-.1 2-.9 1-.1 2-.4 1-.5 .6-.2 6.4 .2 10.1 .8 .9 .1 3 1 1 .1 2 .9 1 .1 1.1 .9 .9 .1 1.5 .4 .5 .5 1 .1 .5 .5 .5 .5 1.1 .8 .9 .1 1.1 1 .9 0 1 1 1 0 .5 .6 .5 .4 1.1 1.9 1.9 .1 1.1 1.8 1.9 .2 1.1 .9 .9 .1 .7 1.9 2.3 .1 .7zM68.6 108.6l0 .3 3.5 0 .4-1.3 2.6-2.9 .5-1.1 .5-.5 .1-.5 .9-.9 .1-1.1 1.9-1.9 .2-1.1 1.8-2 .1-1 .9-.9 .2-1.1 1.8-2 0-1 1-1 0-1 .3-1 .7-.7 0-1.3 1-.9 0-2.1 1-.9 0-3.1 1-1 0-13.1-.9-.9-.1-4-1-1 0-2-1-1 0-1.2-.8-.8-.2-1.9-1-1 0-1.1-1-.9 0-1-1-1 0-1.1-1.9-1.9-.1-1.1-.9-.9-.1-1.1-1.9-1.9-.1-1.1-.9-.9-.1-1.1-1.8-1.9-.2-1.1-1.8-1.9-.2-1.3-3.5 0zM223.7 69.6l.1 .4 1 0 .3-1.4 .8-1 .1-1 1.8-1.8 .3-1.2 1.7-1.9 .5-1.1 .5-.5 .1-.5 .9-.9 .1-1.1 .9-.8 .1-1.2 1.9-1.9 .1-1.1 .9-1 .1-.9 .9-1 0-1 1-1 0-1 .3-1 .7-.7 0-1.3 1-1 .2-3 .8-.8 .1-3.2 .9-1 0-11.4-.6-.6-.4-1 0-3.2-.8-.8-.2-3.1-1-.9 0-2-1-1 0-3.5-27 0 0 3.5-1 .9-.1 2.1-.9 .9 0 2.1-1 1 0 4-1 1 0 7 0 4 .9 1 .1 4 1 1 0 2.1 .9 .9 .1 2 1 1 0 1.1 .9 .9 .1 1.1 .9 .9 .1 1.1 .9 .8 .1 1.3 .7 .7 .3 1.1 .9 .9 .1 1.1 1.8 1.9 .2 1.2 .9 .8 .1 1.1 1.7 1.9 .3 1.1 .9 .9 .1 .6 .5 .4 .5 1.5 .6 .5zM377.5 30.7l0 .4 1 0 .4-1.4 .6-.7 .4-1.3 1.6-1.9 .1-1.1 .9-.9 .3-1.1 1.8-2 0-1 .9-.9 .2-1.1 .8-.8 .1-1.2 1.9-2 .1-1 .9-1 .3-2 0-2.5-23.3 0 0 3.6 1 .9 0 1.1 1 .9 0 1 1 1 0 1.1 1 .9 0 1 1 1 0 .5 .5 .5 .5 1.1 .9 .9 .1 1.1 1.7 1.9 .3 1.3 .7 .7 .3 1.3 .7 .7zM68.6 23.7l0 .2 3.5 0 .2-1.2 1.8-1.9 .4-1.1 1.6-1.9 .1-1.1 .9-.9 .1-1.1 .9-.9 .3-1.1 1.7-2 0-3.5-11.5 0z"/>
</g>
<g transform="translate(121.0 293.3) rotate(-90)"><text class="n" font-style="italic" font-size="40">J</text><text class="n" transform="translate(18.8 .6) scale(.88 1)" font-size="27">0</text></g>
<g transform="translate(270.5 251.2) rotate(-90)"><text class="n" font-style="italic" font-size="40">J</text><text class="n" transform="translate(18.8 .6) scale(.88 1)" font-size="27">2</text></g>
<g transform="translate(428.0 216.4) rotate(-90)"><text class="n" font-style="italic" font-size="40">J</text><text class="n" transform="translate(18.8 .6) scale(.88 1)" font-size="27">4</text></g>
<g transform="translate(577.4 181.9) rotate(-90)"><text class="n" font-style="italic" font-size="40">J</text><text class="n" transform="translate(18.8 .6) scale(.88 1)" font-size="27">6</text></g>
<path d="M70.60 344.8v-6.3M147.46 344.8v-6.3M224.31 344.8v-6.3M301.17 344.8v-6.3M378.03 344.8v-6.3M454.89 344.8v-6.3M531.74 344.8v-6.3M608.60 344.8v-6.3M70.6 344.80h6.3M70.6 288.87h6.3M70.6 232.93h6.3M70.6 177.00h6.3M70.6 121.07h6.3M70.6 65.13h6.3M70.6 9.20h6.3" stroke="#000" stroke-width="1.6" fill="none"/>
<rect x="70.6" y="9.2" width="538.0" height="335.6" fill="none" stroke="#000" stroke-width="1.9"/>
<text class="t" x="70.6" y="372.2" font-size="26.7" text-anchor="middle">0</text>
<text class="t" x="147.5" y="372.2" font-size="26.7" text-anchor="middle">1</text>
<text class="t" x="224.3" y="372.2" font-size="26.7" text-anchor="middle">2</text>
<text class="t" x="301.2" y="372.2" font-size="26.7" text-anchor="middle">3</text>
<text class="t" x="378.0" y="372.2" font-size="26.7" text-anchor="middle">4</text>
<text class="t" x="454.9" y="372.2" font-size="26.7" text-anchor="middle">5</text>
<text class="t" x="531.7" y="372.2" font-size="26.7" text-anchor="middle">6</text>
<text class="t" x="608.6" y="372.2" font-size="26.7" text-anchor="middle">7</text>
<text class="t" x="63.8" y="355.2" font-size="26.7" text-anchor="end">0</text>
<text class="t" x="63.8" y="299.3" font-size="26.7" text-anchor="end">2</text>
<text class="t" x="63.8" y="243.3" font-size="26.7" text-anchor="end">4</text>
<text class="t" x="63.8" y="187.4" font-size="26.7" text-anchor="end">6</text>
<text class="t" x="63.8" y="131.5" font-size="26.7" text-anchor="end">8</text>
<text class="t" x="63.8" y="75.5" font-size="26.7" text-anchor="end">10</text>
<text class="t" x="63.8" y="19.6" font-size="26.7" text-anchor="end">12</text>
<rect x="620.0" y="65.0" width="11.6" height="224.0" fill="url(#g)" stroke="#000" stroke-width="1.5"/>
<text class="t" x="637.9" y="296.8" font-size="21.3">0</text>
<text class="t" x="637.9" y="184.8" font-size="21.3">1</text>
<text class="t" x="637.9" y="72.8" font-size="21.3">2</text>
<path d="M631.6 289.00h6.4M631.6 177.00h6.4M631.6 65.00h6.4" stroke="#000" stroke-width="1.5" fill="none"/>
<text class="t" x="622.9" y="49.4" font-size="20.1">×10<tspan font-size="14.6" dy="-7.9">−2</tspan></text>
<text class="s" x="297.9" y="409.0" font-size="33">I<tspan font-size="23.1" dy="4.4" textLength="12.6" lengthAdjust="spacingAndGlyphs">0</tspan><tspan dy="-4.4" dx="1.8">/</tspan><tspan dx="-.4">(</tspan><tspan dx="-.5">I</tspan><tspan font-size="23.1" dy="4" dx=".6">c</tspan><tspan dy="-4" dx="2.2">)</tspan></text>
<text class="s" transform="translate(22.3 258.3) rotate(-90)" font-size="33" letter-spacing="-.1">I<tspan font-size="23.1" dy="5.4">ac</tspan><tspan dy="-5.4">(Re/2ħω)</tspan></text>
<text class="s" transform="translate(671.2 0) rotate(-90)" font-size="24.5"><tspan x="-265.1" y="0">d</tspan><tspan x="-252.5" y="0" font-size="33.3" class="m" stroke="#fff" stroke-width=".75">⟨</tspan><tspan x="-239.2" y="0" font-size="21.5" font-style="normal">V</tspan><tspan x="-225.6" y="0" font-size="33.3" class="m" stroke="#fff" stroke-width=".75">⟩</tspan><tspan x="-212.8" y="0">/dI(ħω</tspan><tspan x="-146.5" y="0">/2eI</tspan><tspan x="-107.5" y="3.2" font-size="16.8">c</tspan><tspan x="-98.0" y="0">)</tspan></text>
</svg>
</body></html>
